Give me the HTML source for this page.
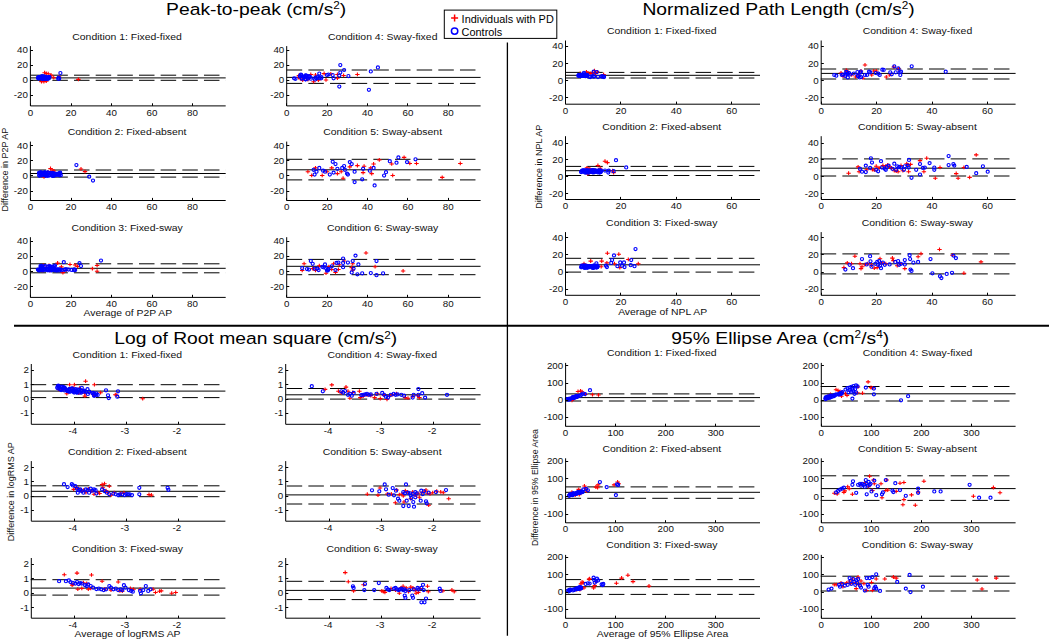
<!DOCTYPE html><html><head><meta charset="utf-8"><style>html,body{margin:0;padding:0;background:#fff;width:1050px;height:639px;overflow:hidden}svg{display:block}</style></head><body><svg width="1050" height="639" viewBox="0 0 1050 639" font-family="&quot;Liberation Sans&quot;, sans-serif">
<rect width="1050" height="639" fill="#fff"/>
<path d="M30.70 75.20H225.70M30.70 80.30H225.70" stroke="#000" stroke-width="1" stroke-dasharray="15.5 6.16" fill="none"/>
<path d="M30.40 77.90H225.70" stroke="#000" stroke-width="1" fill="none"/>
<path d="M42.4 72.8h4.4M44.6 70.8v3.8" stroke="#f00" stroke-width="1.1"/>
<path d="M44.1 73.5h4.4M46.3 71.5v3.8" stroke="#f00" stroke-width="1.1"/>
<path d="M46.0 73.7h4.4M48.2 71.7v3.8" stroke="#f00" stroke-width="1.1"/>
<path d="M48.8 75.1h4.4M51 73.1v3.8" stroke="#f00" stroke-width="1.1"/>
<path d="M48.4 75.9h4.4M50.6 73.9v3.8" stroke="#f00" stroke-width="1.1"/>
<path d="M39.3 81.6h4.4M41.5 79.6v3.8" stroke="#f00" stroke-width="1.1"/>
<path d="M41.7 81.6h4.4M43.9 79.6v3.8" stroke="#f00" stroke-width="1.1"/>
<path d="M44.1 81.3h4.4M46.3 79.3v3.8" stroke="#f00" stroke-width="1.1"/>
<path d="M51.5 77.8h4.4M53.7 75.8v3.8" stroke="#f00" stroke-width="1.1"/>
<path d="M56.9 76.8h4.4M59.1 74.8v3.8" stroke="#f00" stroke-width="1.1"/>
<path d="M76.2 79.4h4.4M78.4 77.4v3.8" stroke="#f00" stroke-width="1.1"/>
<circle cx="41.7" cy="77.3" r="1.55" stroke="#00f" stroke-width="1.15" fill="none"/>
<circle cx="45.5" cy="77.1" r="1.55" stroke="#00f" stroke-width="1.15" fill="none"/>
<circle cx="44.2" cy="77.7" r="1.55" stroke="#00f" stroke-width="1.15" fill="none"/>
<circle cx="38.7" cy="77.9" r="1.55" stroke="#00f" stroke-width="1.15" fill="none"/>
<circle cx="38.4" cy="77.8" r="1.55" stroke="#00f" stroke-width="1.15" fill="none"/>
<circle cx="38.8" cy="77.2" r="1.55" stroke="#00f" stroke-width="1.15" fill="none"/>
<circle cx="42.9" cy="78.5" r="1.55" stroke="#00f" stroke-width="1.15" fill="none"/>
<circle cx="39.4" cy="77.4" r="1.55" stroke="#00f" stroke-width="1.15" fill="none"/>
<circle cx="45.2" cy="78.7" r="1.55" stroke="#00f" stroke-width="1.15" fill="none"/>
<circle cx="44.6" cy="77.7" r="1.55" stroke="#00f" stroke-width="1.15" fill="none"/>
<circle cx="49.2" cy="77.1" r="1.55" stroke="#00f" stroke-width="1.15" fill="none"/>
<circle cx="47.9" cy="77.5" r="1.55" stroke="#00f" stroke-width="1.15" fill="none"/>
<circle cx="39.7" cy="77.2" r="1.55" stroke="#00f" stroke-width="1.15" fill="none"/>
<circle cx="41.5" cy="78.5" r="1.55" stroke="#00f" stroke-width="1.15" fill="none"/>
<circle cx="40.1" cy="78.0" r="1.55" stroke="#00f" stroke-width="1.15" fill="none"/>
<circle cx="45.3" cy="77.7" r="1.55" stroke="#00f" stroke-width="1.15" fill="none"/>
<circle cx="44.3" cy="77.1" r="1.55" stroke="#00f" stroke-width="1.15" fill="none"/>
<circle cx="38.7" cy="77.4" r="1.55" stroke="#00f" stroke-width="1.15" fill="none"/>
<circle cx="45.8" cy="77.8" r="1.55" stroke="#00f" stroke-width="1.15" fill="none"/>
<circle cx="41.6" cy="78.1" r="1.55" stroke="#00f" stroke-width="1.15" fill="none"/>
<circle cx="43.2" cy="77.5" r="1.55" stroke="#00f" stroke-width="1.15" fill="none"/>
<circle cx="47.1" cy="78.3" r="1.55" stroke="#00f" stroke-width="1.15" fill="none"/>
<circle cx="40.8" cy="78.0" r="1.55" stroke="#00f" stroke-width="1.15" fill="none"/>
<circle cx="44.0" cy="78.6" r="1.55" stroke="#00f" stroke-width="1.15" fill="none"/>
<circle cx="46.4" cy="77.5" r="1.55" stroke="#00f" stroke-width="1.15" fill="none"/>
<circle cx="49.3" cy="77.2" r="1.55" stroke="#00f" stroke-width="1.15" fill="none"/>
<circle cx="42.8" cy="78.4" r="1.55" stroke="#00f" stroke-width="1.15" fill="none"/>
<circle cx="39.7" cy="77.9" r="1.55" stroke="#00f" stroke-width="1.15" fill="none"/>
<circle cx="38.5" cy="78.2" r="1.55" stroke="#00f" stroke-width="1.15" fill="none"/>
<circle cx="46.8" cy="78.0" r="1.55" stroke="#00f" stroke-width="1.15" fill="none"/>
<circle cx="48.1" cy="77.6" r="1.55" stroke="#00f" stroke-width="1.15" fill="none"/>
<circle cx="46.0" cy="78.1" r="1.55" stroke="#00f" stroke-width="1.15" fill="none"/>
<circle cx="44.7" cy="77.8" r="1.55" stroke="#00f" stroke-width="1.15" fill="none"/>
<circle cx="47.7" cy="78.7" r="1.55" stroke="#00f" stroke-width="1.15" fill="none"/>
<circle cx="43.5" cy="78.2" r="1.55" stroke="#00f" stroke-width="1.15" fill="none"/>
<circle cx="38.7" cy="78.3" r="1.55" stroke="#00f" stroke-width="1.15" fill="none"/>
<circle cx="45.4" cy="78.8" r="1.55" stroke="#00f" stroke-width="1.15" fill="none"/>
<circle cx="47.5" cy="77.5" r="1.55" stroke="#00f" stroke-width="1.15" fill="none"/>
<circle cx="42.4" cy="78.2" r="1.55" stroke="#00f" stroke-width="1.15" fill="none"/>
<circle cx="38.3" cy="77.8" r="1.55" stroke="#00f" stroke-width="1.15" fill="none"/>
<circle cx="39.9" cy="77.2" r="1.55" stroke="#00f" stroke-width="1.15" fill="none"/>
<circle cx="38.7" cy="78.4" r="1.55" stroke="#00f" stroke-width="1.15" fill="none"/>
<circle cx="39.5" cy="77.4" r="1.55" stroke="#00f" stroke-width="1.15" fill="none"/>
<circle cx="42.5" cy="78.6" r="1.55" stroke="#00f" stroke-width="1.15" fill="none"/>
<circle cx="38.9" cy="77.8" r="1.55" stroke="#00f" stroke-width="1.15" fill="none"/>
<circle cx="44.3" cy="78.6" r="1.55" stroke="#00f" stroke-width="1.15" fill="none"/>
<circle cx="47.4" cy="78.6" r="1.55" stroke="#00f" stroke-width="1.15" fill="none"/>
<circle cx="41.2" cy="77.7" r="1.55" stroke="#00f" stroke-width="1.15" fill="none"/>
<circle cx="42.1" cy="78.6" r="1.55" stroke="#00f" stroke-width="1.15" fill="none"/>
<circle cx="49.0" cy="77.3" r="1.55" stroke="#00f" stroke-width="1.15" fill="none"/>
<circle cx="40.0" cy="77.4" r="1.55" stroke="#00f" stroke-width="1.15" fill="none"/>
<circle cx="40.7" cy="77.9" r="1.55" stroke="#00f" stroke-width="1.15" fill="none"/>
<circle cx="44.8" cy="77.5" r="1.55" stroke="#00f" stroke-width="1.15" fill="none"/>
<circle cx="38.0" cy="77.8" r="1.55" stroke="#00f" stroke-width="1.15" fill="none"/>
<circle cx="42.2" cy="78.0" r="1.55" stroke="#00f" stroke-width="1.15" fill="none"/>
<circle cx="49.0" cy="78.2" r="1.55" stroke="#00f" stroke-width="1.15" fill="none"/>
<circle cx="43.9" cy="78.1" r="1.55" stroke="#00f" stroke-width="1.15" fill="none"/>
<circle cx="45.8" cy="77.1" r="1.55" stroke="#00f" stroke-width="1.15" fill="none"/>
<circle cx="48.3" cy="78.4" r="1.55" stroke="#00f" stroke-width="1.15" fill="none"/>
<circle cx="48.1" cy="78.4" r="1.55" stroke="#00f" stroke-width="1.15" fill="none"/>
<circle cx="42" cy="76.2" r="1.55" stroke="#00f" stroke-width="1.15" fill="none"/>
<circle cx="44" cy="76.4" r="1.55" stroke="#00f" stroke-width="1.15" fill="none"/>
<circle cx="60.4" cy="73" r="1.55" stroke="#00f" stroke-width="1.15" fill="none"/>
<circle cx="58.2" cy="78.7" r="1.55" stroke="#00f" stroke-width="1.15" fill="none"/>
<circle cx="59.2" cy="78.7" r="1.55" stroke="#00f" stroke-width="1.15" fill="none"/>
<circle cx="58.7" cy="77.5" r="1.55" stroke="#00f" stroke-width="1.15" fill="none"/>
<path d="M30.40 46.10V105.90H225.70" stroke="#000" stroke-width="1" fill="none"/>
<path d="M30.40 50.50h2.6M30.40 65.50h2.6M30.40 80.50h2.6M30.40 95.50h2.6M30.50 105.90v-2.6M71.50 105.90v-2.6M111.50 105.90v-2.6M152.50 105.90v-2.6M192.50 105.90v-2.6" stroke="#000" stroke-width="1" fill="none"/>
<text transform="translate(28.00,53.00) scale(1.180,1)" font-size="8.3" text-anchor="end" fill="#111" >40</text>
<text transform="translate(28.00,68.10) scale(1.180,1)" font-size="8.3" text-anchor="end" fill="#111" >20</text>
<text transform="translate(28.00,83.20) scale(1.180,1)" font-size="8.3" text-anchor="end" fill="#111" >0</text>
<text transform="translate(28.00,98.30) scale(1.180,1)" font-size="8.3" text-anchor="end" fill="#111" >-20</text>
<text transform="translate(30.50,115.50) scale(1.180,1)" font-size="8.3" text-anchor="middle" fill="#111" >0</text>
<text transform="translate(71.00,115.50) scale(1.180,1)" font-size="8.3" text-anchor="middle" fill="#111" >20</text>
<text transform="translate(111.50,115.50) scale(1.180,1)" font-size="8.3" text-anchor="middle" fill="#111" >40</text>
<text transform="translate(152.00,115.50) scale(1.180,1)" font-size="8.3" text-anchor="middle" fill="#111" >60</text>
<text transform="translate(192.50,115.50) scale(1.180,1)" font-size="8.3" text-anchor="middle" fill="#111" >80</text>
<text transform="translate(127.05,39.60) scale(1.160,1)" font-size="9.0" text-anchor="middle" fill="#111" >Condition 1: Fixed-fixed</text>
<path d="M30.70 170.00H225.70M30.70 177.10H225.70" stroke="#000" stroke-width="1" stroke-dasharray="15.5 6.16" fill="none"/>
<path d="M30.40 173.50H225.70" stroke="#000" stroke-width="1" fill="none"/>
<path d="M48.3 168.6h4.4M50.5 166.6v3.8" stroke="#f00" stroke-width="1.1"/>
<path d="M49.8 170h4.4M52 168.0v3.8" stroke="#f00" stroke-width="1.1"/>
<path d="M45.8 172h4.4M48 170.0v3.8" stroke="#f00" stroke-width="1.1"/>
<path d="M51.8 171h4.4M54 169.0v3.8" stroke="#f00" stroke-width="1.1"/>
<path d="M43.8 175h4.4M46 173.0v3.8" stroke="#f00" stroke-width="1.1"/>
<path d="M78.8 169h4.4M81 167.0v3.8" stroke="#f00" stroke-width="1.1"/>
<path d="M82.8 171.6h4.4M85 169.6v3.8" stroke="#f00" stroke-width="1.1"/>
<path d="M55.8 174h4.4M58 172.0v3.8" stroke="#f00" stroke-width="1.1"/>
<path d="M41.8 177h4.4M44 175.0v3.8" stroke="#f00" stroke-width="1.1"/>
<circle cx="45.3" cy="173.7" r="1.55" stroke="#00f" stroke-width="1.15" fill="none"/>
<circle cx="40.7" cy="174.5" r="1.55" stroke="#00f" stroke-width="1.15" fill="none"/>
<circle cx="40.0" cy="172.5" r="1.55" stroke="#00f" stroke-width="1.15" fill="none"/>
<circle cx="42.3" cy="172.9" r="1.55" stroke="#00f" stroke-width="1.15" fill="none"/>
<circle cx="44.4" cy="172.5" r="1.55" stroke="#00f" stroke-width="1.15" fill="none"/>
<circle cx="39.0" cy="172.8" r="1.55" stroke="#00f" stroke-width="1.15" fill="none"/>
<circle cx="40.6" cy="173.6" r="1.55" stroke="#00f" stroke-width="1.15" fill="none"/>
<circle cx="39.4" cy="175.4" r="1.55" stroke="#00f" stroke-width="1.15" fill="none"/>
<circle cx="48.8" cy="172.8" r="1.55" stroke="#00f" stroke-width="1.15" fill="none"/>
<circle cx="43.0" cy="173.5" r="1.55" stroke="#00f" stroke-width="1.15" fill="none"/>
<circle cx="44.8" cy="172.7" r="1.55" stroke="#00f" stroke-width="1.15" fill="none"/>
<circle cx="52.6" cy="175.8" r="1.55" stroke="#00f" stroke-width="1.15" fill="none"/>
<circle cx="46.5" cy="174.0" r="1.55" stroke="#00f" stroke-width="1.15" fill="none"/>
<circle cx="40.4" cy="172.7" r="1.55" stroke="#00f" stroke-width="1.15" fill="none"/>
<circle cx="44.5" cy="173.2" r="1.55" stroke="#00f" stroke-width="1.15" fill="none"/>
<circle cx="52.3" cy="172.9" r="1.55" stroke="#00f" stroke-width="1.15" fill="none"/>
<circle cx="39.4" cy="175.6" r="1.55" stroke="#00f" stroke-width="1.15" fill="none"/>
<circle cx="47.5" cy="172.8" r="1.55" stroke="#00f" stroke-width="1.15" fill="none"/>
<circle cx="47.7" cy="172.4" r="1.55" stroke="#00f" stroke-width="1.15" fill="none"/>
<circle cx="47.4" cy="175.7" r="1.55" stroke="#00f" stroke-width="1.15" fill="none"/>
<circle cx="52.8" cy="174.7" r="1.55" stroke="#00f" stroke-width="1.15" fill="none"/>
<circle cx="43.2" cy="173.6" r="1.55" stroke="#00f" stroke-width="1.15" fill="none"/>
<circle cx="41.7" cy="175.0" r="1.55" stroke="#00f" stroke-width="1.15" fill="none"/>
<circle cx="47.5" cy="175.0" r="1.55" stroke="#00f" stroke-width="1.15" fill="none"/>
<circle cx="44.3" cy="173.1" r="1.55" stroke="#00f" stroke-width="1.15" fill="none"/>
<circle cx="52.0" cy="175.7" r="1.55" stroke="#00f" stroke-width="1.15" fill="none"/>
<circle cx="52.6" cy="175.1" r="1.55" stroke="#00f" stroke-width="1.15" fill="none"/>
<circle cx="52.1" cy="174.9" r="1.55" stroke="#00f" stroke-width="1.15" fill="none"/>
<circle cx="42.6" cy="174.1" r="1.55" stroke="#00f" stroke-width="1.15" fill="none"/>
<circle cx="44.7" cy="172.4" r="1.55" stroke="#00f" stroke-width="1.15" fill="none"/>
<circle cx="39.4" cy="173.3" r="1.55" stroke="#00f" stroke-width="1.15" fill="none"/>
<circle cx="43.1" cy="174.7" r="1.55" stroke="#00f" stroke-width="1.15" fill="none"/>
<circle cx="54.3" cy="173.9" r="1.55" stroke="#00f" stroke-width="1.15" fill="none"/>
<circle cx="54.0" cy="175.8" r="1.55" stroke="#00f" stroke-width="1.15" fill="none"/>
<circle cx="54.3" cy="173.6" r="1.55" stroke="#00f" stroke-width="1.15" fill="none"/>
<circle cx="42.5" cy="173.1" r="1.55" stroke="#00f" stroke-width="1.15" fill="none"/>
<circle cx="42.1" cy="173.0" r="1.55" stroke="#00f" stroke-width="1.15" fill="none"/>
<circle cx="49.0" cy="175.5" r="1.55" stroke="#00f" stroke-width="1.15" fill="none"/>
<circle cx="52.4" cy="174.0" r="1.55" stroke="#00f" stroke-width="1.15" fill="none"/>
<circle cx="49.4" cy="175.1" r="1.55" stroke="#00f" stroke-width="1.15" fill="none"/>
<circle cx="40.4" cy="174.6" r="1.55" stroke="#00f" stroke-width="1.15" fill="none"/>
<circle cx="53.6" cy="175.0" r="1.55" stroke="#00f" stroke-width="1.15" fill="none"/>
<circle cx="51.0" cy="174.0" r="1.55" stroke="#00f" stroke-width="1.15" fill="none"/>
<circle cx="41.9" cy="175.1" r="1.55" stroke="#00f" stroke-width="1.15" fill="none"/>
<circle cx="44.3" cy="175.1" r="1.55" stroke="#00f" stroke-width="1.15" fill="none"/>
<circle cx="54.5" cy="173.7" r="1.55" stroke="#00f" stroke-width="1.15" fill="none"/>
<circle cx="45.4" cy="175.6" r="1.55" stroke="#00f" stroke-width="1.15" fill="none"/>
<circle cx="50.6" cy="172.9" r="1.55" stroke="#00f" stroke-width="1.15" fill="none"/>
<circle cx="41.0" cy="172.8" r="1.55" stroke="#00f" stroke-width="1.15" fill="none"/>
<circle cx="53.5" cy="175.1" r="1.55" stroke="#00f" stroke-width="1.15" fill="none"/>
<circle cx="41.3" cy="175.2" r="1.55" stroke="#00f" stroke-width="1.15" fill="none"/>
<circle cx="54.7" cy="174.6" r="1.55" stroke="#00f" stroke-width="1.15" fill="none"/>
<circle cx="44.6" cy="174.2" r="1.55" stroke="#00f" stroke-width="1.15" fill="none"/>
<circle cx="41.1" cy="172.3" r="1.55" stroke="#00f" stroke-width="1.15" fill="none"/>
<circle cx="54.5" cy="174.6" r="1.55" stroke="#00f" stroke-width="1.15" fill="none"/>
<circle cx="47.4" cy="175.6" r="1.55" stroke="#00f" stroke-width="1.15" fill="none"/>
<circle cx="45.9" cy="175.4" r="1.55" stroke="#00f" stroke-width="1.15" fill="none"/>
<circle cx="52.2" cy="173.0" r="1.55" stroke="#00f" stroke-width="1.15" fill="none"/>
<circle cx="43.0" cy="173.3" r="1.55" stroke="#00f" stroke-width="1.15" fill="none"/>
<circle cx="42.8" cy="174.4" r="1.55" stroke="#00f" stroke-width="1.15" fill="none"/>
<circle cx="57.6" cy="173.8" r="1.55" stroke="#00f" stroke-width="1.15" fill="none"/>
<circle cx="56.3" cy="175.2" r="1.55" stroke="#00f" stroke-width="1.15" fill="none"/>
<circle cx="58.5" cy="173.9" r="1.55" stroke="#00f" stroke-width="1.15" fill="none"/>
<circle cx="60.8" cy="175.2" r="1.55" stroke="#00f" stroke-width="1.15" fill="none"/>
<circle cx="59.2" cy="175.3" r="1.55" stroke="#00f" stroke-width="1.15" fill="none"/>
<circle cx="60.0" cy="174.1" r="1.55" stroke="#00f" stroke-width="1.15" fill="none"/>
<circle cx="60.2" cy="172.6" r="1.55" stroke="#00f" stroke-width="1.15" fill="none"/>
<circle cx="59.4" cy="173.0" r="1.55" stroke="#00f" stroke-width="1.15" fill="none"/>
<circle cx="55.0" cy="174.9" r="1.55" stroke="#00f" stroke-width="1.15" fill="none"/>
<circle cx="56.7" cy="173.9" r="1.55" stroke="#00f" stroke-width="1.15" fill="none"/>
<circle cx="76.4" cy="165" r="1.55" stroke="#00f" stroke-width="1.15" fill="none"/>
<circle cx="89.2" cy="176.7" r="1.55" stroke="#00f" stroke-width="1.15" fill="none"/>
<circle cx="93" cy="180.5" r="1.55" stroke="#00f" stroke-width="1.15" fill="none"/>
<path d="M30.40 141.60V200.50H225.70" stroke="#000" stroke-width="1" fill="none"/>
<path d="M30.40 145.50h2.6M30.40 160.50h2.6M30.40 175.50h2.6M30.40 191.50h2.6M30.50 200.50v-2.6M71.50 200.50v-2.6M111.50 200.50v-2.6M152.50 200.50v-2.6M192.50 200.50v-2.6" stroke="#000" stroke-width="1" fill="none"/>
<text transform="translate(28.00,148.70) scale(1.180,1)" font-size="8.3" text-anchor="end" fill="#111" >40</text>
<text transform="translate(28.00,163.80) scale(1.180,1)" font-size="8.3" text-anchor="end" fill="#111" >20</text>
<text transform="translate(28.00,178.90) scale(1.180,1)" font-size="8.3" text-anchor="end" fill="#111" >0</text>
<text transform="translate(28.00,194.00) scale(1.180,1)" font-size="8.3" text-anchor="end" fill="#111" >-20</text>
<text transform="translate(30.50,210.10) scale(1.180,1)" font-size="8.3" text-anchor="middle" fill="#111" >0</text>
<text transform="translate(71.00,210.10) scale(1.180,1)" font-size="8.3" text-anchor="middle" fill="#111" >20</text>
<text transform="translate(111.50,210.10) scale(1.180,1)" font-size="8.3" text-anchor="middle" fill="#111" >40</text>
<text transform="translate(152.00,210.10) scale(1.180,1)" font-size="8.3" text-anchor="middle" fill="#111" >60</text>
<text transform="translate(192.50,210.10) scale(1.180,1)" font-size="8.3" text-anchor="middle" fill="#111" >80</text>
<text transform="translate(127.05,135.10) scale(1.160,1)" font-size="9.0" text-anchor="middle" fill="#111" >Condition 2: Fixed-absent</text>
<path d="M30.70 263.80H225.70M30.70 272.80H225.70" stroke="#000" stroke-width="1" stroke-dasharray="15.5 6.16" fill="none"/>
<path d="M30.40 268.30H225.70" stroke="#000" stroke-width="1" fill="none"/>
<path d="M46.8 265.5h4.4M49 263.5v3.8" stroke="#f00" stroke-width="1.1"/>
<path d="M41.1 265.5h4.4M43.3 263.5v3.8" stroke="#f00" stroke-width="1.1"/>
<path d="M55.4 263.1h4.4M57.6 261.1v3.8" stroke="#f00" stroke-width="1.1"/>
<path d="M59.2 266.9h4.4M61.4 264.9v3.8" stroke="#f00" stroke-width="1.1"/>
<path d="M67.8 264.5h4.4M70 262.5v3.8" stroke="#f00" stroke-width="1.1"/>
<path d="M73.0 265h4.4M75.2 263.0v3.8" stroke="#f00" stroke-width="1.1"/>
<path d="M75.4 266.4h4.4M77.6 264.4v3.8" stroke="#f00" stroke-width="1.1"/>
<path d="M60.7 272.6h4.4M62.9 270.6v3.8" stroke="#f00" stroke-width="1.1"/>
<path d="M90.2 268.8h4.4M92.4 266.8v3.8" stroke="#f00" stroke-width="1.1"/>
<path d="M94.9 265.5h4.4M97.1 263.5v3.8" stroke="#f00" stroke-width="1.1"/>
<path d="M94.9 271.2h4.4M97.1 269.2v3.8" stroke="#f00" stroke-width="1.1"/>
<path d="M47.8 270.7h4.4M50 268.7v3.8" stroke="#f00" stroke-width="1.1"/>
<path d="M40.2 270.7h4.4M42.4 268.7v3.8" stroke="#f00" stroke-width="1.1"/>
<path d="M64.0 270.2h4.4M66.2 268.2v3.8" stroke="#f00" stroke-width="1.1"/>
<path d="M50.8 268h4.4M53 266.0v3.8" stroke="#f00" stroke-width="1.1"/>
<path d="M43.8 268h4.4M46 266.0v3.8" stroke="#f00" stroke-width="1.1"/>
<circle cx="55.3" cy="269.9" r="1.55" stroke="#00f" stroke-width="1.15" fill="none"/>
<circle cx="45.5" cy="269.8" r="1.55" stroke="#00f" stroke-width="1.15" fill="none"/>
<circle cx="51.1" cy="270.1" r="1.55" stroke="#00f" stroke-width="1.15" fill="none"/>
<circle cx="40.1" cy="269.9" r="1.55" stroke="#00f" stroke-width="1.15" fill="none"/>
<circle cx="43.6" cy="269.5" r="1.55" stroke="#00f" stroke-width="1.15" fill="none"/>
<circle cx="56.4" cy="269.8" r="1.55" stroke="#00f" stroke-width="1.15" fill="none"/>
<circle cx="51.3" cy="270.1" r="1.55" stroke="#00f" stroke-width="1.15" fill="none"/>
<circle cx="59.9" cy="269.7" r="1.55" stroke="#00f" stroke-width="1.15" fill="none"/>
<circle cx="52.5" cy="269.8" r="1.55" stroke="#00f" stroke-width="1.15" fill="none"/>
<circle cx="50.0" cy="270.0" r="1.55" stroke="#00f" stroke-width="1.15" fill="none"/>
<circle cx="48.6" cy="269.8" r="1.55" stroke="#00f" stroke-width="1.15" fill="none"/>
<circle cx="49.2" cy="270.3" r="1.55" stroke="#00f" stroke-width="1.15" fill="none"/>
<circle cx="54.6" cy="270.3" r="1.55" stroke="#00f" stroke-width="1.15" fill="none"/>
<circle cx="60.6" cy="269.5" r="1.55" stroke="#00f" stroke-width="1.15" fill="none"/>
<circle cx="51.2" cy="270.3" r="1.55" stroke="#00f" stroke-width="1.15" fill="none"/>
<circle cx="58.1" cy="269.4" r="1.55" stroke="#00f" stroke-width="1.15" fill="none"/>
<circle cx="40.5" cy="269.7" r="1.55" stroke="#00f" stroke-width="1.15" fill="none"/>
<circle cx="39.3" cy="269.5" r="1.55" stroke="#00f" stroke-width="1.15" fill="none"/>
<circle cx="39.3" cy="270.0" r="1.55" stroke="#00f" stroke-width="1.15" fill="none"/>
<circle cx="56.7" cy="270.3" r="1.55" stroke="#00f" stroke-width="1.15" fill="none"/>
<circle cx="41.3" cy="270.1" r="1.55" stroke="#00f" stroke-width="1.15" fill="none"/>
<circle cx="53.7" cy="269.4" r="1.55" stroke="#00f" stroke-width="1.15" fill="none"/>
<circle cx="59.1" cy="270.4" r="1.55" stroke="#00f" stroke-width="1.15" fill="none"/>
<circle cx="42.9" cy="270.3" r="1.55" stroke="#00f" stroke-width="1.15" fill="none"/>
<circle cx="47.3" cy="269.8" r="1.55" stroke="#00f" stroke-width="1.15" fill="none"/>
<circle cx="61.8" cy="270.2" r="1.55" stroke="#00f" stroke-width="1.15" fill="none"/>
<circle cx="41.5" cy="269.7" r="1.55" stroke="#00f" stroke-width="1.15" fill="none"/>
<circle cx="50.1" cy="269.6" r="1.55" stroke="#00f" stroke-width="1.15" fill="none"/>
<circle cx="42.3" cy="269.6" r="1.55" stroke="#00f" stroke-width="1.15" fill="none"/>
<circle cx="55.2" cy="269.2" r="1.55" stroke="#00f" stroke-width="1.15" fill="none"/>
<circle cx="51.1" cy="269.7" r="1.55" stroke="#00f" stroke-width="1.15" fill="none"/>
<circle cx="37.9" cy="269.6" r="1.55" stroke="#00f" stroke-width="1.15" fill="none"/>
<circle cx="52.8" cy="269.8" r="1.55" stroke="#00f" stroke-width="1.15" fill="none"/>
<circle cx="39.1" cy="270.4" r="1.55" stroke="#00f" stroke-width="1.15" fill="none"/>
<circle cx="56.8" cy="270.4" r="1.55" stroke="#00f" stroke-width="1.15" fill="none"/>
<circle cx="40.1" cy="269.5" r="1.55" stroke="#00f" stroke-width="1.15" fill="none"/>
<circle cx="38.5" cy="270.1" r="1.55" stroke="#00f" stroke-width="1.15" fill="none"/>
<circle cx="44.1" cy="269.4" r="1.55" stroke="#00f" stroke-width="1.15" fill="none"/>
<circle cx="47.8" cy="270.3" r="1.55" stroke="#00f" stroke-width="1.15" fill="none"/>
<circle cx="57.6" cy="269.5" r="1.55" stroke="#00f" stroke-width="1.15" fill="none"/>
<circle cx="42.4" cy="267.3" r="1.55" stroke="#00f" stroke-width="1.15" fill="none"/>
<circle cx="50.6" cy="266.9" r="1.55" stroke="#00f" stroke-width="1.15" fill="none"/>
<circle cx="41.2" cy="265.9" r="1.55" stroke="#00f" stroke-width="1.15" fill="none"/>
<circle cx="52.9" cy="266.5" r="1.55" stroke="#00f" stroke-width="1.15" fill="none"/>
<circle cx="40.9" cy="267.3" r="1.55" stroke="#00f" stroke-width="1.15" fill="none"/>
<circle cx="51.9" cy="267.1" r="1.55" stroke="#00f" stroke-width="1.15" fill="none"/>
<circle cx="41.1" cy="267.2" r="1.55" stroke="#00f" stroke-width="1.15" fill="none"/>
<circle cx="40.8" cy="267.2" r="1.55" stroke="#00f" stroke-width="1.15" fill="none"/>
<circle cx="48.3" cy="266.3" r="1.55" stroke="#00f" stroke-width="1.15" fill="none"/>
<circle cx="50.3" cy="267.3" r="1.55" stroke="#00f" stroke-width="1.15" fill="none"/>
<circle cx="44.7" cy="266.0" r="1.55" stroke="#00f" stroke-width="1.15" fill="none"/>
<circle cx="49.8" cy="266.2" r="1.55" stroke="#00f" stroke-width="1.15" fill="none"/>
<circle cx="41.6" cy="266.1" r="1.55" stroke="#00f" stroke-width="1.15" fill="none"/>
<circle cx="40.5" cy="266.1" r="1.55" stroke="#00f" stroke-width="1.15" fill="none"/>
<circle cx="45.6" cy="266.3" r="1.55" stroke="#00f" stroke-width="1.15" fill="none"/>
<circle cx="54.3" cy="266.3" r="1.55" stroke="#00f" stroke-width="1.15" fill="none"/>
<circle cx="68.5" cy="269.5" r="1.55" stroke="#00f" stroke-width="1.15" fill="none"/>
<circle cx="66.5" cy="269.3" r="1.55" stroke="#00f" stroke-width="1.15" fill="none"/>
<circle cx="65.3" cy="269.3" r="1.55" stroke="#00f" stroke-width="1.15" fill="none"/>
<circle cx="71.5" cy="269.9" r="1.55" stroke="#00f" stroke-width="1.15" fill="none"/>
<circle cx="64.5" cy="269.8" r="1.55" stroke="#00f" stroke-width="1.15" fill="none"/>
<circle cx="74.2" cy="269.4" r="1.55" stroke="#00f" stroke-width="1.15" fill="none"/>
<circle cx="63.8" cy="262.1" r="1.55" stroke="#00f" stroke-width="1.15" fill="none"/>
<circle cx="55" cy="265.5" r="1.55" stroke="#00f" stroke-width="1.15" fill="none"/>
<circle cx="79.5" cy="263.1" r="1.55" stroke="#00f" stroke-width="1.15" fill="none"/>
<circle cx="81" cy="266" r="1.55" stroke="#00f" stroke-width="1.15" fill="none"/>
<circle cx="73.8" cy="270.2" r="1.55" stroke="#00f" stroke-width="1.15" fill="none"/>
<circle cx="75.2" cy="270" r="1.55" stroke="#00f" stroke-width="1.15" fill="none"/>
<circle cx="101" cy="260.5" r="1.55" stroke="#00f" stroke-width="1.15" fill="none"/>
<path d="M30.40 237.20V297.40H225.70" stroke="#000" stroke-width="1" fill="none"/>
<path d="M30.40 241.50h2.6M30.40 256.50h2.6M30.40 271.50h2.6M30.40 286.50h2.6M30.50 297.40v-2.6M71.50 297.40v-2.6M111.50 297.40v-2.6M152.50 297.40v-2.6M192.50 297.40v-2.6" stroke="#000" stroke-width="1" fill="none"/>
<text transform="translate(28.00,244.42) scale(1.180,1)" font-size="8.3" text-anchor="end" fill="#111" >40</text>
<text transform="translate(28.00,259.46) scale(1.180,1)" font-size="8.3" text-anchor="end" fill="#111" >20</text>
<text transform="translate(28.00,274.50) scale(1.180,1)" font-size="8.3" text-anchor="end" fill="#111" >0</text>
<text transform="translate(28.00,289.54) scale(1.180,1)" font-size="8.3" text-anchor="end" fill="#111" >-20</text>
<text transform="translate(30.50,307.00) scale(1.180,1)" font-size="8.3" text-anchor="middle" fill="#111" >0</text>
<text transform="translate(71.00,307.00) scale(1.180,1)" font-size="8.3" text-anchor="middle" fill="#111" >20</text>
<text transform="translate(111.50,307.00) scale(1.180,1)" font-size="8.3" text-anchor="middle" fill="#111" >40</text>
<text transform="translate(152.00,307.00) scale(1.180,1)" font-size="8.3" text-anchor="middle" fill="#111" >60</text>
<text transform="translate(192.50,307.00) scale(1.180,1)" font-size="8.3" text-anchor="middle" fill="#111" >80</text>
<text transform="translate(127.05,230.70) scale(1.160,1)" font-size="9.0" text-anchor="middle" fill="#111" >Condition 3: Fixed-sway</text>
<path d="M286.70 70.00H480.60M286.70 83.40H480.60" stroke="#000" stroke-width="1" stroke-dasharray="15.5 6.16" fill="none"/>
<path d="M286.70 77.40H480.60" stroke="#000" stroke-width="1" fill="none"/>
<path d="M296.7 75.5h4.4M298.9 73.5v3.8" stroke="#f00" stroke-width="1.1"/>
<path d="M296.2 77.4h4.4M298.4 75.4v3.8" stroke="#f00" stroke-width="1.1"/>
<path d="M300.5 80.2h4.4M302.7 78.2v3.8" stroke="#f00" stroke-width="1.1"/>
<path d="M311.4 81.7h4.4M313.6 79.7v3.8" stroke="#f00" stroke-width="1.1"/>
<path d="M316.2 80.2h4.4M318.4 78.2v3.8" stroke="#f00" stroke-width="1.1"/>
<path d="M313.3 75h4.4M315.5 73.0v3.8" stroke="#f00" stroke-width="1.1"/>
<path d="M308.6 74.5h4.4M310.8 72.5v3.8" stroke="#f00" stroke-width="1.1"/>
<path d="M321.9 73.6h4.4M324.1 71.6v3.8" stroke="#f00" stroke-width="1.1"/>
<path d="M323.8 80h4.4M326 78.0v3.8" stroke="#f00" stroke-width="1.1"/>
<path d="M328.6 74h4.4M330.8 72.0v3.8" stroke="#f00" stroke-width="1.1"/>
<path d="M335.2 74.5h4.4M337.4 72.5v3.8" stroke="#f00" stroke-width="1.1"/>
<path d="M335.2 78.3h4.4M337.4 76.3v3.8" stroke="#f00" stroke-width="1.1"/>
<path d="M341.4 75.5h4.4M343.6 73.5v3.8" stroke="#f00" stroke-width="1.1"/>
<path d="M355.2 74.5h4.4M357.4 72.5v3.8" stroke="#f00" stroke-width="1.1"/>
<path d="M305.7 79.8h4.4M307.9 77.8v3.8" stroke="#f00" stroke-width="1.1"/>
<path d="M298.1 78.8h4.4M300.3 76.8v3.8" stroke="#f00" stroke-width="1.1"/>
<circle cx="318.0" cy="76.7" r="1.55" stroke="#00f" stroke-width="1.15" fill="none"/>
<circle cx="310.9" cy="78.7" r="1.55" stroke="#00f" stroke-width="1.15" fill="none"/>
<circle cx="308.6" cy="77.0" r="1.55" stroke="#00f" stroke-width="1.15" fill="none"/>
<circle cx="315.1" cy="79.4" r="1.55" stroke="#00f" stroke-width="1.15" fill="none"/>
<circle cx="307.5" cy="78.7" r="1.55" stroke="#00f" stroke-width="1.15" fill="none"/>
<circle cx="315.5" cy="77.7" r="1.55" stroke="#00f" stroke-width="1.15" fill="none"/>
<circle cx="308.9" cy="76.2" r="1.55" stroke="#00f" stroke-width="1.15" fill="none"/>
<circle cx="301.2" cy="75.1" r="1.55" stroke="#00f" stroke-width="1.15" fill="none"/>
<circle cx="301.6" cy="78.2" r="1.55" stroke="#00f" stroke-width="1.15" fill="none"/>
<circle cx="305.6" cy="75.3" r="1.55" stroke="#00f" stroke-width="1.15" fill="none"/>
<circle cx="301.9" cy="78.7" r="1.55" stroke="#00f" stroke-width="1.15" fill="none"/>
<circle cx="319.2" cy="77.9" r="1.55" stroke="#00f" stroke-width="1.15" fill="none"/>
<circle cx="306.2" cy="75.7" r="1.55" stroke="#00f" stroke-width="1.15" fill="none"/>
<circle cx="306.4" cy="76.8" r="1.55" stroke="#00f" stroke-width="1.15" fill="none"/>
<circle cx="303.5" cy="76.7" r="1.55" stroke="#00f" stroke-width="1.15" fill="none"/>
<circle cx="305.8" cy="79.3" r="1.55" stroke="#00f" stroke-width="1.15" fill="none"/>
<circle cx="321.4" cy="77.2" r="1.55" stroke="#00f" stroke-width="1.15" fill="none"/>
<circle cx="305.4" cy="79.3" r="1.55" stroke="#00f" stroke-width="1.15" fill="none"/>
<circle cx="306.8" cy="76.3" r="1.55" stroke="#00f" stroke-width="1.15" fill="none"/>
<circle cx="300.0" cy="76.4" r="1.55" stroke="#00f" stroke-width="1.15" fill="none"/>
<circle cx="310.4" cy="77.0" r="1.55" stroke="#00f" stroke-width="1.15" fill="none"/>
<circle cx="304.4" cy="77.0" r="1.55" stroke="#00f" stroke-width="1.15" fill="none"/>
<circle cx="300.1" cy="75.8" r="1.55" stroke="#00f" stroke-width="1.15" fill="none"/>
<circle cx="302.0" cy="76.5" r="1.55" stroke="#00f" stroke-width="1.15" fill="none"/>
<circle cx="300.9" cy="74.6" r="1.55" stroke="#00f" stroke-width="1.15" fill="none"/>
<circle cx="294.1" cy="78.3" r="1.55" stroke="#00f" stroke-width="1.15" fill="none"/>
<circle cx="295.5" cy="78.8" r="1.55" stroke="#00f" stroke-width="1.15" fill="none"/>
<circle cx="319.3" cy="73.6" r="1.55" stroke="#00f" stroke-width="1.15" fill="none"/>
<circle cx="321.2" cy="78.3" r="1.55" stroke="#00f" stroke-width="1.15" fill="none"/>
<circle cx="316.5" cy="78.3" r="1.55" stroke="#00f" stroke-width="1.15" fill="none"/>
<circle cx="327" cy="75" r="1.55" stroke="#00f" stroke-width="1.15" fill="none"/>
<circle cx="328.4" cy="74.5" r="1.55" stroke="#00f" stroke-width="1.15" fill="none"/>
<circle cx="332.7" cy="75" r="1.55" stroke="#00f" stroke-width="1.15" fill="none"/>
<circle cx="333.6" cy="78.3" r="1.55" stroke="#00f" stroke-width="1.15" fill="none"/>
<circle cx="340.3" cy="65" r="1.55" stroke="#00f" stroke-width="1.15" fill="none"/>
<circle cx="340.3" cy="72.6" r="1.55" stroke="#00f" stroke-width="1.15" fill="none"/>
<circle cx="339.3" cy="75.5" r="1.55" stroke="#00f" stroke-width="1.15" fill="none"/>
<circle cx="344.1" cy="70" r="1.55" stroke="#00f" stroke-width="1.15" fill="none"/>
<circle cx="348.4" cy="76.1" r="1.55" stroke="#00f" stroke-width="1.15" fill="none"/>
<circle cx="339.3" cy="86.6" r="1.55" stroke="#00f" stroke-width="1.15" fill="none"/>
<circle cx="370.8" cy="71.4" r="1.55" stroke="#00f" stroke-width="1.15" fill="none"/>
<circle cx="377.9" cy="67.4" r="1.55" stroke="#00f" stroke-width="1.15" fill="none"/>
<circle cx="368.9" cy="89.8" r="1.55" stroke="#00f" stroke-width="1.15" fill="none"/>
<path d="M286.70 46.10V105.90H480.60" stroke="#000" stroke-width="1" fill="none"/>
<path d="M286.70 50.50h2.6M286.70 65.50h2.6M286.70 80.50h2.6M286.70 95.50h2.6M286.50 105.90v-2.6M327.50 105.90v-2.6M367.50 105.90v-2.6M407.50 105.90v-2.6M448.50 105.90v-2.6" stroke="#000" stroke-width="1" fill="none"/>
<text transform="translate(284.30,53.00) scale(1.180,1)" font-size="8.3" text-anchor="end" fill="#111" >40</text>
<text transform="translate(284.30,68.10) scale(1.180,1)" font-size="8.3" text-anchor="end" fill="#111" >20</text>
<text transform="translate(284.30,83.20) scale(1.180,1)" font-size="8.3" text-anchor="end" fill="#111" >0</text>
<text transform="translate(284.30,98.30) scale(1.180,1)" font-size="8.3" text-anchor="end" fill="#111" >-20</text>
<text transform="translate(286.70,115.50) scale(1.180,1)" font-size="8.3" text-anchor="middle" fill="#111" >0</text>
<text transform="translate(327.10,115.50) scale(1.180,1)" font-size="8.3" text-anchor="middle" fill="#111" >20</text>
<text transform="translate(367.50,115.50) scale(1.180,1)" font-size="8.3" text-anchor="middle" fill="#111" >40</text>
<text transform="translate(407.90,115.50) scale(1.180,1)" font-size="8.3" text-anchor="middle" fill="#111" >60</text>
<text transform="translate(448.30,115.50) scale(1.180,1)" font-size="8.3" text-anchor="middle" fill="#111" >80</text>
<text transform="translate(382.65,39.60) scale(1.160,1)" font-size="9.0" text-anchor="middle" fill="#111" >Condition 4: Sway-fixed</text>
<path d="M286.70 159.30H480.60M286.70 179.90H480.60" stroke="#000" stroke-width="1" stroke-dasharray="15.5 6.16" fill="none"/>
<path d="M286.70 169.80H480.60" stroke="#000" stroke-width="1" fill="none"/>
<path d="M305.7 171.7h4.4M307.9 169.7v3.8" stroke="#f00" stroke-width="1.1"/>
<path d="M309.5 175.5h4.4M311.7 173.5v3.8" stroke="#f00" stroke-width="1.1"/>
<path d="M313.3 167.9h4.4M315.5 165.9v3.8" stroke="#f00" stroke-width="1.1"/>
<path d="M320.0 175.5h4.4M322.2 173.5v3.8" stroke="#f00" stroke-width="1.1"/>
<path d="M324.8 171.7h4.4M327.0 169.7v3.8" stroke="#f00" stroke-width="1.1"/>
<path d="M329.5 167.9h4.4M331.7 165.9v3.8" stroke="#f00" stroke-width="1.1"/>
<path d="M335.2 173.6h4.4M337.4 171.6v3.8" stroke="#f00" stroke-width="1.1"/>
<path d="M339.0 171.7h4.4M341.2 169.7v3.8" stroke="#f00" stroke-width="1.1"/>
<path d="M340.9 178.3h4.4M343.1 176.3v3.8" stroke="#f00" stroke-width="1.1"/>
<path d="M347.6 166.9h4.4M349.8 164.9v3.8" stroke="#f00" stroke-width="1.1"/>
<path d="M355.2 165.6h4.4M357.4 163.6v3.8" stroke="#f00" stroke-width="1.1"/>
<path d="M360.9 172.6h4.4M363.1 170.6v3.8" stroke="#f00" stroke-width="1.1"/>
<path d="M361.9 166.3h4.4M364.1 164.3v3.8" stroke="#f00" stroke-width="1.1"/>
<path d="M368.6 167.9h4.4M370.8 165.9v3.8" stroke="#f00" stroke-width="1.1"/>
<path d="M369.5 173.6h4.4M371.7 171.6v3.8" stroke="#f00" stroke-width="1.1"/>
<path d="M371.4 164.0h4.4M373.6 162.0v3.8" stroke="#f00" stroke-width="1.1"/>
<path d="M377.1 159.9h4.4M379.3 157.9v3.8" stroke="#f00" stroke-width="1.1"/>
<path d="M389.5 164.0h4.4M391.7 162.0v3.8" stroke="#f00" stroke-width="1.1"/>
<path d="M390.5 175.5h4.4M392.7 173.5v3.8" stroke="#f00" stroke-width="1.1"/>
<path d="M401.9 157.4h4.4M404.1 155.4v3.8" stroke="#f00" stroke-width="1.1"/>
<path d="M407.6 163.5h4.4M409.8 161.5v3.8" stroke="#f00" stroke-width="1.1"/>
<path d="M414.3 163.5h4.4M416.5 161.5v3.8" stroke="#f00" stroke-width="1.1"/>
<path d="M440.0 177.4h4.4M442.2 175.4v3.8" stroke="#f00" stroke-width="1.1"/>
<path d="M458.1 163.5h4.4M460.3 161.5v3.8" stroke="#f00" stroke-width="1.1"/>
<circle cx="313.6" cy="169.8" r="1.55" stroke="#00f" stroke-width="1.15" fill="none"/>
<circle cx="314.6" cy="174.5" r="1.55" stroke="#00f" stroke-width="1.15" fill="none"/>
<circle cx="316.5" cy="171.7" r="1.55" stroke="#00f" stroke-width="1.15" fill="none"/>
<circle cx="319.3" cy="167.9" r="1.55" stroke="#00f" stroke-width="1.15" fill="none"/>
<circle cx="323.1" cy="170.7" r="1.55" stroke="#00f" stroke-width="1.15" fill="none"/>
<circle cx="325.0" cy="171.7" r="1.55" stroke="#00f" stroke-width="1.15" fill="none"/>
<circle cx="329.8" cy="174.5" r="1.55" stroke="#00f" stroke-width="1.15" fill="none"/>
<circle cx="332.7" cy="161.8" r="1.55" stroke="#00f" stroke-width="1.15" fill="none"/>
<circle cx="335.5" cy="164.0" r="1.55" stroke="#00f" stroke-width="1.15" fill="none"/>
<circle cx="333.6" cy="172.6" r="1.55" stroke="#00f" stroke-width="1.15" fill="none"/>
<circle cx="337.4" cy="168.8" r="1.55" stroke="#00f" stroke-width="1.15" fill="none"/>
<circle cx="342.2" cy="167.9" r="1.55" stroke="#00f" stroke-width="1.15" fill="none"/>
<circle cx="344.1" cy="166.0" r="1.55" stroke="#00f" stroke-width="1.15" fill="none"/>
<circle cx="345.0" cy="169.8" r="1.55" stroke="#00f" stroke-width="1.15" fill="none"/>
<circle cx="347.0" cy="173.6" r="1.55" stroke="#00f" stroke-width="1.15" fill="none"/>
<circle cx="347.9" cy="174.5" r="1.55" stroke="#00f" stroke-width="1.15" fill="none"/>
<circle cx="349.8" cy="162.1" r="1.55" stroke="#00f" stroke-width="1.15" fill="none"/>
<circle cx="351.7" cy="164.0" r="1.55" stroke="#00f" stroke-width="1.15" fill="none"/>
<circle cx="354.6" cy="182.1" r="1.55" stroke="#00f" stroke-width="1.15" fill="none"/>
<circle cx="354.6" cy="171.7" r="1.55" stroke="#00f" stroke-width="1.15" fill="none"/>
<circle cx="362.2" cy="179.3" r="1.55" stroke="#00f" stroke-width="1.15" fill="none"/>
<circle cx="363.1" cy="168.8" r="1.55" stroke="#00f" stroke-width="1.15" fill="none"/>
<circle cx="369.8" cy="170.7" r="1.55" stroke="#00f" stroke-width="1.15" fill="none"/>
<circle cx="373.6" cy="167.9" r="1.55" stroke="#00f" stroke-width="1.15" fill="none"/>
<circle cx="374.6" cy="185.4" r="1.55" stroke="#00f" stroke-width="1.15" fill="none"/>
<circle cx="384.1" cy="175.5" r="1.55" stroke="#00f" stroke-width="1.15" fill="none"/>
<circle cx="386.0" cy="172.2" r="1.55" stroke="#00f" stroke-width="1.15" fill="none"/>
<circle cx="389.8" cy="161.2" r="1.55" stroke="#00f" stroke-width="1.15" fill="none"/>
<circle cx="396.5" cy="162.7" r="1.55" stroke="#00f" stroke-width="1.15" fill="none"/>
<circle cx="398.4" cy="157.4" r="1.55" stroke="#00f" stroke-width="1.15" fill="none"/>
<circle cx="407.0" cy="162.1" r="1.55" stroke="#00f" stroke-width="1.15" fill="none"/>
<circle cx="415.5" cy="159.3" r="1.55" stroke="#00f" stroke-width="1.15" fill="none"/>
<path d="M286.70 141.60V200.50H480.60" stroke="#000" stroke-width="1" fill="none"/>
<path d="M286.70 145.50h2.6M286.70 160.50h2.6M286.70 175.50h2.6M286.70 191.50h2.6M286.50 200.50v-2.6M327.50 200.50v-2.6M367.50 200.50v-2.6M407.50 200.50v-2.6M448.50 200.50v-2.6" stroke="#000" stroke-width="1" fill="none"/>
<text transform="translate(284.30,148.70) scale(1.180,1)" font-size="8.3" text-anchor="end" fill="#111" >40</text>
<text transform="translate(284.30,163.80) scale(1.180,1)" font-size="8.3" text-anchor="end" fill="#111" >20</text>
<text transform="translate(284.30,178.90) scale(1.180,1)" font-size="8.3" text-anchor="end" fill="#111" >0</text>
<text transform="translate(284.30,194.00) scale(1.180,1)" font-size="8.3" text-anchor="end" fill="#111" >-20</text>
<text transform="translate(286.70,210.10) scale(1.180,1)" font-size="8.3" text-anchor="middle" fill="#111" >0</text>
<text transform="translate(327.10,210.10) scale(1.180,1)" font-size="8.3" text-anchor="middle" fill="#111" >20</text>
<text transform="translate(367.50,210.10) scale(1.180,1)" font-size="8.3" text-anchor="middle" fill="#111" >40</text>
<text transform="translate(407.90,210.10) scale(1.180,1)" font-size="8.3" text-anchor="middle" fill="#111" >60</text>
<text transform="translate(448.30,210.10) scale(1.180,1)" font-size="8.3" text-anchor="middle" fill="#111" >80</text>
<text transform="translate(382.65,135.10) scale(1.160,1)" font-size="9.0" text-anchor="middle" fill="#111" >Condition 5: Sway-absent</text>
<path d="M286.70 259.40H480.60M286.70 274.70H480.60" stroke="#000" stroke-width="1" stroke-dasharray="15.5 6.16" fill="none"/>
<path d="M286.70 266.30H480.60" stroke="#000" stroke-width="1" fill="none"/>
<path d="M301.9 263.8h4.4M304.1 261.8v3.8" stroke="#f00" stroke-width="1.1"/>
<path d="M300.0 270.5h4.4M302.2 268.5v3.8" stroke="#f00" stroke-width="1.1"/>
<path d="M310.5 268.6h4.4M312.7 266.6v3.8" stroke="#f00" stroke-width="1.1"/>
<path d="M313.3 270.5h4.4M315.5 268.5v3.8" stroke="#f00" stroke-width="1.1"/>
<path d="M317.1 265.7h4.4M319.3 263.7v3.8" stroke="#f00" stroke-width="1.1"/>
<path d="M323.8 273.3h4.4M326.0 271.3v3.8" stroke="#f00" stroke-width="1.1"/>
<path d="M326.7 266.7h4.4M328.9 264.7v3.8" stroke="#f00" stroke-width="1.1"/>
<path d="M329.5 269.5h4.4M331.7 267.5v3.8" stroke="#f00" stroke-width="1.1"/>
<path d="M331.4 263.8h4.4M333.6 261.8v3.8" stroke="#f00" stroke-width="1.1"/>
<path d="M333.3 272.4h4.4M335.5 270.4v3.8" stroke="#f00" stroke-width="1.1"/>
<path d="M336.2 269.5h4.4M338.4 267.5v3.8" stroke="#f00" stroke-width="1.1"/>
<path d="M337.1 264.8h4.4M339.3 262.8v3.8" stroke="#f00" stroke-width="1.1"/>
<path d="M341.9 261.0h4.4M344.1 259.0v3.8" stroke="#f00" stroke-width="1.1"/>
<path d="M349.5 267.6h4.4M351.7 265.6v3.8" stroke="#f00" stroke-width="1.1"/>
<path d="M350.5 270.1h4.4M352.7 268.1v3.8" stroke="#f00" stroke-width="1.1"/>
<path d="M350.5 263.8h4.4M352.7 261.8v3.8" stroke="#f00" stroke-width="1.1"/>
<path d="M363.8 253.0h4.4M366.0 251.0v3.8" stroke="#f00" stroke-width="1.1"/>
<path d="M372.9 266.7h4.4M375.1 264.7v3.8" stroke="#f00" stroke-width="1.1"/>
<path d="M400.9 271.0h4.4M403.1 269.0v3.8" stroke="#f00" stroke-width="1.1"/>
<circle cx="302.2" cy="268.2" r="1.55" stroke="#00f" stroke-width="1.15" fill="none"/>
<circle cx="307.0" cy="269.0" r="1.55" stroke="#00f" stroke-width="1.15" fill="none"/>
<circle cx="308.9" cy="269.5" r="1.55" stroke="#00f" stroke-width="1.15" fill="none"/>
<circle cx="310.8" cy="261.0" r="1.55" stroke="#00f" stroke-width="1.15" fill="none"/>
<circle cx="312.7" cy="263.8" r="1.55" stroke="#00f" stroke-width="1.15" fill="none"/>
<circle cx="314.6" cy="268.6" r="1.55" stroke="#00f" stroke-width="1.15" fill="none"/>
<circle cx="317.4" cy="268.6" r="1.55" stroke="#00f" stroke-width="1.15" fill="none"/>
<circle cx="325.0" cy="264.4" r="1.55" stroke="#00f" stroke-width="1.15" fill="none"/>
<circle cx="327.0" cy="270.5" r="1.55" stroke="#00f" stroke-width="1.15" fill="none"/>
<circle cx="335.5" cy="270.1" r="1.55" stroke="#00f" stroke-width="1.15" fill="none"/>
<circle cx="336.5" cy="262.9" r="1.55" stroke="#00f" stroke-width="1.15" fill="none"/>
<circle cx="338.4" cy="262.5" r="1.55" stroke="#00f" stroke-width="1.15" fill="none"/>
<circle cx="343.1" cy="258.5" r="1.55" stroke="#00f" stroke-width="1.15" fill="none"/>
<circle cx="343.1" cy="262.9" r="1.55" stroke="#00f" stroke-width="1.15" fill="none"/>
<circle cx="343.1" cy="267.2" r="1.55" stroke="#00f" stroke-width="1.15" fill="none"/>
<circle cx="347.9" cy="262.5" r="1.55" stroke="#00f" stroke-width="1.15" fill="none"/>
<circle cx="351.7" cy="272.4" r="1.55" stroke="#00f" stroke-width="1.15" fill="none"/>
<circle cx="352.7" cy="261.0" r="1.55" stroke="#00f" stroke-width="1.15" fill="none"/>
<circle cx="353.6" cy="268.6" r="1.55" stroke="#00f" stroke-width="1.15" fill="none"/>
<circle cx="355.5" cy="255.6" r="1.55" stroke="#00f" stroke-width="1.15" fill="none"/>
<circle cx="357.4" cy="274.3" r="1.55" stroke="#00f" stroke-width="1.15" fill="none"/>
<circle cx="358.4" cy="264.4" r="1.55" stroke="#00f" stroke-width="1.15" fill="none"/>
<circle cx="362.2" cy="273.3" r="1.55" stroke="#00f" stroke-width="1.15" fill="none"/>
<circle cx="370.8" cy="273.0" r="1.55" stroke="#00f" stroke-width="1.15" fill="none"/>
<circle cx="376.5" cy="261.0" r="1.55" stroke="#00f" stroke-width="1.15" fill="none"/>
<circle cx="376.5" cy="275.2" r="1.55" stroke="#00f" stroke-width="1.15" fill="none"/>
<circle cx="383.1" cy="273.3" r="1.55" stroke="#00f" stroke-width="1.15" fill="none"/>
<circle cx="322.3" cy="266.8" r="1.55" stroke="#00f" stroke-width="1.15" fill="none"/>
<circle cx="326.2" cy="268.4" r="1.55" stroke="#00f" stroke-width="1.15" fill="none"/>
<circle cx="328.5" cy="269.1" r="1.55" stroke="#00f" stroke-width="1.15" fill="none"/>
<circle cx="328.0" cy="270.3" r="1.55" stroke="#00f" stroke-width="1.15" fill="none"/>
<circle cx="323.5" cy="267.3" r="1.55" stroke="#00f" stroke-width="1.15" fill="none"/>
<circle cx="331.8" cy="266.3" r="1.55" stroke="#00f" stroke-width="1.15" fill="none"/>
<circle cx="328.1" cy="269.0" r="1.55" stroke="#00f" stroke-width="1.15" fill="none"/>
<circle cx="318.6" cy="270.1" r="1.55" stroke="#00f" stroke-width="1.15" fill="none"/>
<path d="M286.70 237.20V297.40H480.60" stroke="#000" stroke-width="1" fill="none"/>
<path d="M286.70 241.50h2.6M286.70 256.50h2.6M286.70 271.50h2.6M286.70 286.50h2.6M286.50 297.40v-2.6M327.50 297.40v-2.6M367.50 297.40v-2.6M407.50 297.40v-2.6M448.50 297.40v-2.6" stroke="#000" stroke-width="1" fill="none"/>
<text transform="translate(284.30,244.42) scale(1.180,1)" font-size="8.3" text-anchor="end" fill="#111" >40</text>
<text transform="translate(284.30,259.46) scale(1.180,1)" font-size="8.3" text-anchor="end" fill="#111" >20</text>
<text transform="translate(284.30,274.50) scale(1.180,1)" font-size="8.3" text-anchor="end" fill="#111" >0</text>
<text transform="translate(284.30,289.54) scale(1.180,1)" font-size="8.3" text-anchor="end" fill="#111" >-20</text>
<text transform="translate(286.70,307.00) scale(1.180,1)" font-size="8.3" text-anchor="middle" fill="#111" >0</text>
<text transform="translate(327.10,307.00) scale(1.180,1)" font-size="8.3" text-anchor="middle" fill="#111" >20</text>
<text transform="translate(367.50,307.00) scale(1.180,1)" font-size="8.3" text-anchor="middle" fill="#111" >40</text>
<text transform="translate(407.90,307.00) scale(1.180,1)" font-size="8.3" text-anchor="middle" fill="#111" >60</text>
<text transform="translate(448.30,307.00) scale(1.180,1)" font-size="8.3" text-anchor="middle" fill="#111" >80</text>
<text transform="translate(382.65,230.70) scale(1.160,1)" font-size="9.0" text-anchor="middle" fill="#111" >Condition 6: Sway-sway</text>
<text transform="translate(256.20,14.50) scale(1.122,1)" font-size="17.2" text-anchor="middle" fill="#000" >Peak-to-peak (cm/s<tspan dy="-5.8" font-size="10.5">2</tspan><tspan dy="5.8">)</tspan></text>
<text transform="translate(127.90,315.60) scale(1.155,1)" font-size="9.0" text-anchor="middle" fill="#111" >Average of P2P AP</text>
<text transform="translate(7.80,169.60) rotate(-90)" font-size="9.0" text-anchor="middle" fill="#111" >Difference in P2P AP</text>
<path d="M565.60 72.40H760.00M565.60 78.00H760.00" stroke="#000" stroke-width="1" stroke-dasharray="15.5 6.16" fill="none"/>
<path d="M565.50 75.30H760.00" stroke="#000" stroke-width="1" fill="none"/>
<path d="M584.2 72.1h4.4M586.4 70.1v3.8" stroke="#f00" stroke-width="1.1"/>
<path d="M585.7 73.1h4.4M587.9 71.1v3.8" stroke="#f00" stroke-width="1.1"/>
<path d="M588.0 73.6h4.4M590.2 71.6v3.8" stroke="#f00" stroke-width="1.1"/>
<path d="M592.3 70.7h4.4M594.5 68.7v3.8" stroke="#f00" stroke-width="1.1"/>
<path d="M593.3 73.6h4.4M595.5 71.6v3.8" stroke="#f00" stroke-width="1.1"/>
<path d="M595.2 72.1h4.4M597.4 70.1v3.8" stroke="#f00" stroke-width="1.1"/>
<path d="M601.4 74.5h4.4M603.6 72.5v3.8" stroke="#f00" stroke-width="1.1"/>
<path d="M578.0 73.6h4.4M580.2 71.6v3.8" stroke="#f00" stroke-width="1.1"/>
<path d="M590.4 72.6h4.4M592.6 70.6v3.8" stroke="#f00" stroke-width="1.1"/>
<path d="M580.8 76h4.4M583 74.0v3.8" stroke="#f00" stroke-width="1.1"/>
<circle cx="586.5" cy="75.6" r="1.55" stroke="#00f" stroke-width="1.15" fill="none"/>
<circle cx="585.1" cy="75.9" r="1.55" stroke="#00f" stroke-width="1.15" fill="none"/>
<circle cx="579.8" cy="75.4" r="1.55" stroke="#00f" stroke-width="1.15" fill="none"/>
<circle cx="583.0" cy="75.9" r="1.55" stroke="#00f" stroke-width="1.15" fill="none"/>
<circle cx="585.7" cy="75.9" r="1.55" stroke="#00f" stroke-width="1.15" fill="none"/>
<circle cx="583.8" cy="76.0" r="1.55" stroke="#00f" stroke-width="1.15" fill="none"/>
<circle cx="584.6" cy="75.7" r="1.55" stroke="#00f" stroke-width="1.15" fill="none"/>
<circle cx="580.6" cy="74.6" r="1.55" stroke="#00f" stroke-width="1.15" fill="none"/>
<circle cx="579.7" cy="75.2" r="1.55" stroke="#00f" stroke-width="1.15" fill="none"/>
<circle cx="579.4" cy="75.9" r="1.55" stroke="#00f" stroke-width="1.15" fill="none"/>
<circle cx="583.5" cy="75.6" r="1.55" stroke="#00f" stroke-width="1.15" fill="none"/>
<circle cx="584.1" cy="75.7" r="1.55" stroke="#00f" stroke-width="1.15" fill="none"/>
<circle cx="582.9" cy="74.6" r="1.55" stroke="#00f" stroke-width="1.15" fill="none"/>
<circle cx="585.7" cy="75.8" r="1.55" stroke="#00f" stroke-width="1.15" fill="none"/>
<circle cx="583.0" cy="75.5" r="1.55" stroke="#00f" stroke-width="1.15" fill="none"/>
<circle cx="584.4" cy="74.7" r="1.55" stroke="#00f" stroke-width="1.15" fill="none"/>
<circle cx="585.1" cy="75.0" r="1.55" stroke="#00f" stroke-width="1.15" fill="none"/>
<circle cx="579.2" cy="75.0" r="1.55" stroke="#00f" stroke-width="1.15" fill="none"/>
<circle cx="585.1" cy="74.9" r="1.55" stroke="#00f" stroke-width="1.15" fill="none"/>
<circle cx="585.2" cy="76.2" r="1.55" stroke="#00f" stroke-width="1.15" fill="none"/>
<circle cx="582.9" cy="75.2" r="1.55" stroke="#00f" stroke-width="1.15" fill="none"/>
<circle cx="582.8" cy="75.7" r="1.55" stroke="#00f" stroke-width="1.15" fill="none"/>
<circle cx="585.4" cy="75.6" r="1.55" stroke="#00f" stroke-width="1.15" fill="none"/>
<circle cx="584.3" cy="74.7" r="1.55" stroke="#00f" stroke-width="1.15" fill="none"/>
<circle cx="579.8" cy="75.0" r="1.55" stroke="#00f" stroke-width="1.15" fill="none"/>
<circle cx="585.2" cy="75.1" r="1.55" stroke="#00f" stroke-width="1.15" fill="none"/>
<circle cx="583.6" cy="74.6" r="1.55" stroke="#00f" stroke-width="1.15" fill="none"/>
<circle cx="579.0" cy="75.0" r="1.55" stroke="#00f" stroke-width="1.15" fill="none"/>
<circle cx="584.5" cy="75.7" r="1.55" stroke="#00f" stroke-width="1.15" fill="none"/>
<circle cx="584.6" cy="75.1" r="1.55" stroke="#00f" stroke-width="1.15" fill="none"/>
<circle cx="583.1" cy="75.3" r="1.55" stroke="#00f" stroke-width="1.15" fill="none"/>
<circle cx="582.7" cy="74.8" r="1.55" stroke="#00f" stroke-width="1.15" fill="none"/>
<circle cx="586.5" cy="74.9" r="1.55" stroke="#00f" stroke-width="1.15" fill="none"/>
<circle cx="587.3" cy="76.1" r="1.55" stroke="#00f" stroke-width="1.15" fill="none"/>
<circle cx="578.7" cy="75.3" r="1.55" stroke="#00f" stroke-width="1.15" fill="none"/>
<circle cx="585.9" cy="76.1" r="1.55" stroke="#00f" stroke-width="1.15" fill="none"/>
<circle cx="582.5" cy="75.0" r="1.55" stroke="#00f" stroke-width="1.15" fill="none"/>
<circle cx="580.4" cy="76.1" r="1.55" stroke="#00f" stroke-width="1.15" fill="none"/>
<circle cx="580.4" cy="75.5" r="1.55" stroke="#00f" stroke-width="1.15" fill="none"/>
<circle cx="579.8" cy="75.4" r="1.55" stroke="#00f" stroke-width="1.15" fill="none"/>
<circle cx="587.1" cy="74.8" r="1.55" stroke="#00f" stroke-width="1.15" fill="none"/>
<circle cx="585.9" cy="75.4" r="1.55" stroke="#00f" stroke-width="1.15" fill="none"/>
<circle cx="586.5" cy="75.7" r="1.55" stroke="#00f" stroke-width="1.15" fill="none"/>
<circle cx="580.6" cy="76.0" r="1.55" stroke="#00f" stroke-width="1.15" fill="none"/>
<circle cx="582.9" cy="74.6" r="1.55" stroke="#00f" stroke-width="1.15" fill="none"/>
<circle cx="578.5" cy="75.4" r="1.55" stroke="#00f" stroke-width="1.15" fill="none"/>
<circle cx="582.6" cy="75.1" r="1.55" stroke="#00f" stroke-width="1.15" fill="none"/>
<circle cx="579.8" cy="75.2" r="1.55" stroke="#00f" stroke-width="1.15" fill="none"/>
<circle cx="581.3" cy="75.9" r="1.55" stroke="#00f" stroke-width="1.15" fill="none"/>
<circle cx="578.5" cy="75.8" r="1.55" stroke="#00f" stroke-width="1.15" fill="none"/>
<circle cx="601.4" cy="76.3" r="1.55" stroke="#00f" stroke-width="1.15" fill="none"/>
<circle cx="602.8" cy="76.6" r="1.55" stroke="#00f" stroke-width="1.15" fill="none"/>
<circle cx="602.4" cy="76.4" r="1.55" stroke="#00f" stroke-width="1.15" fill="none"/>
<circle cx="594.0" cy="76.4" r="1.55" stroke="#00f" stroke-width="1.15" fill="none"/>
<circle cx="604.0" cy="76.6" r="1.55" stroke="#00f" stroke-width="1.15" fill="none"/>
<circle cx="593.8" cy="76.5" r="1.55" stroke="#00f" stroke-width="1.15" fill="none"/>
<circle cx="592.4" cy="76.2" r="1.55" stroke="#00f" stroke-width="1.15" fill="none"/>
<circle cx="589.6" cy="76.7" r="1.55" stroke="#00f" stroke-width="1.15" fill="none"/>
<circle cx="593.6" cy="71.7" r="1.55" stroke="#00f" stroke-width="1.15" fill="none"/>
<circle cx="596.9" cy="72.1" r="1.55" stroke="#00f" stroke-width="1.15" fill="none"/>
<circle cx="590.2" cy="77.1" r="1.55" stroke="#00f" stroke-width="1.15" fill="none"/>
<circle cx="598" cy="77.1" r="1.55" stroke="#00f" stroke-width="1.15" fill="none"/>
<circle cx="604" cy="77.1" r="1.55" stroke="#00f" stroke-width="1.15" fill="none"/>
<circle cx="584" cy="72.8" r="1.55" stroke="#00f" stroke-width="1.15" fill="none"/>
<path d="M565.50 40.50V104.20H760.00" stroke="#000" stroke-width="1" fill="none"/>
<path d="M565.50 46.50h2.6M565.50 63.50h2.6M565.50 80.50h2.6M565.50 97.50h2.6M565.50 104.20v-2.6M620.50 104.20v-2.6M676.50 104.20v-2.6M731.50 104.20v-2.6" stroke="#000" stroke-width="1" fill="none"/>
<text transform="translate(563.10,49.40) scale(1.180,1)" font-size="8.3" text-anchor="end" fill="#111" >40</text>
<text transform="translate(563.10,66.50) scale(1.180,1)" font-size="8.3" text-anchor="end" fill="#111" >20</text>
<text transform="translate(563.10,83.60) scale(1.180,1)" font-size="8.3" text-anchor="end" fill="#111" >0</text>
<text transform="translate(563.10,100.70) scale(1.180,1)" font-size="8.3" text-anchor="end" fill="#111" >-20</text>
<text transform="translate(565.50,113.80) scale(1.180,1)" font-size="8.3" text-anchor="middle" fill="#111" >0</text>
<text transform="translate(620.90,113.80) scale(1.180,1)" font-size="8.3" text-anchor="middle" fill="#111" >20</text>
<text transform="translate(676.30,113.80) scale(1.180,1)" font-size="8.3" text-anchor="middle" fill="#111" >40</text>
<text transform="translate(731.70,113.80) scale(1.180,1)" font-size="8.3" text-anchor="middle" fill="#111" >60</text>
<text transform="translate(661.75,34.00) scale(1.160,1)" font-size="9.0" text-anchor="middle" fill="#111" >Condition 1: Fixed-fixed</text>
<path d="M565.60 166.40H760.00M565.60 175.50H760.00" stroke="#000" stroke-width="1" stroke-dasharray="15.5 6.16" fill="none"/>
<path d="M565.50 170.70H760.00" stroke="#000" stroke-width="1" fill="none"/>
<path d="M602.8 161.2h4.4M605 159.2v3.8" stroke="#f00" stroke-width="1.1"/>
<path d="M605.2 162.6h4.4M607.4 160.6v3.8" stroke="#f00" stroke-width="1.1"/>
<path d="M595.7 165.5h4.4M597.9 163.5v3.8" stroke="#f00" stroke-width="1.1"/>
<path d="M598.0 168.3h4.4M600.2 166.3v3.8" stroke="#f00" stroke-width="1.1"/>
<path d="M584.7 167.9h4.4M586.9 165.9v3.8" stroke="#f00" stroke-width="1.1"/>
<path d="M587.6 168.8h4.4M589.8 166.8v3.8" stroke="#f00" stroke-width="1.1"/>
<path d="M610.4 170.7h4.4M612.6 168.7v3.8" stroke="#f00" stroke-width="1.1"/>
<path d="M611.4 172.6h4.4M613.6 170.6v3.8" stroke="#f00" stroke-width="1.1"/>
<path d="M585.7 174h4.4M587.9 172.0v3.8" stroke="#f00" stroke-width="1.1"/>
<path d="M592.8 170h4.4M595 168.0v3.8" stroke="#f00" stroke-width="1.1"/>
<circle cx="586.5" cy="172.4" r="1.55" stroke="#00f" stroke-width="1.15" fill="none"/>
<circle cx="585.7" cy="170.8" r="1.55" stroke="#00f" stroke-width="1.15" fill="none"/>
<circle cx="591.2" cy="170.7" r="1.55" stroke="#00f" stroke-width="1.15" fill="none"/>
<circle cx="588.3" cy="172.5" r="1.55" stroke="#00f" stroke-width="1.15" fill="none"/>
<circle cx="599.1" cy="172.1" r="1.55" stroke="#00f" stroke-width="1.15" fill="none"/>
<circle cx="593.7" cy="172.4" r="1.55" stroke="#00f" stroke-width="1.15" fill="none"/>
<circle cx="600.3" cy="171.5" r="1.55" stroke="#00f" stroke-width="1.15" fill="none"/>
<circle cx="595.6" cy="170.3" r="1.55" stroke="#00f" stroke-width="1.15" fill="none"/>
<circle cx="595.9" cy="171.3" r="1.55" stroke="#00f" stroke-width="1.15" fill="none"/>
<circle cx="596.3" cy="171.7" r="1.55" stroke="#00f" stroke-width="1.15" fill="none"/>
<circle cx="586.5" cy="170.3" r="1.55" stroke="#00f" stroke-width="1.15" fill="none"/>
<circle cx="600.0" cy="170.5" r="1.55" stroke="#00f" stroke-width="1.15" fill="none"/>
<circle cx="590.4" cy="171.0" r="1.55" stroke="#00f" stroke-width="1.15" fill="none"/>
<circle cx="586.8" cy="172.0" r="1.55" stroke="#00f" stroke-width="1.15" fill="none"/>
<circle cx="601.0" cy="170.8" r="1.55" stroke="#00f" stroke-width="1.15" fill="none"/>
<circle cx="594.3" cy="170.9" r="1.55" stroke="#00f" stroke-width="1.15" fill="none"/>
<circle cx="592.2" cy="171.1" r="1.55" stroke="#00f" stroke-width="1.15" fill="none"/>
<circle cx="584.0" cy="170.6" r="1.55" stroke="#00f" stroke-width="1.15" fill="none"/>
<circle cx="584.9" cy="172.4" r="1.55" stroke="#00f" stroke-width="1.15" fill="none"/>
<circle cx="590.9" cy="170.7" r="1.55" stroke="#00f" stroke-width="1.15" fill="none"/>
<circle cx="599.5" cy="172.6" r="1.55" stroke="#00f" stroke-width="1.15" fill="none"/>
<circle cx="589.9" cy="170.5" r="1.55" stroke="#00f" stroke-width="1.15" fill="none"/>
<circle cx="584.5" cy="170.4" r="1.55" stroke="#00f" stroke-width="1.15" fill="none"/>
<circle cx="587.7" cy="170.4" r="1.55" stroke="#00f" stroke-width="1.15" fill="none"/>
<circle cx="585.5" cy="170.8" r="1.55" stroke="#00f" stroke-width="1.15" fill="none"/>
<circle cx="592.5" cy="172.3" r="1.55" stroke="#00f" stroke-width="1.15" fill="none"/>
<circle cx="596.2" cy="171.2" r="1.55" stroke="#00f" stroke-width="1.15" fill="none"/>
<circle cx="589.2" cy="171.5" r="1.55" stroke="#00f" stroke-width="1.15" fill="none"/>
<circle cx="588.4" cy="171.0" r="1.55" stroke="#00f" stroke-width="1.15" fill="none"/>
<circle cx="581.8" cy="170.9" r="1.55" stroke="#00f" stroke-width="1.15" fill="none"/>
<circle cx="600.8" cy="170.5" r="1.55" stroke="#00f" stroke-width="1.15" fill="none"/>
<circle cx="591.1" cy="171.7" r="1.55" stroke="#00f" stroke-width="1.15" fill="none"/>
<circle cx="598.6" cy="170.7" r="1.55" stroke="#00f" stroke-width="1.15" fill="none"/>
<circle cx="586.2" cy="170.8" r="1.55" stroke="#00f" stroke-width="1.15" fill="none"/>
<circle cx="588.9" cy="171.3" r="1.55" stroke="#00f" stroke-width="1.15" fill="none"/>
<circle cx="600.5" cy="172.2" r="1.55" stroke="#00f" stroke-width="1.15" fill="none"/>
<circle cx="598.8" cy="170.3" r="1.55" stroke="#00f" stroke-width="1.15" fill="none"/>
<circle cx="581.2" cy="171.9" r="1.55" stroke="#00f" stroke-width="1.15" fill="none"/>
<circle cx="599.3" cy="171.3" r="1.55" stroke="#00f" stroke-width="1.15" fill="none"/>
<circle cx="592.8" cy="170.2" r="1.55" stroke="#00f" stroke-width="1.15" fill="none"/>
<circle cx="588.7" cy="172.4" r="1.55" stroke="#00f" stroke-width="1.15" fill="none"/>
<circle cx="597.8" cy="172.3" r="1.55" stroke="#00f" stroke-width="1.15" fill="none"/>
<circle cx="600.9" cy="170.8" r="1.55" stroke="#00f" stroke-width="1.15" fill="none"/>
<circle cx="582.8" cy="170.6" r="1.55" stroke="#00f" stroke-width="1.15" fill="none"/>
<circle cx="591.5" cy="171.8" r="1.55" stroke="#00f" stroke-width="1.15" fill="none"/>
<circle cx="600.3" cy="171.9" r="1.55" stroke="#00f" stroke-width="1.15" fill="none"/>
<circle cx="594.1" cy="172.0" r="1.55" stroke="#00f" stroke-width="1.15" fill="none"/>
<circle cx="590.1" cy="171.5" r="1.55" stroke="#00f" stroke-width="1.15" fill="none"/>
<circle cx="581.3" cy="172.1" r="1.55" stroke="#00f" stroke-width="1.15" fill="none"/>
<circle cx="585.4" cy="172.4" r="1.55" stroke="#00f" stroke-width="1.15" fill="none"/>
<circle cx="594.1" cy="170.9" r="1.55" stroke="#00f" stroke-width="1.15" fill="none"/>
<circle cx="583.2" cy="170.8" r="1.55" stroke="#00f" stroke-width="1.15" fill="none"/>
<circle cx="593.9" cy="171.9" r="1.55" stroke="#00f" stroke-width="1.15" fill="none"/>
<circle cx="582.9" cy="170.4" r="1.55" stroke="#00f" stroke-width="1.15" fill="none"/>
<circle cx="591.5" cy="171.6" r="1.55" stroke="#00f" stroke-width="1.15" fill="none"/>
<circle cx="588.6" cy="170.7" r="1.55" stroke="#00f" stroke-width="1.15" fill="none"/>
<circle cx="593.1" cy="170.2" r="1.55" stroke="#00f" stroke-width="1.15" fill="none"/>
<circle cx="586.8" cy="171.3" r="1.55" stroke="#00f" stroke-width="1.15" fill="none"/>
<circle cx="600.6" cy="171.7" r="1.55" stroke="#00f" stroke-width="1.15" fill="none"/>
<circle cx="599.1" cy="171.3" r="1.55" stroke="#00f" stroke-width="1.15" fill="none"/>
<circle cx="608.8" cy="170.7" r="1.55" stroke="#00f" stroke-width="1.15" fill="none"/>
<circle cx="608.3" cy="172.6" r="1.55" stroke="#00f" stroke-width="1.15" fill="none"/>
<circle cx="605" cy="170.5" r="1.55" stroke="#00f" stroke-width="1.15" fill="none"/>
<circle cx="613.6" cy="171.2" r="1.55" stroke="#00f" stroke-width="1.15" fill="none"/>
<circle cx="616" cy="160.2" r="1.55" stroke="#00f" stroke-width="1.15" fill="none"/>
<circle cx="626.2" cy="167.4" r="1.55" stroke="#00f" stroke-width="1.15" fill="none"/>
<path d="M565.50 136.20V199.50H760.00" stroke="#000" stroke-width="1" fill="none"/>
<path d="M565.50 143.50h2.6M565.50 159.50h2.6M565.50 176.50h2.6M565.50 193.50h2.6M565.50 199.50v-2.6M620.50 199.50v-2.6M676.50 199.50v-2.6M731.50 199.50v-2.6" stroke="#000" stroke-width="1" fill="none"/>
<text transform="translate(563.10,146.02) scale(1.180,1)" font-size="8.3" text-anchor="end" fill="#111" >40</text>
<text transform="translate(563.10,162.86) scale(1.180,1)" font-size="8.3" text-anchor="end" fill="#111" >20</text>
<text transform="translate(563.10,179.70) scale(1.180,1)" font-size="8.3" text-anchor="end" fill="#111" >0</text>
<text transform="translate(563.10,196.54) scale(1.180,1)" font-size="8.3" text-anchor="end" fill="#111" >-20</text>
<text transform="translate(565.50,209.10) scale(1.180,1)" font-size="8.3" text-anchor="middle" fill="#111" >0</text>
<text transform="translate(620.90,209.10) scale(1.180,1)" font-size="8.3" text-anchor="middle" fill="#111" >20</text>
<text transform="translate(676.30,209.10) scale(1.180,1)" font-size="8.3" text-anchor="middle" fill="#111" >40</text>
<text transform="translate(731.70,209.10) scale(1.180,1)" font-size="8.3" text-anchor="middle" fill="#111" >60</text>
<text transform="translate(661.75,129.70) scale(1.160,1)" font-size="9.0" text-anchor="middle" fill="#111" >Condition 2: Fixed-absent</text>
<path d="M565.60 258.30H760.00M565.60 272.10H760.00" stroke="#000" stroke-width="1" stroke-dasharray="15.5 6.16" fill="none"/>
<path d="M565.50 264.80H760.00" stroke="#000" stroke-width="1" fill="none"/>
<path d="M581.8 263.8h4.4M584 261.8v3.8" stroke="#f00" stroke-width="1.1"/>
<path d="M588.5 261.1h4.4M590.7 259.1v3.8" stroke="#f00" stroke-width="1.1"/>
<path d="M599.5 261.1h4.4M601.7 259.1v3.8" stroke="#f00" stroke-width="1.1"/>
<path d="M599.0 266.7h4.4M601.2 264.7v3.8" stroke="#f00" stroke-width="1.1"/>
<path d="M605.2 253.3h4.4M607.4 251.3v3.8" stroke="#f00" stroke-width="1.1"/>
<path d="M604.7 262.9h4.4M606.9 260.9v3.8" stroke="#f00" stroke-width="1.1"/>
<path d="M612.3 263.8h4.4M614.5 261.8v3.8" stroke="#f00" stroke-width="1.1"/>
<path d="M616.6 254.3h4.4M618.8 252.3v3.8" stroke="#f00" stroke-width="1.1"/>
<path d="M617.6 267.6h4.4M619.8 265.6v3.8" stroke="#f00" stroke-width="1.1"/>
<path d="M626.1 259.5h4.4M628.3 257.5v3.8" stroke="#f00" stroke-width="1.1"/>
<path d="M636.1 263.8h4.4M638.3 261.8v3.8" stroke="#f00" stroke-width="1.1"/>
<path d="M591.4 267.6h4.4M593.6 265.6v3.8" stroke="#f00" stroke-width="1.1"/>
<path d="M586.6 266.7h4.4M588.8 264.7v3.8" stroke="#f00" stroke-width="1.1"/>
<circle cx="585.0" cy="266.1" r="1.55" stroke="#00f" stroke-width="1.15" fill="none"/>
<circle cx="597.3" cy="267.2" r="1.55" stroke="#00f" stroke-width="1.15" fill="none"/>
<circle cx="586.2" cy="265.6" r="1.55" stroke="#00f" stroke-width="1.15" fill="none"/>
<circle cx="589.5" cy="267.1" r="1.55" stroke="#00f" stroke-width="1.15" fill="none"/>
<circle cx="588.1" cy="266.2" r="1.55" stroke="#00f" stroke-width="1.15" fill="none"/>
<circle cx="592.3" cy="267.6" r="1.55" stroke="#00f" stroke-width="1.15" fill="none"/>
<circle cx="584.9" cy="265.7" r="1.55" stroke="#00f" stroke-width="1.15" fill="none"/>
<circle cx="586.7" cy="266.5" r="1.55" stroke="#00f" stroke-width="1.15" fill="none"/>
<circle cx="592.6" cy="266.0" r="1.55" stroke="#00f" stroke-width="1.15" fill="none"/>
<circle cx="594.6" cy="267.2" r="1.55" stroke="#00f" stroke-width="1.15" fill="none"/>
<circle cx="589.6" cy="266.1" r="1.55" stroke="#00f" stroke-width="1.15" fill="none"/>
<circle cx="597.5" cy="266.3" r="1.55" stroke="#00f" stroke-width="1.15" fill="none"/>
<circle cx="594.9" cy="266.1" r="1.55" stroke="#00f" stroke-width="1.15" fill="none"/>
<circle cx="584.8" cy="267.3" r="1.55" stroke="#00f" stroke-width="1.15" fill="none"/>
<circle cx="586.0" cy="267.7" r="1.55" stroke="#00f" stroke-width="1.15" fill="none"/>
<circle cx="589.4" cy="266.0" r="1.55" stroke="#00f" stroke-width="1.15" fill="none"/>
<circle cx="584.8" cy="266.5" r="1.55" stroke="#00f" stroke-width="1.15" fill="none"/>
<circle cx="592.3" cy="267.7" r="1.55" stroke="#00f" stroke-width="1.15" fill="none"/>
<circle cx="583.5" cy="266.5" r="1.55" stroke="#00f" stroke-width="1.15" fill="none"/>
<circle cx="584.6" cy="267.7" r="1.55" stroke="#00f" stroke-width="1.15" fill="none"/>
<circle cx="583.4" cy="265.7" r="1.55" stroke="#00f" stroke-width="1.15" fill="none"/>
<circle cx="582.0" cy="266.5" r="1.55" stroke="#00f" stroke-width="1.15" fill="none"/>
<circle cx="596.3" cy="267.5" r="1.55" stroke="#00f" stroke-width="1.15" fill="none"/>
<circle cx="593.5" cy="267.8" r="1.55" stroke="#00f" stroke-width="1.15" fill="none"/>
<circle cx="596.8" cy="266.3" r="1.55" stroke="#00f" stroke-width="1.15" fill="none"/>
<circle cx="584.2" cy="267.7" r="1.55" stroke="#00f" stroke-width="1.15" fill="none"/>
<circle cx="593.7" cy="265.7" r="1.55" stroke="#00f" stroke-width="1.15" fill="none"/>
<circle cx="592.3" cy="266.4" r="1.55" stroke="#00f" stroke-width="1.15" fill="none"/>
<circle cx="587.4" cy="266.3" r="1.55" stroke="#00f" stroke-width="1.15" fill="none"/>
<circle cx="583.9" cy="265.6" r="1.55" stroke="#00f" stroke-width="1.15" fill="none"/>
<circle cx="585.8" cy="266.4" r="1.55" stroke="#00f" stroke-width="1.15" fill="none"/>
<circle cx="597.2" cy="265.9" r="1.55" stroke="#00f" stroke-width="1.15" fill="none"/>
<circle cx="597.4" cy="266.1" r="1.55" stroke="#00f" stroke-width="1.15" fill="none"/>
<circle cx="587.1" cy="267.4" r="1.55" stroke="#00f" stroke-width="1.15" fill="none"/>
<circle cx="595.0" cy="266.6" r="1.55" stroke="#00f" stroke-width="1.15" fill="none"/>
<circle cx="581.8" cy="266.6" r="1.55" stroke="#00f" stroke-width="1.15" fill="none"/>
<circle cx="587.3" cy="267.6" r="1.55" stroke="#00f" stroke-width="1.15" fill="none"/>
<circle cx="584.3" cy="266.4" r="1.55" stroke="#00f" stroke-width="1.15" fill="none"/>
<circle cx="596.2" cy="265.7" r="1.55" stroke="#00f" stroke-width="1.15" fill="none"/>
<circle cx="588.0" cy="267.4" r="1.55" stroke="#00f" stroke-width="1.15" fill="none"/>
<circle cx="594.0" cy="265.7" r="1.55" stroke="#00f" stroke-width="1.15" fill="none"/>
<circle cx="581.6" cy="265.7" r="1.55" stroke="#00f" stroke-width="1.15" fill="none"/>
<circle cx="596.6" cy="266.2" r="1.55" stroke="#00f" stroke-width="1.15" fill="none"/>
<circle cx="593.7" cy="267.6" r="1.55" stroke="#00f" stroke-width="1.15" fill="none"/>
<circle cx="586.8" cy="266.2" r="1.55" stroke="#00f" stroke-width="1.15" fill="none"/>
<circle cx="597.3" cy="267.0" r="1.55" stroke="#00f" stroke-width="1.15" fill="none"/>
<circle cx="585.5" cy="267.2" r="1.55" stroke="#00f" stroke-width="1.15" fill="none"/>
<circle cx="586.4" cy="266.2" r="1.55" stroke="#00f" stroke-width="1.15" fill="none"/>
<circle cx="581.1" cy="267.3" r="1.55" stroke="#00f" stroke-width="1.15" fill="none"/>
<circle cx="596.6" cy="267.0" r="1.55" stroke="#00f" stroke-width="1.15" fill="none"/>
<circle cx="606.9" cy="267.1" r="1.55" stroke="#00f" stroke-width="1.15" fill="none"/>
<circle cx="606" cy="265.7" r="1.55" stroke="#00f" stroke-width="1.15" fill="none"/>
<circle cx="611.2" cy="262.9" r="1.55" stroke="#00f" stroke-width="1.15" fill="none"/>
<circle cx="612.1" cy="260" r="1.55" stroke="#00f" stroke-width="1.15" fill="none"/>
<circle cx="614" cy="255.4" r="1.55" stroke="#00f" stroke-width="1.15" fill="none"/>
<circle cx="617.4" cy="266.2" r="1.55" stroke="#00f" stroke-width="1.15" fill="none"/>
<circle cx="620.2" cy="262.4" r="1.55" stroke="#00f" stroke-width="1.15" fill="none"/>
<circle cx="622.1" cy="265.7" r="1.55" stroke="#00f" stroke-width="1.15" fill="none"/>
<circle cx="624" cy="262.4" r="1.55" stroke="#00f" stroke-width="1.15" fill="none"/>
<circle cx="624.5" cy="267.1" r="1.55" stroke="#00f" stroke-width="1.15" fill="none"/>
<circle cx="630.7" cy="265.2" r="1.55" stroke="#00f" stroke-width="1.15" fill="none"/>
<circle cx="631.2" cy="260" r="1.55" stroke="#00f" stroke-width="1.15" fill="none"/>
<circle cx="634.5" cy="266.2" r="1.55" stroke="#00f" stroke-width="1.15" fill="none"/>
<circle cx="635.5" cy="249" r="1.55" stroke="#00f" stroke-width="1.15" fill="none"/>
<circle cx="596.4" cy="263.3" r="1.55" stroke="#00f" stroke-width="1.15" fill="none"/>
<path d="M565.50 232.10V295.30H760.00" stroke="#000" stroke-width="1" fill="none"/>
<path d="M565.50 237.50h2.6M565.50 254.50h2.6M565.50 272.50h2.6M565.50 289.50h2.6M565.50 295.30v-2.6M620.50 295.30v-2.6M676.50 295.30v-2.6M731.50 295.30v-2.6" stroke="#000" stroke-width="1" fill="none"/>
<text transform="translate(563.10,240.60) scale(1.180,1)" font-size="8.3" text-anchor="end" fill="#111" >40</text>
<text transform="translate(563.10,257.80) scale(1.180,1)" font-size="8.3" text-anchor="end" fill="#111" >20</text>
<text transform="translate(563.10,275.00) scale(1.180,1)" font-size="8.3" text-anchor="end" fill="#111" >0</text>
<text transform="translate(563.10,292.20) scale(1.180,1)" font-size="8.3" text-anchor="end" fill="#111" >-20</text>
<text transform="translate(565.50,304.90) scale(1.180,1)" font-size="8.3" text-anchor="middle" fill="#111" >0</text>
<text transform="translate(620.90,304.90) scale(1.180,1)" font-size="8.3" text-anchor="middle" fill="#111" >20</text>
<text transform="translate(676.30,304.90) scale(1.180,1)" font-size="8.3" text-anchor="middle" fill="#111" >40</text>
<text transform="translate(731.70,304.90) scale(1.180,1)" font-size="8.3" text-anchor="middle" fill="#111" >60</text>
<text transform="translate(661.75,225.60) scale(1.160,1)" font-size="9.0" text-anchor="middle" fill="#111" >Condition 3: Fixed-sway</text>
<path d="M820.70 69.00H1015.60M820.70 79.00H1015.60" stroke="#000" stroke-width="1" stroke-dasharray="15.5 6.16" fill="none"/>
<path d="M821.20 73.40H1015.60" stroke="#000" stroke-width="1" fill="none"/>
<path d="M838.8 73.0h4.4M841.0 71.0v3.8" stroke="#f00" stroke-width="1.1"/>
<path d="M840.8 76.3h4.4M843.0 74.3v3.8" stroke="#f00" stroke-width="1.1"/>
<path d="M844.1 70.3h4.4M846.3 68.3v3.8" stroke="#f00" stroke-width="1.1"/>
<path d="M845.5 71.7h4.4M847.7 69.7v3.8" stroke="#f00" stroke-width="1.1"/>
<path d="M849.5 75.0h4.4M851.7 73.0v3.8" stroke="#f00" stroke-width="1.1"/>
<path d="M853.5 77.0h4.4M855.7 75.0v3.8" stroke="#f00" stroke-width="1.1"/>
<path d="M856.1 75.0h4.4M858.3 73.0v3.8" stroke="#f00" stroke-width="1.1"/>
<path d="M858.8 71.0h4.4M861.0 69.0v3.8" stroke="#f00" stroke-width="1.1"/>
<path d="M860.8 78.3h4.4M863.0 76.3v3.8" stroke="#f00" stroke-width="1.1"/>
<path d="M862.8 65.0h4.4M865.0 63.0v3.8" stroke="#f00" stroke-width="1.1"/>
<path d="M869.5 75.0h4.4M871.7 73.0v3.8" stroke="#f00" stroke-width="1.1"/>
<path d="M871.5 71.0h4.4M873.7 69.0v3.8" stroke="#f00" stroke-width="1.1"/>
<path d="M874.1 71.0h4.4M876.3 69.0v3.8" stroke="#f00" stroke-width="1.1"/>
<path d="M884.1 77.0h4.4M886.3 75.0v3.8" stroke="#f00" stroke-width="1.1"/>
<path d="M887.5 75.0h4.4M889.7 73.0v3.8" stroke="#f00" stroke-width="1.1"/>
<path d="M891.5 67.0h4.4M893.7 65.0v3.8" stroke="#f00" stroke-width="1.1"/>
<path d="M896.1 69.0h4.4M898.3 67.0v3.8" stroke="#f00" stroke-width="1.1"/>
<circle cx="834.3" cy="75.0" r="1.55" stroke="#00f" stroke-width="1.15" fill="none"/>
<circle cx="836.3" cy="75.7" r="1.55" stroke="#00f" stroke-width="1.15" fill="none"/>
<circle cx="865.0" cy="75.0" r="1.55" stroke="#00f" stroke-width="1.15" fill="none"/>
<circle cx="867.0" cy="75.0" r="1.55" stroke="#00f" stroke-width="1.15" fill="none"/>
<circle cx="869.0" cy="71.7" r="1.55" stroke="#00f" stroke-width="1.15" fill="none"/>
<circle cx="870.3" cy="72.3" r="1.55" stroke="#00f" stroke-width="1.15" fill="none"/>
<circle cx="875.7" cy="73.0" r="1.55" stroke="#00f" stroke-width="1.15" fill="none"/>
<circle cx="878.3" cy="73.7" r="1.55" stroke="#00f" stroke-width="1.15" fill="none"/>
<circle cx="879.7" cy="75.0" r="1.55" stroke="#00f" stroke-width="1.15" fill="none"/>
<circle cx="882.3" cy="69.7" r="1.55" stroke="#00f" stroke-width="1.15" fill="none"/>
<circle cx="883.7" cy="69.9" r="1.55" stroke="#00f" stroke-width="1.15" fill="none"/>
<circle cx="890.3" cy="72.3" r="1.55" stroke="#00f" stroke-width="1.15" fill="none"/>
<circle cx="891.7" cy="74.3" r="1.55" stroke="#00f" stroke-width="1.15" fill="none"/>
<circle cx="894.3" cy="66.3" r="1.55" stroke="#00f" stroke-width="1.15" fill="none"/>
<circle cx="895.7" cy="72.3" r="1.55" stroke="#00f" stroke-width="1.15" fill="none"/>
<circle cx="898.3" cy="68.3" r="1.55" stroke="#00f" stroke-width="1.15" fill="none"/>
<circle cx="899.7" cy="72.3" r="1.55" stroke="#00f" stroke-width="1.15" fill="none"/>
<circle cx="900.3" cy="75.0" r="1.55" stroke="#00f" stroke-width="1.15" fill="none"/>
<circle cx="901.0" cy="71.7" r="1.55" stroke="#00f" stroke-width="1.15" fill="none"/>
<circle cx="911.7" cy="66.3" r="1.55" stroke="#00f" stroke-width="1.15" fill="none"/>
<circle cx="945.7" cy="71.7" r="1.55" stroke="#00f" stroke-width="1.15" fill="none"/>
<circle cx="860.8" cy="71.6" r="1.55" stroke="#00f" stroke-width="1.15" fill="none"/>
<circle cx="845.9" cy="74.4" r="1.55" stroke="#00f" stroke-width="1.15" fill="none"/>
<circle cx="861.1" cy="77.2" r="1.55" stroke="#00f" stroke-width="1.15" fill="none"/>
<circle cx="849.1" cy="73.0" r="1.55" stroke="#00f" stroke-width="1.15" fill="none"/>
<circle cx="850.0" cy="74.5" r="1.55" stroke="#00f" stroke-width="1.15" fill="none"/>
<circle cx="860.5" cy="72.6" r="1.55" stroke="#00f" stroke-width="1.15" fill="none"/>
<circle cx="857.9" cy="75.9" r="1.55" stroke="#00f" stroke-width="1.15" fill="none"/>
<circle cx="858.3" cy="76.1" r="1.55" stroke="#00f" stroke-width="1.15" fill="none"/>
<circle cx="853.8" cy="73.5" r="1.55" stroke="#00f" stroke-width="1.15" fill="none"/>
<circle cx="847.7" cy="73.7" r="1.55" stroke="#00f" stroke-width="1.15" fill="none"/>
<circle cx="857.4" cy="72.0" r="1.55" stroke="#00f" stroke-width="1.15" fill="none"/>
<circle cx="845.1" cy="76.0" r="1.55" stroke="#00f" stroke-width="1.15" fill="none"/>
<circle cx="846.2" cy="71.9" r="1.55" stroke="#00f" stroke-width="1.15" fill="none"/>
<circle cx="841.7" cy="74.8" r="1.55" stroke="#00f" stroke-width="1.15" fill="none"/>
<circle cx="847.8" cy="77.4" r="1.55" stroke="#00f" stroke-width="1.15" fill="none"/>
<circle cx="859.6" cy="77.4" r="1.55" stroke="#00f" stroke-width="1.15" fill="none"/>
<circle cx="846.6" cy="72.0" r="1.55" stroke="#00f" stroke-width="1.15" fill="none"/>
<circle cx="843.0" cy="74.5" r="1.55" stroke="#00f" stroke-width="1.15" fill="none"/>
<path d="M821.20 40.50V104.20H1015.60" stroke="#000" stroke-width="1" fill="none"/>
<path d="M821.20 46.50h2.6M821.20 63.50h2.6M821.20 80.50h2.6M821.20 97.50h2.6M821.50 104.20v-2.6M876.50 104.20v-2.6M932.50 104.20v-2.6M987.50 104.20v-2.6" stroke="#000" stroke-width="1" fill="none"/>
<text transform="translate(818.80,49.40) scale(1.180,1)" font-size="8.3" text-anchor="end" fill="#111" >40</text>
<text transform="translate(818.80,66.50) scale(1.180,1)" font-size="8.3" text-anchor="end" fill="#111" >20</text>
<text transform="translate(818.80,83.60) scale(1.180,1)" font-size="8.3" text-anchor="end" fill="#111" >0</text>
<text transform="translate(818.80,100.70) scale(1.180,1)" font-size="8.3" text-anchor="end" fill="#111" >-20</text>
<text transform="translate(821.20,113.80) scale(1.180,1)" font-size="8.3" text-anchor="middle" fill="#111" >0</text>
<text transform="translate(876.60,113.80) scale(1.180,1)" font-size="8.3" text-anchor="middle" fill="#111" >20</text>
<text transform="translate(932.00,113.80) scale(1.180,1)" font-size="8.3" text-anchor="middle" fill="#111" >40</text>
<text transform="translate(987.40,113.80) scale(1.180,1)" font-size="8.3" text-anchor="middle" fill="#111" >60</text>
<text transform="translate(917.40,34.00) scale(1.160,1)" font-size="9.0" text-anchor="middle" fill="#111" >Condition 4: Sway-fixed</text>
<path d="M820.70 158.90H1015.60M820.70 176.00H1015.60" stroke="#000" stroke-width="1" stroke-dasharray="15.5 6.16" fill="none"/>
<path d="M821.20 168.20H1015.60" stroke="#000" stroke-width="1" fill="none"/>
<path d="M846.4 173.2h4.4M848.6 171.2v3.8" stroke="#f00" stroke-width="1.1"/>
<path d="M855.9 166.9h4.4M858.1 164.9v3.8" stroke="#f00" stroke-width="1.1"/>
<path d="M856.9 171.7h4.4M859.1 169.7v3.8" stroke="#f00" stroke-width="1.1"/>
<path d="M864.5 169.8h4.4M866.7 167.8v3.8" stroke="#f00" stroke-width="1.1"/>
<path d="M870.2 169.8h4.4M872.4 167.8v3.8" stroke="#f00" stroke-width="1.1"/>
<path d="M872.1 170.1h4.4M874.3 168.1v3.8" stroke="#f00" stroke-width="1.1"/>
<path d="M874.0 166.3h4.4M876.2 164.3v3.8" stroke="#f00" stroke-width="1.1"/>
<path d="M876.9 167.9h4.4M879.1 165.9v3.8" stroke="#f00" stroke-width="1.1"/>
<path d="M880.7 165.6h4.4M882.9 163.6v3.8" stroke="#f00" stroke-width="1.1"/>
<path d="M883.6 166.3h4.4M885.8 164.3v3.8" stroke="#f00" stroke-width="1.1"/>
<path d="M885.5 165.0h4.4M887.7 163.0v3.8" stroke="#f00" stroke-width="1.1"/>
<path d="M887.4 166.9h4.4M889.6 164.9v3.8" stroke="#f00" stroke-width="1.1"/>
<path d="M889.3 167.9h4.4M891.5 165.9v3.8" stroke="#f00" stroke-width="1.1"/>
<path d="M892.1 170.7h4.4M894.3 168.7v3.8" stroke="#f00" stroke-width="1.1"/>
<path d="M894.0 171.3h4.4M896.2 169.3v3.8" stroke="#f00" stroke-width="1.1"/>
<path d="M895.9 171.7h4.4M898.1 169.7v3.8" stroke="#f00" stroke-width="1.1"/>
<path d="M898.8 165.6h4.4M901.0 163.6v3.8" stroke="#f00" stroke-width="1.1"/>
<path d="M900.7 170.7h4.4M902.9 168.7v3.8" stroke="#f00" stroke-width="1.1"/>
<path d="M904.5 163.7h4.4M906.7 161.7v3.8" stroke="#f00" stroke-width="1.1"/>
<path d="M905.5 165.0h4.4M907.7 163.0v3.8" stroke="#f00" stroke-width="1.1"/>
<path d="M908.3 164.4h4.4M910.5 162.4v3.8" stroke="#f00" stroke-width="1.1"/>
<path d="M906.4 171.7h4.4M908.6 169.7v3.8" stroke="#f00" stroke-width="1.1"/>
<path d="M917.8 160.6h4.4M920.0 158.6v3.8" stroke="#f00" stroke-width="1.1"/>
<path d="M921.7 171.7h4.4M923.9 169.7v3.8" stroke="#f00" stroke-width="1.1"/>
<path d="M924.5 158.3h4.4M926.7 156.3v3.8" stroke="#f00" stroke-width="1.1"/>
<path d="M933.1 178.3h4.4M935.3 176.3v3.8" stroke="#f00" stroke-width="1.1"/>
<path d="M937.8 167.5h4.4M940.0 165.5v3.8" stroke="#f00" stroke-width="1.1"/>
<path d="M954.0 173.6h4.4M956.2 171.6v3.8" stroke="#f00" stroke-width="1.1"/>
<path d="M955.9 178.3h4.4M958.1 176.3v3.8" stroke="#f00" stroke-width="1.1"/>
<path d="M961.7 167.5h4.4M963.9 165.5v3.8" stroke="#f00" stroke-width="1.1"/>
<path d="M967.4 177.4h4.4M969.6 175.4v3.8" stroke="#f00" stroke-width="1.1"/>
<path d="M974.0 154.9h4.4M976.2 152.9v3.8" stroke="#f00" stroke-width="1.1"/>
<circle cx="860.0" cy="168.8" r="1.55" stroke="#00f" stroke-width="1.15" fill="none"/>
<circle cx="862.0" cy="171.7" r="1.55" stroke="#00f" stroke-width="1.15" fill="none"/>
<circle cx="865.8" cy="165.6" r="1.55" stroke="#00f" stroke-width="1.15" fill="none"/>
<circle cx="865.8" cy="172.0" r="1.55" stroke="#00f" stroke-width="1.15" fill="none"/>
<circle cx="870.1" cy="167.9" r="1.55" stroke="#00f" stroke-width="1.15" fill="none"/>
<circle cx="870.9" cy="158.3" r="1.55" stroke="#00f" stroke-width="1.15" fill="none"/>
<circle cx="872.0" cy="162.5" r="1.55" stroke="#00f" stroke-width="1.15" fill="none"/>
<circle cx="876.2" cy="169.8" r="1.55" stroke="#00f" stroke-width="1.15" fill="none"/>
<circle cx="878.1" cy="171.3" r="1.55" stroke="#00f" stroke-width="1.15" fill="none"/>
<circle cx="881.0" cy="161.2" r="1.55" stroke="#00f" stroke-width="1.15" fill="none"/>
<circle cx="882.0" cy="167.5" r="1.55" stroke="#00f" stroke-width="1.15" fill="none"/>
<circle cx="884.8" cy="168.8" r="1.55" stroke="#00f" stroke-width="1.15" fill="none"/>
<circle cx="885.8" cy="169.8" r="1.55" stroke="#00f" stroke-width="1.15" fill="none"/>
<circle cx="886.7" cy="166.9" r="1.55" stroke="#00f" stroke-width="1.15" fill="none"/>
<circle cx="888.6" cy="165.6" r="1.55" stroke="#00f" stroke-width="1.15" fill="none"/>
<circle cx="892.4" cy="168.8" r="1.55" stroke="#00f" stroke-width="1.15" fill="none"/>
<circle cx="894.3" cy="163.7" r="1.55" stroke="#00f" stroke-width="1.15" fill="none"/>
<circle cx="896.2" cy="169.8" r="1.55" stroke="#00f" stroke-width="1.15" fill="none"/>
<circle cx="897.2" cy="166.3" r="1.55" stroke="#00f" stroke-width="1.15" fill="none"/>
<circle cx="899.1" cy="166.9" r="1.55" stroke="#00f" stroke-width="1.15" fill="none"/>
<circle cx="901.0" cy="167.5" r="1.55" stroke="#00f" stroke-width="1.15" fill="none"/>
<circle cx="903.9" cy="169.8" r="1.55" stroke="#00f" stroke-width="1.15" fill="none"/>
<circle cx="904.8" cy="166.3" r="1.55" stroke="#00f" stroke-width="1.15" fill="none"/>
<circle cx="907.7" cy="165.6" r="1.55" stroke="#00f" stroke-width="1.15" fill="none"/>
<circle cx="908.6" cy="167.5" r="1.55" stroke="#00f" stroke-width="1.15" fill="none"/>
<circle cx="909.0" cy="159.9" r="1.55" stroke="#00f" stroke-width="1.15" fill="none"/>
<circle cx="911.5" cy="177.8" r="1.55" stroke="#00f" stroke-width="1.15" fill="none"/>
<circle cx="916.2" cy="169.8" r="1.55" stroke="#00f" stroke-width="1.15" fill="none"/>
<circle cx="920.0" cy="164.0" r="1.55" stroke="#00f" stroke-width="1.15" fill="none"/>
<circle cx="920.0" cy="174.5" r="1.55" stroke="#00f" stroke-width="1.15" fill="none"/>
<circle cx="922.9" cy="167.9" r="1.55" stroke="#00f" stroke-width="1.15" fill="none"/>
<circle cx="924.8" cy="167.5" r="1.55" stroke="#00f" stroke-width="1.15" fill="none"/>
<circle cx="929.6" cy="163.1" r="1.55" stroke="#00f" stroke-width="1.15" fill="none"/>
<circle cx="934.3" cy="167.5" r="1.55" stroke="#00f" stroke-width="1.15" fill="none"/>
<circle cx="934.3" cy="169.8" r="1.55" stroke="#00f" stroke-width="1.15" fill="none"/>
<circle cx="948.6" cy="156.0" r="1.55" stroke="#00f" stroke-width="1.15" fill="none"/>
<circle cx="948.6" cy="165.0" r="1.55" stroke="#00f" stroke-width="1.15" fill="none"/>
<circle cx="953.4" cy="164.0" r="1.55" stroke="#00f" stroke-width="1.15" fill="none"/>
<circle cx="954.3" cy="165.6" r="1.55" stroke="#00f" stroke-width="1.15" fill="none"/>
<circle cx="966.7" cy="166.9" r="1.55" stroke="#00f" stroke-width="1.15" fill="none"/>
<circle cx="976.2" cy="173.2" r="1.55" stroke="#00f" stroke-width="1.15" fill="none"/>
<circle cx="982.9" cy="166.3" r="1.55" stroke="#00f" stroke-width="1.15" fill="none"/>
<circle cx="987.7" cy="171.7" r="1.55" stroke="#00f" stroke-width="1.15" fill="none"/>
<path d="M821.20 136.20V199.50H1015.60" stroke="#000" stroke-width="1" fill="none"/>
<path d="M821.20 143.50h2.6M821.20 159.50h2.6M821.20 176.50h2.6M821.20 193.50h2.6M821.50 199.50v-2.6M876.50 199.50v-2.6M932.50 199.50v-2.6M987.50 199.50v-2.6" stroke="#000" stroke-width="1" fill="none"/>
<text transform="translate(818.80,146.02) scale(1.180,1)" font-size="8.3" text-anchor="end" fill="#111" >40</text>
<text transform="translate(818.80,162.86) scale(1.180,1)" font-size="8.3" text-anchor="end" fill="#111" >20</text>
<text transform="translate(818.80,179.70) scale(1.180,1)" font-size="8.3" text-anchor="end" fill="#111" >0</text>
<text transform="translate(818.80,196.54) scale(1.180,1)" font-size="8.3" text-anchor="end" fill="#111" >-20</text>
<text transform="translate(821.20,209.10) scale(1.180,1)" font-size="8.3" text-anchor="middle" fill="#111" >0</text>
<text transform="translate(876.60,209.10) scale(1.180,1)" font-size="8.3" text-anchor="middle" fill="#111" >20</text>
<text transform="translate(932.00,209.10) scale(1.180,1)" font-size="8.3" text-anchor="middle" fill="#111" >40</text>
<text transform="translate(987.40,209.10) scale(1.180,1)" font-size="8.3" text-anchor="middle" fill="#111" >60</text>
<text transform="translate(917.40,129.70) scale(1.160,1)" font-size="9.0" text-anchor="middle" fill="#111" >Condition 5: Sway-absent</text>
<path d="M820.70 253.90H1015.60M820.70 273.90H1015.60" stroke="#000" stroke-width="1" stroke-dasharray="15.5 6.16" fill="none"/>
<path d="M821.20 263.80H1015.60" stroke="#000" stroke-width="1" fill="none"/>
<path d="M841.7 267.6h4.4M843.9 265.6v3.8" stroke="#f00" stroke-width="1.1"/>
<path d="M845.1 262.9h4.4M847.3 260.9v3.8" stroke="#f00" stroke-width="1.1"/>
<path d="M849.3 263.8h4.4M851.5 261.8v3.8" stroke="#f00" stroke-width="1.1"/>
<path d="M852.7 256.2h4.4M854.9 254.2v3.8" stroke="#f00" stroke-width="1.1"/>
<path d="M857.8 263.8h4.4M860.0 261.8v3.8" stroke="#f00" stroke-width="1.1"/>
<path d="M858.8 268.6h4.4M861.0 266.6v3.8" stroke="#f00" stroke-width="1.1"/>
<path d="M859.8 266.7h4.4M862.0 264.7v3.8" stroke="#f00" stroke-width="1.1"/>
<path d="M862.6 264.8h4.4M864.8 262.8v3.8" stroke="#f00" stroke-width="1.1"/>
<path d="M865.5 263.8h4.4M867.7 261.8v3.8" stroke="#f00" stroke-width="1.1"/>
<path d="M869.3 265.1h4.4M871.5 263.1v3.8" stroke="#f00" stroke-width="1.1"/>
<path d="M872.1 268.2h4.4M874.3 266.2v3.8" stroke="#f00" stroke-width="1.1"/>
<path d="M875.0 267.6h4.4M877.2 265.6v3.8" stroke="#f00" stroke-width="1.1"/>
<path d="M877.8 258.7h4.4M880.0 256.7v3.8" stroke="#f00" stroke-width="1.1"/>
<path d="M879.8 262.9h4.4M882.0 260.9v3.8" stroke="#f00" stroke-width="1.1"/>
<path d="M883.6 263.8h4.4M885.8 261.8v3.8" stroke="#f00" stroke-width="1.1"/>
<path d="M890.2 258.1h4.4M892.4 256.1v3.8" stroke="#f00" stroke-width="1.1"/>
<path d="M891.2 260.6h4.4M893.4 258.6v3.8" stroke="#f00" stroke-width="1.1"/>
<path d="M895.0 265.7h4.4M897.2 263.7v3.8" stroke="#f00" stroke-width="1.1"/>
<path d="M897.8 263.8h4.4M900.0 261.8v3.8" stroke="#f00" stroke-width="1.1"/>
<path d="M902.6 268.6h4.4M904.8 266.6v3.8" stroke="#f00" stroke-width="1.1"/>
<path d="M915.9 256.8h4.4M918.1 254.8v3.8" stroke="#f00" stroke-width="1.1"/>
<path d="M918.8 253.7h4.4M921.0 251.7v3.8" stroke="#f00" stroke-width="1.1"/>
<path d="M937.3 249.5h4.4M939.5 247.5v3.8" stroke="#f00" stroke-width="1.1"/>
<path d="M950.2 255.2h4.4M952.4 253.2v3.8" stroke="#f00" stroke-width="1.1"/>
<path d="M961.7 273.3h4.4M963.9 271.3v3.8" stroke="#f00" stroke-width="1.1"/>
<path d="M978.8 261.9h4.4M981.0 259.9v3.8" stroke="#f00" stroke-width="1.1"/>
<circle cx="845.4" cy="269.5" r="1.55" stroke="#00f" stroke-width="1.15" fill="none"/>
<circle cx="849.6" cy="264.8" r="1.55" stroke="#00f" stroke-width="1.15" fill="none"/>
<circle cx="853.0" cy="268.2" r="1.55" stroke="#00f" stroke-width="1.15" fill="none"/>
<circle cx="862.0" cy="259.0" r="1.55" stroke="#00f" stroke-width="1.15" fill="none"/>
<circle cx="866.7" cy="264.4" r="1.55" stroke="#00f" stroke-width="1.15" fill="none"/>
<circle cx="870.1" cy="256.2" r="1.55" stroke="#00f" stroke-width="1.15" fill="none"/>
<circle cx="870.5" cy="261.3" r="1.55" stroke="#00f" stroke-width="1.15" fill="none"/>
<circle cx="871.5" cy="266.7" r="1.55" stroke="#00f" stroke-width="1.15" fill="none"/>
<circle cx="875.3" cy="263.8" r="1.55" stroke="#00f" stroke-width="1.15" fill="none"/>
<circle cx="877.2" cy="261.9" r="1.55" stroke="#00f" stroke-width="1.15" fill="none"/>
<circle cx="878.1" cy="264.8" r="1.55" stroke="#00f" stroke-width="1.15" fill="none"/>
<circle cx="879.1" cy="261.0" r="1.55" stroke="#00f" stroke-width="1.15" fill="none"/>
<circle cx="880.0" cy="265.7" r="1.55" stroke="#00f" stroke-width="1.15" fill="none"/>
<circle cx="881.0" cy="268.2" r="1.55" stroke="#00f" stroke-width="1.15" fill="none"/>
<circle cx="882.9" cy="262.5" r="1.55" stroke="#00f" stroke-width="1.15" fill="none"/>
<circle cx="884.8" cy="264.8" r="1.55" stroke="#00f" stroke-width="1.15" fill="none"/>
<circle cx="889.6" cy="264.4" r="1.55" stroke="#00f" stroke-width="1.15" fill="none"/>
<circle cx="895.3" cy="261.9" r="1.55" stroke="#00f" stroke-width="1.15" fill="none"/>
<circle cx="898.1" cy="261.0" r="1.55" stroke="#00f" stroke-width="1.15" fill="none"/>
<circle cx="899.1" cy="264.8" r="1.55" stroke="#00f" stroke-width="1.15" fill="none"/>
<circle cx="901.0" cy="263.8" r="1.55" stroke="#00f" stroke-width="1.15" fill="none"/>
<circle cx="904.8" cy="260.0" r="1.55" stroke="#00f" stroke-width="1.15" fill="none"/>
<circle cx="904.8" cy="264.4" r="1.55" stroke="#00f" stroke-width="1.15" fill="none"/>
<circle cx="909.6" cy="255.2" r="1.55" stroke="#00f" stroke-width="1.15" fill="none"/>
<circle cx="910.1" cy="259.0" r="1.55" stroke="#00f" stroke-width="1.15" fill="none"/>
<circle cx="910.5" cy="269.5" r="1.55" stroke="#00f" stroke-width="1.15" fill="none"/>
<circle cx="911.5" cy="270.9" r="1.55" stroke="#00f" stroke-width="1.15" fill="none"/>
<circle cx="913.4" cy="262.5" r="1.55" stroke="#00f" stroke-width="1.15" fill="none"/>
<circle cx="918.1" cy="261.9" r="1.55" stroke="#00f" stroke-width="1.15" fill="none"/>
<circle cx="930.5" cy="259.0" r="1.55" stroke="#00f" stroke-width="1.15" fill="none"/>
<circle cx="932.4" cy="273.3" r="1.55" stroke="#00f" stroke-width="1.15" fill="none"/>
<circle cx="940.0" cy="276.2" r="1.55" stroke="#00f" stroke-width="1.15" fill="none"/>
<circle cx="941.4" cy="278.1" r="1.55" stroke="#00f" stroke-width="1.15" fill="none"/>
<circle cx="946.7" cy="273.9" r="1.55" stroke="#00f" stroke-width="1.15" fill="none"/>
<circle cx="952.0" cy="272.8" r="1.55" stroke="#00f" stroke-width="1.15" fill="none"/>
<circle cx="953.4" cy="255.6" r="1.55" stroke="#00f" stroke-width="1.15" fill="none"/>
<circle cx="955.9" cy="258.1" r="1.55" stroke="#00f" stroke-width="1.15" fill="none"/>
<path d="M821.20 232.10V295.30H1015.60" stroke="#000" stroke-width="1" fill="none"/>
<path d="M821.20 237.50h2.6M821.20 254.50h2.6M821.20 272.50h2.6M821.20 289.50h2.6M821.50 295.30v-2.6M876.50 295.30v-2.6M932.50 295.30v-2.6M987.50 295.30v-2.6" stroke="#000" stroke-width="1" fill="none"/>
<text transform="translate(818.80,240.60) scale(1.180,1)" font-size="8.3" text-anchor="end" fill="#111" >40</text>
<text transform="translate(818.80,257.80) scale(1.180,1)" font-size="8.3" text-anchor="end" fill="#111" >20</text>
<text transform="translate(818.80,275.00) scale(1.180,1)" font-size="8.3" text-anchor="end" fill="#111" >0</text>
<text transform="translate(818.80,292.20) scale(1.180,1)" font-size="8.3" text-anchor="end" fill="#111" >-20</text>
<text transform="translate(821.20,304.90) scale(1.180,1)" font-size="8.3" text-anchor="middle" fill="#111" >0</text>
<text transform="translate(876.60,304.90) scale(1.180,1)" font-size="8.3" text-anchor="middle" fill="#111" >20</text>
<text transform="translate(932.00,304.90) scale(1.180,1)" font-size="8.3" text-anchor="middle" fill="#111" >40</text>
<text transform="translate(987.40,304.90) scale(1.180,1)" font-size="8.3" text-anchor="middle" fill="#111" >60</text>
<text transform="translate(917.40,225.60) scale(1.160,1)" font-size="9.0" text-anchor="middle" fill="#111" >Condition 6: Sway-sway</text>
<text transform="translate(778.60,14.80) scale(1.122,1)" font-size="17.2" text-anchor="middle" fill="#000" >Normalized Path Length (cm/s<tspan dy="-5.8" font-size="10.5">2</tspan><tspan dy="5.8">)</tspan></text>
<text transform="translate(662.60,314.50) scale(1.155,1)" font-size="9.0" text-anchor="middle" fill="#111" >Average of NPL AP</text>
<text transform="translate(541.90,166.80) rotate(-90)" font-size="9.0" text-anchor="middle" fill="#111" >Difference in NPL AP</text>
<path d="M30.70 384.70H225.40M30.70 397.60H225.40" stroke="#000" stroke-width="1" stroke-dasharray="15.5 6.16" fill="none"/>
<path d="M31.30 391.10H225.40" stroke="#000" stroke-width="1" fill="none"/>
<path d="M83.4 381.3h4.4M85.6 379.3v3.8" stroke="#f00" stroke-width="1.1"/>
<path d="M92.2 384.7h4.4M94.4 382.7v3.8" stroke="#f00" stroke-width="1.1"/>
<path d="M67.4 384.7h4.4M69.6 382.7v3.8" stroke="#f00" stroke-width="1.1"/>
<path d="M72.2 384.7h4.4M74.4 382.7v3.8" stroke="#f00" stroke-width="1.1"/>
<path d="M56.0 385.9h4.4M58.2 383.9v3.8" stroke="#f00" stroke-width="1.1"/>
<path d="M56.5 389.4h4.4M58.7 387.4v3.8" stroke="#f00" stroke-width="1.1"/>
<path d="M60.3 388.5h4.4M62.5 386.5v3.8" stroke="#f00" stroke-width="1.1"/>
<path d="M63.1 389.4h4.4M65.3 387.4v3.8" stroke="#f00" stroke-width="1.1"/>
<path d="M70.8 388h4.4M73 386.0v3.8" stroke="#f00" stroke-width="1.1"/>
<path d="M72.2 390.4h4.4M74.4 388.4v3.8" stroke="#f00" stroke-width="1.1"/>
<path d="M69.8 389.9h4.4M72 387.9v3.8" stroke="#f00" stroke-width="1.1"/>
<path d="M64.6 393.7h4.4M66.8 391.7v3.8" stroke="#f00" stroke-width="1.1"/>
<path d="M77.4 388.2h4.4M79.6 386.2v3.8" stroke="#f00" stroke-width="1.1"/>
<path d="M82.7 393.2h4.4M84.9 391.2v3.8" stroke="#f00" stroke-width="1.1"/>
<path d="M82.7 396.1h4.4M84.9 394.1v3.8" stroke="#f00" stroke-width="1.1"/>
<path d="M90.8 394.2h4.4M93 392.2v3.8" stroke="#f00" stroke-width="1.1"/>
<path d="M92.2 395.6h4.4M94.4 393.6v3.8" stroke="#f00" stroke-width="1.1"/>
<path d="M98.4 392.8h4.4M100.6 390.8v3.8" stroke="#f00" stroke-width="1.1"/>
<path d="M76.5 393.2h4.4M78.7 391.2v3.8" stroke="#f00" stroke-width="1.1"/>
<path d="M113.1 394.7h4.4M115.3 392.7v3.8" stroke="#f00" stroke-width="1.1"/>
<path d="M114.5 395.3h4.4M116.7 393.3v3.8" stroke="#f00" stroke-width="1.1"/>
<path d="M140.5 398.7h4.4M142.7 396.7v3.8" stroke="#f00" stroke-width="1.1"/>
<circle cx="85.9" cy="391.7" r="1.55" stroke="#00f" stroke-width="1.15" fill="none"/>
<circle cx="73.9" cy="391.2" r="1.55" stroke="#00f" stroke-width="1.15" fill="none"/>
<circle cx="87.9" cy="393.9" r="1.55" stroke="#00f" stroke-width="1.15" fill="none"/>
<circle cx="61.9" cy="387.1" r="1.55" stroke="#00f" stroke-width="1.15" fill="none"/>
<circle cx="79.9" cy="392.7" r="1.55" stroke="#00f" stroke-width="1.15" fill="none"/>
<circle cx="64.5" cy="387.5" r="1.55" stroke="#00f" stroke-width="1.15" fill="none"/>
<circle cx="63.2" cy="388.6" r="1.55" stroke="#00f" stroke-width="1.15" fill="none"/>
<circle cx="69.9" cy="391.8" r="1.55" stroke="#00f" stroke-width="1.15" fill="none"/>
<circle cx="77.3" cy="392.5" r="1.55" stroke="#00f" stroke-width="1.15" fill="none"/>
<circle cx="84.1" cy="390.6" r="1.55" stroke="#00f" stroke-width="1.15" fill="none"/>
<circle cx="76.5" cy="392.4" r="1.55" stroke="#00f" stroke-width="1.15" fill="none"/>
<circle cx="94.0" cy="393.6" r="1.55" stroke="#00f" stroke-width="1.15" fill="none"/>
<circle cx="61.1" cy="390.1" r="1.55" stroke="#00f" stroke-width="1.15" fill="none"/>
<circle cx="81.1" cy="391.2" r="1.55" stroke="#00f" stroke-width="1.15" fill="none"/>
<circle cx="92.4" cy="393.0" r="1.55" stroke="#00f" stroke-width="1.15" fill="none"/>
<circle cx="89.2" cy="391.6" r="1.55" stroke="#00f" stroke-width="1.15" fill="none"/>
<circle cx="81.4" cy="390.6" r="1.55" stroke="#00f" stroke-width="1.15" fill="none"/>
<circle cx="71.4" cy="388.7" r="1.55" stroke="#00f" stroke-width="1.15" fill="none"/>
<circle cx="67.2" cy="389.8" r="1.55" stroke="#00f" stroke-width="1.15" fill="none"/>
<circle cx="64.5" cy="387.9" r="1.55" stroke="#00f" stroke-width="1.15" fill="none"/>
<circle cx="84.3" cy="391.7" r="1.55" stroke="#00f" stroke-width="1.15" fill="none"/>
<circle cx="65.2" cy="388.9" r="1.55" stroke="#00f" stroke-width="1.15" fill="none"/>
<circle cx="58.7" cy="387.1" r="1.55" stroke="#00f" stroke-width="1.15" fill="none"/>
<circle cx="79.5" cy="389.7" r="1.55" stroke="#00f" stroke-width="1.15" fill="none"/>
<circle cx="63.5" cy="387.9" r="1.55" stroke="#00f" stroke-width="1.15" fill="none"/>
<circle cx="68.1" cy="391.3" r="1.55" stroke="#00f" stroke-width="1.15" fill="none"/>
<circle cx="69.5" cy="388.9" r="1.55" stroke="#00f" stroke-width="1.15" fill="none"/>
<circle cx="74.1" cy="392.6" r="1.55" stroke="#00f" stroke-width="1.15" fill="none"/>
<circle cx="71.3" cy="391.0" r="1.55" stroke="#00f" stroke-width="1.15" fill="none"/>
<circle cx="64.5" cy="390.4" r="1.55" stroke="#00f" stroke-width="1.15" fill="none"/>
<circle cx="74.4" cy="390.1" r="1.55" stroke="#00f" stroke-width="1.15" fill="none"/>
<circle cx="93.1" cy="392.8" r="1.55" stroke="#00f" stroke-width="1.15" fill="none"/>
<circle cx="57.2" cy="387.7" r="1.55" stroke="#00f" stroke-width="1.15" fill="none"/>
<circle cx="93.8" cy="395.0" r="1.55" stroke="#00f" stroke-width="1.15" fill="none"/>
<circle cx="71.9" cy="388.5" r="1.55" stroke="#00f" stroke-width="1.15" fill="none"/>
<circle cx="68.3" cy="391.2" r="1.55" stroke="#00f" stroke-width="1.15" fill="none"/>
<circle cx="61.0" cy="389.2" r="1.55" stroke="#00f" stroke-width="1.15" fill="none"/>
<circle cx="96.3" cy="393.3" r="1.55" stroke="#00f" stroke-width="1.15" fill="none"/>
<circle cx="96.1" cy="394.7" r="1.55" stroke="#00f" stroke-width="1.15" fill="none"/>
<circle cx="59.1" cy="386.9" r="1.55" stroke="#00f" stroke-width="1.15" fill="none"/>
<circle cx="94.1" cy="395.8" r="1.55" stroke="#00f" stroke-width="1.15" fill="none"/>
<circle cx="63.4" cy="387.1" r="1.55" stroke="#00f" stroke-width="1.15" fill="none"/>
<circle cx="73.6" cy="391.8" r="1.55" stroke="#00f" stroke-width="1.15" fill="none"/>
<circle cx="63.8" cy="388.1" r="1.55" stroke="#00f" stroke-width="1.15" fill="none"/>
<circle cx="77.9" cy="389.6" r="1.55" stroke="#00f" stroke-width="1.15" fill="none"/>
<circle cx="67.0" cy="390.8" r="1.55" stroke="#00f" stroke-width="1.15" fill="none"/>
<circle cx="58.3" cy="388.5" r="1.55" stroke="#00f" stroke-width="1.15" fill="none"/>
<circle cx="58.4" cy="385.6" r="1.55" stroke="#00f" stroke-width="1.15" fill="none"/>
<circle cx="81.4" cy="392.5" r="1.55" stroke="#00f" stroke-width="1.15" fill="none"/>
<circle cx="69.1" cy="389.9" r="1.55" stroke="#00f" stroke-width="1.15" fill="none"/>
<circle cx="74.3" cy="390.3" r="1.55" stroke="#00f" stroke-width="1.15" fill="none"/>
<circle cx="74.2" cy="391.1" r="1.55" stroke="#00f" stroke-width="1.15" fill="none"/>
<circle cx="76.5" cy="392.2" r="1.55" stroke="#00f" stroke-width="1.15" fill="none"/>
<circle cx="88.8" cy="392.0" r="1.55" stroke="#00f" stroke-width="1.15" fill="none"/>
<circle cx="75.7" cy="389.2" r="1.55" stroke="#00f" stroke-width="1.15" fill="none"/>
<circle cx="74.0" cy="390.3" r="1.55" stroke="#00f" stroke-width="1.15" fill="none"/>
<circle cx="77.2" cy="391.8" r="1.55" stroke="#00f" stroke-width="1.15" fill="none"/>
<circle cx="60.1" cy="388.9" r="1.55" stroke="#00f" stroke-width="1.15" fill="none"/>
<circle cx="77.3" cy="391.2" r="1.55" stroke="#00f" stroke-width="1.15" fill="none"/>
<circle cx="72.6" cy="388.5" r="1.55" stroke="#00f" stroke-width="1.15" fill="none"/>
<circle cx="81.8" cy="387.8" r="1.55" stroke="#00f" stroke-width="1.15" fill="none"/>
<circle cx="87.5" cy="389.2" r="1.55" stroke="#00f" stroke-width="1.15" fill="none"/>
<circle cx="97.7" cy="394.9" r="1.55" stroke="#00f" stroke-width="1.15" fill="none"/>
<circle cx="106" cy="390.3" r="1.55" stroke="#00f" stroke-width="1.15" fill="none"/>
<circle cx="108" cy="395.3" r="1.55" stroke="#00f" stroke-width="1.15" fill="none"/>
<circle cx="108.7" cy="398" r="1.55" stroke="#00f" stroke-width="1.15" fill="none"/>
<circle cx="117.3" cy="396.7" r="1.55" stroke="#00f" stroke-width="1.15" fill="none"/>
<circle cx="118" cy="391.3" r="1.55" stroke="#00f" stroke-width="1.15" fill="none"/>
<circle cx="58" cy="386" r="1.55" stroke="#00f" stroke-width="1.15" fill="none"/>
<circle cx="62" cy="386.5" r="1.55" stroke="#00f" stroke-width="1.15" fill="none"/>
<path d="M31.30 364.00V424.30H225.40" stroke="#000" stroke-width="1" fill="none"/>
<path d="M31.30 370.50h2.6M31.30 384.50h2.6M31.30 399.50h2.6M31.30 413.50h2.6M74.50 424.30v-2.6M126.50 424.30v-2.6M178.50 424.30v-2.6" stroke="#000" stroke-width="1" fill="none"/>
<text transform="translate(28.90,373.36) scale(1.180,1)" font-size="8.3" text-anchor="end" fill="#111" >2</text>
<text transform="translate(28.90,387.73) scale(1.180,1)" font-size="8.3" text-anchor="end" fill="#111" >1</text>
<text transform="translate(28.90,402.10) scale(1.180,1)" font-size="8.3" text-anchor="end" fill="#111" >0</text>
<text transform="translate(28.90,416.47) scale(1.180,1)" font-size="8.3" text-anchor="end" fill="#111" >-1</text>
<text transform="translate(72.80,433.90) scale(1.180,1)" font-size="8.3" text-anchor="middle" fill="#111" >-4</text>
<text transform="translate(124.80,433.90) scale(1.180,1)" font-size="8.3" text-anchor="middle" fill="#111" >-3</text>
<text transform="translate(176.80,433.90) scale(1.180,1)" font-size="8.3" text-anchor="middle" fill="#111" >-2</text>
<text transform="translate(127.35,357.50) scale(1.160,1)" font-size="9.0" text-anchor="middle" fill="#111" >Condition 1: Fixed-fixed</text>
<path d="M30.70 485.80H225.40M30.70 496.70H225.40" stroke="#000" stroke-width="1" stroke-dasharray="15.5 6.16" fill="none"/>
<path d="M31.30 491.30H225.40" stroke="#000" stroke-width="1" fill="none"/>
<path d="M71.5 489.4h4.4M73.7 487.4v3.8" stroke="#f00" stroke-width="1.1"/>
<path d="M73.9 487.8h4.4M76.1 485.8v3.8" stroke="#f00" stroke-width="1.1"/>
<path d="M76.4 488.6h4.4M78.6 486.6v3.8" stroke="#f00" stroke-width="1.1"/>
<path d="M78.8 491.0h4.4M81.0 489.0v3.8" stroke="#f00" stroke-width="1.1"/>
<path d="M81.2 490.2h4.4M83.4 488.2v3.8" stroke="#f00" stroke-width="1.1"/>
<path d="M83.7 492.7h4.4M85.9 490.7v3.8" stroke="#f00" stroke-width="1.1"/>
<path d="M86.1 489.1h4.4M88.3 487.1v3.8" stroke="#f00" stroke-width="1.1"/>
<path d="M89.3 491.0h4.4M91.5 489.0v3.8" stroke="#f00" stroke-width="1.1"/>
<path d="M91.8 494.3h4.4M94.0 492.3v3.8" stroke="#f00" stroke-width="1.1"/>
<path d="M95.8 492.7h4.4M98.0 490.7v3.8" stroke="#f00" stroke-width="1.1"/>
<path d="M97.4 493.5h4.4M99.6 491.5v3.8" stroke="#f00" stroke-width="1.1"/>
<path d="M99.9 484.6h4.4M102.1 482.6v3.8" stroke="#f00" stroke-width="1.1"/>
<path d="M100.7 487.8h4.4M102.9 485.8v3.8" stroke="#f00" stroke-width="1.1"/>
<path d="M102.3 483.8h4.4M104.5 481.8v3.8" stroke="#f00" stroke-width="1.1"/>
<path d="M103.9 490.7h4.4M106.1 488.7v3.8" stroke="#f00" stroke-width="1.1"/>
<path d="M105.5 492.7h4.4M107.7 490.7v3.8" stroke="#f00" stroke-width="1.1"/>
<path d="M107.1 486.2h4.4M109.3 484.2v3.8" stroke="#f00" stroke-width="1.1"/>
<path d="M108.8 495.1h4.4M111.0 493.1v3.8" stroke="#f00" stroke-width="1.1"/>
<path d="M112.0 492.7h4.4M114.2 490.7v3.8" stroke="#f00" stroke-width="1.1"/>
<path d="M118.5 493.5h4.4M120.7 491.5v3.8" stroke="#f00" stroke-width="1.1"/>
<path d="M121.7 492.7h4.4M123.9 490.7v3.8" stroke="#f00" stroke-width="1.1"/>
<path d="M146.8 494.6h4.4M149.0 492.6v3.8" stroke="#f00" stroke-width="1.1"/>
<path d="M149.2 495.1h4.4M151.4 493.1v3.8" stroke="#f00" stroke-width="1.1"/>
<circle cx="64.0" cy="484.2" r="1.55" stroke="#00f" stroke-width="1.15" fill="none"/>
<circle cx="67.6" cy="487.0" r="1.55" stroke="#00f" stroke-width="1.15" fill="none"/>
<circle cx="71.8" cy="484.2" r="1.55" stroke="#00f" stroke-width="1.15" fill="none"/>
<circle cx="72.9" cy="485.4" r="1.55" stroke="#00f" stroke-width="1.15" fill="none"/>
<circle cx="75.3" cy="486.2" r="1.55" stroke="#00f" stroke-width="1.15" fill="none"/>
<circle cx="77.0" cy="488.6" r="1.55" stroke="#00f" stroke-width="1.15" fill="none"/>
<circle cx="77.8" cy="492.7" r="1.55" stroke="#00f" stroke-width="1.15" fill="none"/>
<circle cx="78.6" cy="490.2" r="1.55" stroke="#00f" stroke-width="1.15" fill="none"/>
<circle cx="80.2" cy="489.4" r="1.55" stroke="#00f" stroke-width="1.15" fill="none"/>
<circle cx="81.8" cy="491.0" r="1.55" stroke="#00f" stroke-width="1.15" fill="none"/>
<circle cx="83.4" cy="492.7" r="1.55" stroke="#00f" stroke-width="1.15" fill="none"/>
<circle cx="85.9" cy="489.4" r="1.55" stroke="#00f" stroke-width="1.15" fill="none"/>
<circle cx="87.5" cy="490.2" r="1.55" stroke="#00f" stroke-width="1.15" fill="none"/>
<circle cx="89.1" cy="492.7" r="1.55" stroke="#00f" stroke-width="1.15" fill="none"/>
<circle cx="90.7" cy="488.6" r="1.55" stroke="#00f" stroke-width="1.15" fill="none"/>
<circle cx="92.3" cy="490.7" r="1.55" stroke="#00f" stroke-width="1.15" fill="none"/>
<circle cx="94.0" cy="489.4" r="1.55" stroke="#00f" stroke-width="1.15" fill="none"/>
<circle cx="95.6" cy="490.2" r="1.55" stroke="#00f" stroke-width="1.15" fill="none"/>
<circle cx="96.4" cy="493.5" r="1.55" stroke="#00f" stroke-width="1.15" fill="none"/>
<circle cx="102.1" cy="489.4" r="1.55" stroke="#00f" stroke-width="1.15" fill="none"/>
<circle cx="104.5" cy="491.0" r="1.55" stroke="#00f" stroke-width="1.15" fill="none"/>
<circle cx="106.9" cy="492.7" r="1.55" stroke="#00f" stroke-width="1.15" fill="none"/>
<circle cx="109.3" cy="494.3" r="1.55" stroke="#00f" stroke-width="1.15" fill="none"/>
<circle cx="113.4" cy="493.5" r="1.55" stroke="#00f" stroke-width="1.15" fill="none"/>
<circle cx="115.8" cy="494.3" r="1.55" stroke="#00f" stroke-width="1.15" fill="none"/>
<circle cx="118.2" cy="495.1" r="1.55" stroke="#00f" stroke-width="1.15" fill="none"/>
<circle cx="119.9" cy="494.3" r="1.55" stroke="#00f" stroke-width="1.15" fill="none"/>
<circle cx="122.3" cy="494.3" r="1.55" stroke="#00f" stroke-width="1.15" fill="none"/>
<circle cx="124.7" cy="495.1" r="1.55" stroke="#00f" stroke-width="1.15" fill="none"/>
<circle cx="126.3" cy="494.0" r="1.55" stroke="#00f" stroke-width="1.15" fill="none"/>
<circle cx="128.0" cy="494.3" r="1.55" stroke="#00f" stroke-width="1.15" fill="none"/>
<circle cx="129.6" cy="494.3" r="1.55" stroke="#00f" stroke-width="1.15" fill="none"/>
<circle cx="132.0" cy="495.1" r="1.55" stroke="#00f" stroke-width="1.15" fill="none"/>
<circle cx="139.3" cy="487.8" r="1.55" stroke="#00f" stroke-width="1.15" fill="none"/>
<circle cx="139.3" cy="494.3" r="1.55" stroke="#00f" stroke-width="1.15" fill="none"/>
<circle cx="167.6" cy="487.8" r="1.55" stroke="#00f" stroke-width="1.15" fill="none"/>
<circle cx="168.4" cy="489.8" r="1.55" stroke="#00f" stroke-width="1.15" fill="none"/>
<path d="M31.30 461.10V521.20H225.40" stroke="#000" stroke-width="1" fill="none"/>
<path d="M31.30 467.50h2.6M31.30 481.50h2.6M31.30 496.50h2.6M31.30 510.50h2.6M74.50 521.20v-2.6M126.50 521.20v-2.6M178.50 521.20v-2.6" stroke="#000" stroke-width="1" fill="none"/>
<text transform="translate(28.90,470.66) scale(1.180,1)" font-size="8.3" text-anchor="end" fill="#111" >2</text>
<text transform="translate(28.90,484.93) scale(1.180,1)" font-size="8.3" text-anchor="end" fill="#111" >1</text>
<text transform="translate(28.90,499.20) scale(1.180,1)" font-size="8.3" text-anchor="end" fill="#111" >0</text>
<text transform="translate(28.90,513.47) scale(1.180,1)" font-size="8.3" text-anchor="end" fill="#111" >-1</text>
<text transform="translate(72.80,530.80) scale(1.180,1)" font-size="8.3" text-anchor="middle" fill="#111" >-4</text>
<text transform="translate(124.80,530.80) scale(1.180,1)" font-size="8.3" text-anchor="middle" fill="#111" >-3</text>
<text transform="translate(176.80,530.80) scale(1.180,1)" font-size="8.3" text-anchor="middle" fill="#111" >-2</text>
<text transform="translate(127.35,454.60) scale(1.160,1)" font-size="9.0" text-anchor="middle" fill="#111" >Condition 2: Fixed-absent</text>
<path d="M30.70 579.70H225.40M30.70 595.10H225.40" stroke="#000" stroke-width="1" stroke-dasharray="15.5 6.16" fill="none"/>
<path d="M31.30 588.10H225.40" stroke="#000" stroke-width="1" fill="none"/>
<path d="M62.1 574.7h4.4M64.3 572.7v3.8" stroke="#f00" stroke-width="1.1"/>
<path d="M69.9 585.2h4.4M72.1 583.2v3.8" stroke="#f00" stroke-width="1.1"/>
<path d="M70.7 584.4h4.4M72.9 582.4v3.8" stroke="#f00" stroke-width="1.1"/>
<path d="M74.8 573.1h4.4M77.0 571.1v3.8" stroke="#f00" stroke-width="1.1"/>
<path d="M75.6 589.3h4.4M77.8 587.3v3.8" stroke="#f00" stroke-width="1.1"/>
<path d="M79.6 588.5h4.4M81.8 586.5v3.8" stroke="#f00" stroke-width="1.1"/>
<path d="M81.2 582.8h4.4M83.4 580.8v3.8" stroke="#f00" stroke-width="1.1"/>
<path d="M84.5 583.6h4.4M86.7 581.6v3.8" stroke="#f00" stroke-width="1.1"/>
<path d="M86.1 589.3h4.4M88.3 587.3v3.8" stroke="#f00" stroke-width="1.1"/>
<path d="M89.3 575.0h4.4M91.5 573.0v3.8" stroke="#f00" stroke-width="1.1"/>
<path d="M88.5 588.5h4.4M90.7 586.5v3.8" stroke="#f00" stroke-width="1.1"/>
<path d="M99.9 581.2h4.4M102.1 579.2v3.8" stroke="#f00" stroke-width="1.1"/>
<path d="M102.3 589.3h4.4M104.5 587.3v3.8" stroke="#f00" stroke-width="1.1"/>
<path d="M108.8 590.1h4.4M111.0 588.1v3.8" stroke="#f00" stroke-width="1.1"/>
<path d="M116.0 582.0h4.4M118.2 580.0v3.8" stroke="#f00" stroke-width="1.1"/>
<path d="M117.7 590.9h4.4M119.9 588.9v3.8" stroke="#f00" stroke-width="1.1"/>
<path d="M120.1 591.2h4.4M122.3 589.2v3.8" stroke="#f00" stroke-width="1.1"/>
<path d="M128.2 588.5h4.4M130.4 586.5v3.8" stroke="#f00" stroke-width="1.1"/>
<path d="M131.4 589.3h4.4M133.6 587.3v3.8" stroke="#f00" stroke-width="1.1"/>
<path d="M137.9 589.3h4.4M140.1 587.3v3.8" stroke="#f00" stroke-width="1.1"/>
<path d="M150.9 589.3h4.4M153.1 587.3v3.8" stroke="#f00" stroke-width="1.1"/>
<path d="M153.3 592.5h4.4M155.5 590.5v3.8" stroke="#f00" stroke-width="1.1"/>
<path d="M157.3 591.2h4.4M159.5 589.2v3.8" stroke="#f00" stroke-width="1.1"/>
<path d="M159.0 590.9h4.4M161.2 588.9v3.8" stroke="#f00" stroke-width="1.1"/>
<path d="M169.5 593.3h4.4M171.7 591.3v3.8" stroke="#f00" stroke-width="1.1"/>
<path d="M173.5 592.5h4.4M175.7 590.5v3.8" stroke="#f00" stroke-width="1.1"/>
<circle cx="59.1" cy="581.2" r="1.55" stroke="#00f" stroke-width="1.15" fill="none"/>
<circle cx="65.9" cy="581.2" r="1.55" stroke="#00f" stroke-width="1.15" fill="none"/>
<circle cx="68.9" cy="580.4" r="1.55" stroke="#00f" stroke-width="1.15" fill="none"/>
<circle cx="70.5" cy="582.0" r="1.55" stroke="#00f" stroke-width="1.15" fill="none"/>
<circle cx="72.9" cy="582.8" r="1.55" stroke="#00f" stroke-width="1.15" fill="none"/>
<circle cx="75.3" cy="583.6" r="1.55" stroke="#00f" stroke-width="1.15" fill="none"/>
<circle cx="77.0" cy="582.0" r="1.55" stroke="#00f" stroke-width="1.15" fill="none"/>
<circle cx="78.6" cy="584.1" r="1.55" stroke="#00f" stroke-width="1.15" fill="none"/>
<circle cx="80.2" cy="583.1" r="1.55" stroke="#00f" stroke-width="1.15" fill="none"/>
<circle cx="81.8" cy="583.6" r="1.55" stroke="#00f" stroke-width="1.15" fill="none"/>
<circle cx="85.1" cy="585.2" r="1.55" stroke="#00f" stroke-width="1.15" fill="none"/>
<circle cx="86.7" cy="586.0" r="1.55" stroke="#00f" stroke-width="1.15" fill="none"/>
<circle cx="88.3" cy="584.4" r="1.55" stroke="#00f" stroke-width="1.15" fill="none"/>
<circle cx="90.7" cy="586.0" r="1.55" stroke="#00f" stroke-width="1.15" fill="none"/>
<circle cx="93.1" cy="587.7" r="1.55" stroke="#00f" stroke-width="1.15" fill="none"/>
<circle cx="96.4" cy="589.0" r="1.55" stroke="#00f" stroke-width="1.15" fill="none"/>
<circle cx="98.8" cy="588.5" r="1.55" stroke="#00f" stroke-width="1.15" fill="none"/>
<circle cx="101.2" cy="589.3" r="1.55" stroke="#00f" stroke-width="1.15" fill="none"/>
<circle cx="103.7" cy="590.1" r="1.55" stroke="#00f" stroke-width="1.15" fill="none"/>
<circle cx="106.1" cy="589.3" r="1.55" stroke="#00f" stroke-width="1.15" fill="none"/>
<circle cx="109.3" cy="586.0" r="1.55" stroke="#00f" stroke-width="1.15" fill="none"/>
<circle cx="111.0" cy="587.7" r="1.55" stroke="#00f" stroke-width="1.15" fill="none"/>
<circle cx="113.4" cy="589.3" r="1.55" stroke="#00f" stroke-width="1.15" fill="none"/>
<circle cx="115.8" cy="588.5" r="1.55" stroke="#00f" stroke-width="1.15" fill="none"/>
<circle cx="118.2" cy="590.1" r="1.55" stroke="#00f" stroke-width="1.15" fill="none"/>
<circle cx="120.7" cy="589.3" r="1.55" stroke="#00f" stroke-width="1.15" fill="none"/>
<circle cx="122.3" cy="590.1" r="1.55" stroke="#00f" stroke-width="1.15" fill="none"/>
<circle cx="123.9" cy="585.2" r="1.55" stroke="#00f" stroke-width="1.15" fill="none"/>
<circle cx="125.5" cy="587.7" r="1.55" stroke="#00f" stroke-width="1.15" fill="none"/>
<circle cx="128.8" cy="590.1" r="1.55" stroke="#00f" stroke-width="1.15" fill="none"/>
<circle cx="131.2" cy="590.9" r="1.55" stroke="#00f" stroke-width="1.15" fill="none"/>
<circle cx="132.8" cy="591.7" r="1.55" stroke="#00f" stroke-width="1.15" fill="none"/>
<circle cx="140.1" cy="590.9" r="1.55" stroke="#00f" stroke-width="1.15" fill="none"/>
<circle cx="140.9" cy="593.3" r="1.55" stroke="#00f" stroke-width="1.15" fill="none"/>
<circle cx="143.3" cy="590.1" r="1.55" stroke="#00f" stroke-width="1.15" fill="none"/>
<circle cx="145.8" cy="586.0" r="1.55" stroke="#00f" stroke-width="1.15" fill="none"/>
<circle cx="148.2" cy="590.9" r="1.55" stroke="#00f" stroke-width="1.15" fill="none"/>
<circle cx="150.6" cy="589.3" r="1.55" stroke="#00f" stroke-width="1.15" fill="none"/>
<path d="M31.30 558.00V618.20H225.40" stroke="#000" stroke-width="1" fill="none"/>
<path d="M31.30 564.50h2.6M31.30 578.50h2.6M31.30 593.50h2.6M31.30 607.50h2.6M74.50 618.20v-2.6M126.50 618.20v-2.6M178.50 618.20v-2.6" stroke="#000" stroke-width="1" fill="none"/>
<text transform="translate(28.90,567.44) scale(1.180,1)" font-size="8.3" text-anchor="end" fill="#111" >2</text>
<text transform="translate(28.90,581.87) scale(1.180,1)" font-size="8.3" text-anchor="end" fill="#111" >1</text>
<text transform="translate(28.90,596.30) scale(1.180,1)" font-size="8.3" text-anchor="end" fill="#111" >0</text>
<text transform="translate(28.90,610.73) scale(1.180,1)" font-size="8.3" text-anchor="end" fill="#111" >-1</text>
<text transform="translate(72.80,627.80) scale(1.180,1)" font-size="8.3" text-anchor="middle" fill="#111" >-4</text>
<text transform="translate(124.80,627.80) scale(1.180,1)" font-size="8.3" text-anchor="middle" fill="#111" >-3</text>
<text transform="translate(176.80,627.80) scale(1.180,1)" font-size="8.3" text-anchor="middle" fill="#111" >-2</text>
<text transform="translate(127.35,551.50) scale(1.160,1)" font-size="9.0" text-anchor="middle" fill="#111" >Condition 3: Fixed-sway</text>
<path d="M286.70 388.50H480.60M286.70 399.10H480.60" stroke="#000" stroke-width="1" stroke-dasharray="15.5 6.16" fill="none"/>
<path d="M285.70 394.80H480.60" stroke="#000" stroke-width="1" fill="none"/>
<path d="M322.9 389.4h4.4M325.1 387.4v3.8" stroke="#f00" stroke-width="1.1"/>
<path d="M329.6 384.9h4.4M331.8 382.9v3.8" stroke="#f00" stroke-width="1.1"/>
<path d="M336.2 391.3h4.4M338.4 389.3v3.8" stroke="#f00" stroke-width="1.1"/>
<path d="M339.1 392.9h4.4M341.3 390.9v3.8" stroke="#f00" stroke-width="1.1"/>
<path d="M343.8 387.1h4.4M346.0 385.1v3.8" stroke="#f00" stroke-width="1.1"/>
<path d="M345.8 391.3h4.4M348.0 389.3v3.8" stroke="#f00" stroke-width="1.1"/>
<path d="M347.7 398.2h4.4M349.9 396.2v3.8" stroke="#f00" stroke-width="1.1"/>
<path d="M350.5 392.5h4.4M352.7 390.5v3.8" stroke="#f00" stroke-width="1.1"/>
<path d="M357.2 391.3h4.4M359.4 389.3v3.8" stroke="#f00" stroke-width="1.1"/>
<path d="M358.1 397.6h4.4M360.3 395.6v3.8" stroke="#f00" stroke-width="1.1"/>
<path d="M361.0 396.3h4.4M363.2 394.3v3.8" stroke="#f00" stroke-width="1.1"/>
<path d="M364.8 395.1h4.4M367.0 393.1v3.8" stroke="#f00" stroke-width="1.1"/>
<path d="M368.6 395.7h4.4M370.8 393.7v3.8" stroke="#f00" stroke-width="1.1"/>
<path d="M372.4 397.6h4.4M374.6 395.6v3.8" stroke="#f00" stroke-width="1.1"/>
<path d="M375.3 393.8h4.4M377.5 391.8v3.8" stroke="#f00" stroke-width="1.1"/>
<path d="M378.1 398.6h4.4M380.3 396.6v3.8" stroke="#f00" stroke-width="1.1"/>
<path d="M381.9 395.1h4.4M384.1 393.1v3.8" stroke="#f00" stroke-width="1.1"/>
<path d="M384.8 399.5h4.4M387.0 397.5v3.8" stroke="#f00" stroke-width="1.1"/>
<path d="M387.7 395.7h4.4M389.9 393.7v3.8" stroke="#f00" stroke-width="1.1"/>
<path d="M390.5 394.8h4.4M392.7 392.8v3.8" stroke="#f00" stroke-width="1.1"/>
<path d="M394.3 393.8h4.4M396.5 391.8v3.8" stroke="#f00" stroke-width="1.1"/>
<path d="M402.9 397.6h4.4M405.1 395.6v3.8" stroke="#f00" stroke-width="1.1"/>
<path d="M405.8 398.2h4.4M408.0 396.2v3.8" stroke="#f00" stroke-width="1.1"/>
<path d="M410.5 396.3h4.4M412.7 394.3v3.8" stroke="#f00" stroke-width="1.1"/>
<path d="M415.3 395.7h4.4M417.5 393.7v3.8" stroke="#f00" stroke-width="1.1"/>
<path d="M417.2 397.6h4.4M419.4 395.6v3.8" stroke="#f00" stroke-width="1.1"/>
<circle cx="311.8" cy="386.2" r="1.55" stroke="#00f" stroke-width="1.15" fill="none"/>
<circle cx="322.8" cy="391.3" r="1.55" stroke="#00f" stroke-width="1.15" fill="none"/>
<circle cx="341.3" cy="391.3" r="1.55" stroke="#00f" stroke-width="1.15" fill="none"/>
<circle cx="343.2" cy="392.5" r="1.55" stroke="#00f" stroke-width="1.15" fill="none"/>
<circle cx="345.1" cy="391.0" r="1.55" stroke="#00f" stroke-width="1.15" fill="none"/>
<circle cx="348.0" cy="394.8" r="1.55" stroke="#00f" stroke-width="1.15" fill="none"/>
<circle cx="349.9" cy="393.8" r="1.55" stroke="#00f" stroke-width="1.15" fill="none"/>
<circle cx="351.8" cy="395.7" r="1.55" stroke="#00f" stroke-width="1.15" fill="none"/>
<circle cx="353.7" cy="392.9" r="1.55" stroke="#00f" stroke-width="1.15" fill="none"/>
<circle cx="361.3" cy="395.1" r="1.55" stroke="#00f" stroke-width="1.15" fill="none"/>
<circle cx="363.2" cy="394.8" r="1.55" stroke="#00f" stroke-width="1.15" fill="none"/>
<circle cx="365.1" cy="394.4" r="1.55" stroke="#00f" stroke-width="1.15" fill="none"/>
<circle cx="367.0" cy="393.8" r="1.55" stroke="#00f" stroke-width="1.15" fill="none"/>
<circle cx="368.9" cy="394.8" r="1.55" stroke="#00f" stroke-width="1.15" fill="none"/>
<circle cx="370.8" cy="394.4" r="1.55" stroke="#00f" stroke-width="1.15" fill="none"/>
<circle cx="376.5" cy="393.8" r="1.55" stroke="#00f" stroke-width="1.15" fill="none"/>
<circle cx="382.2" cy="392.9" r="1.55" stroke="#00f" stroke-width="1.15" fill="none"/>
<circle cx="384.1" cy="394.8" r="1.55" stroke="#00f" stroke-width="1.15" fill="none"/>
<circle cx="386.0" cy="396.7" r="1.55" stroke="#00f" stroke-width="1.15" fill="none"/>
<circle cx="388.0" cy="397.6" r="1.55" stroke="#00f" stroke-width="1.15" fill="none"/>
<circle cx="390.8" cy="394.8" r="1.55" stroke="#00f" stroke-width="1.15" fill="none"/>
<circle cx="393.7" cy="393.8" r="1.55" stroke="#00f" stroke-width="1.15" fill="none"/>
<circle cx="395.6" cy="394.8" r="1.55" stroke="#00f" stroke-width="1.15" fill="none"/>
<circle cx="397.5" cy="394.4" r="1.55" stroke="#00f" stroke-width="1.15" fill="none"/>
<circle cx="401.3" cy="394.8" r="1.55" stroke="#00f" stroke-width="1.15" fill="none"/>
<circle cx="404.1" cy="395.7" r="1.55" stroke="#00f" stroke-width="1.15" fill="none"/>
<circle cx="412.7" cy="397.6" r="1.55" stroke="#00f" stroke-width="1.15" fill="none"/>
<circle cx="413.7" cy="394.8" r="1.55" stroke="#00f" stroke-width="1.15" fill="none"/>
<circle cx="418.4" cy="389.0" r="1.55" stroke="#00f" stroke-width="1.15" fill="none"/>
<circle cx="418.4" cy="394.8" r="1.55" stroke="#00f" stroke-width="1.15" fill="none"/>
<circle cx="422.2" cy="393.2" r="1.55" stroke="#00f" stroke-width="1.15" fill="none"/>
<circle cx="425.1" cy="397.6" r="1.55" stroke="#00f" stroke-width="1.15" fill="none"/>
<circle cx="447.0" cy="394.8" r="1.55" stroke="#00f" stroke-width="1.15" fill="none"/>
<path d="M285.70 364.00V424.30H480.60" stroke="#000" stroke-width="1" fill="none"/>
<path d="M285.70 370.50h2.6M285.70 384.50h2.6M285.70 399.50h2.6M285.70 413.50h2.6M329.50 424.30v-2.6M381.50 424.30v-2.6M433.50 424.30v-2.6" stroke="#000" stroke-width="1" fill="none"/>
<text transform="translate(283.30,373.36) scale(1.180,1)" font-size="8.3" text-anchor="end" fill="#111" >2</text>
<text transform="translate(283.30,387.73) scale(1.180,1)" font-size="8.3" text-anchor="end" fill="#111" >1</text>
<text transform="translate(283.30,402.10) scale(1.180,1)" font-size="8.3" text-anchor="end" fill="#111" >0</text>
<text transform="translate(283.30,416.47) scale(1.180,1)" font-size="8.3" text-anchor="end" fill="#111" >-1</text>
<text transform="translate(328.10,433.90) scale(1.180,1)" font-size="8.3" text-anchor="middle" fill="#111" >-4</text>
<text transform="translate(380.10,433.90) scale(1.180,1)" font-size="8.3" text-anchor="middle" fill="#111" >-3</text>
<text transform="translate(432.10,433.90) scale(1.180,1)" font-size="8.3" text-anchor="middle" fill="#111" >-2</text>
<text transform="translate(382.15,357.50) scale(1.160,1)" font-size="9.0" text-anchor="middle" fill="#111" >Condition 4: Sway-fixed</text>
<path d="M286.70 486.00H480.60M286.70 504.00H480.60" stroke="#000" stroke-width="1" stroke-dasharray="15.5 6.16" fill="none"/>
<path d="M285.70 494.90H480.60" stroke="#000" stroke-width="1" fill="none"/>
<path d="M365.1 494.3h4.4M367.3 492.3v3.8" stroke="#f00" stroke-width="1.1"/>
<path d="M375.8 495.3h4.4M378.0 493.3v3.8" stroke="#f00" stroke-width="1.1"/>
<path d="M377.8 488.0h4.4M380.0 486.0v3.8" stroke="#f00" stroke-width="1.1"/>
<path d="M385.1 494.0h4.4M387.3 492.0v3.8" stroke="#f00" stroke-width="1.1"/>
<path d="M389.1 494.0h4.4M391.3 492.0v3.8" stroke="#f00" stroke-width="1.1"/>
<path d="M393.1 502.7h4.4M395.3 500.7v3.8" stroke="#f00" stroke-width="1.1"/>
<path d="M394.5 490.0h4.4M396.7 488.0v3.8" stroke="#f00" stroke-width="1.1"/>
<path d="M397.1 494.7h4.4M399.3 492.7v3.8" stroke="#f00" stroke-width="1.1"/>
<path d="M399.8 494.0h4.4M402.0 492.0v3.8" stroke="#f00" stroke-width="1.1"/>
<path d="M401.1 496.0h4.4M403.3 494.0v3.8" stroke="#f00" stroke-width="1.1"/>
<path d="M401.8 502.0h4.4M404.0 500.0v3.8" stroke="#f00" stroke-width="1.1"/>
<path d="M403.1 490.7h4.4M405.3 488.7v3.8" stroke="#f00" stroke-width="1.1"/>
<path d="M405.1 492.0h4.4M407.3 490.0v3.8" stroke="#f00" stroke-width="1.1"/>
<path d="M408.5 498.7h4.4M410.7 496.7v3.8" stroke="#f00" stroke-width="1.1"/>
<path d="M410.5 492.0h4.4M412.7 490.0v3.8" stroke="#f00" stroke-width="1.1"/>
<path d="M413.1 495.3h4.4M415.3 493.3v3.8" stroke="#f00" stroke-width="1.1"/>
<path d="M415.8 493.3h4.4M418.0 491.3v3.8" stroke="#f00" stroke-width="1.1"/>
<path d="M417.1 497.3h4.4M419.3 495.3v3.8" stroke="#f00" stroke-width="1.1"/>
<path d="M419.8 492.7h4.4M422.0 490.7v3.8" stroke="#f00" stroke-width="1.1"/>
<path d="M422.5 491.3h4.4M424.7 489.3v3.8" stroke="#f00" stroke-width="1.1"/>
<path d="M423.8 490.0h4.4M426.0 488.0v3.8" stroke="#f00" stroke-width="1.1"/>
<path d="M425.1 493.3h4.4M427.3 491.3v3.8" stroke="#f00" stroke-width="1.1"/>
<path d="M426.5 505.3h4.4M428.7 503.3v3.8" stroke="#f00" stroke-width="1.1"/>
<path d="M427.8 494.0h4.4M430.0 492.0v3.8" stroke="#f00" stroke-width="1.1"/>
<path d="M430.5 492.7h4.4M432.7 490.7v3.8" stroke="#f00" stroke-width="1.1"/>
<path d="M434.5 491.3h4.4M436.7 489.3v3.8" stroke="#f00" stroke-width="1.1"/>
<path d="M438.5 492.0h4.4M440.7 490.0v3.8" stroke="#f00" stroke-width="1.1"/>
<path d="M441.1 492.7h4.4M443.3 490.7v3.8" stroke="#f00" stroke-width="1.1"/>
<path d="M446.5 498.7h4.4M448.7 496.7v3.8" stroke="#f00" stroke-width="1.1"/>
<circle cx="372.0" cy="490.3" r="1.55" stroke="#00f" stroke-width="1.15" fill="none"/>
<circle cx="379.3" cy="491.3" r="1.55" stroke="#00f" stroke-width="1.15" fill="none"/>
<circle cx="384.7" cy="484.4" r="1.55" stroke="#00f" stroke-width="1.15" fill="none"/>
<circle cx="386.0" cy="489.3" r="1.55" stroke="#00f" stroke-width="1.15" fill="none"/>
<circle cx="388.7" cy="494.7" r="1.55" stroke="#00f" stroke-width="1.15" fill="none"/>
<circle cx="392.7" cy="488.0" r="1.55" stroke="#00f" stroke-width="1.15" fill="none"/>
<circle cx="394.0" cy="495.3" r="1.55" stroke="#00f" stroke-width="1.15" fill="none"/>
<circle cx="396.0" cy="490.7" r="1.55" stroke="#00f" stroke-width="1.15" fill="none"/>
<circle cx="398.0" cy="498.7" r="1.55" stroke="#00f" stroke-width="1.15" fill="none"/>
<circle cx="399.3" cy="500.7" r="1.55" stroke="#00f" stroke-width="1.15" fill="none"/>
<circle cx="403.3" cy="492.0" r="1.55" stroke="#00f" stroke-width="1.15" fill="none"/>
<circle cx="403.3" cy="506.0" r="1.55" stroke="#00f" stroke-width="1.15" fill="none"/>
<circle cx="404.7" cy="493.3" r="1.55" stroke="#00f" stroke-width="1.15" fill="none"/>
<circle cx="406.0" cy="484.4" r="1.55" stroke="#00f" stroke-width="1.15" fill="none"/>
<circle cx="406.7" cy="500.7" r="1.55" stroke="#00f" stroke-width="1.15" fill="none"/>
<circle cx="408.0" cy="492.7" r="1.55" stroke="#00f" stroke-width="1.15" fill="none"/>
<circle cx="408.7" cy="506.0" r="1.55" stroke="#00f" stroke-width="1.15" fill="none"/>
<circle cx="410.0" cy="493.3" r="1.55" stroke="#00f" stroke-width="1.15" fill="none"/>
<circle cx="410.7" cy="495.3" r="1.55" stroke="#00f" stroke-width="1.15" fill="none"/>
<circle cx="411.3" cy="498.0" r="1.55" stroke="#00f" stroke-width="1.15" fill="none"/>
<circle cx="412.7" cy="494.0" r="1.55" stroke="#00f" stroke-width="1.15" fill="none"/>
<circle cx="413.3" cy="502.0" r="1.55" stroke="#00f" stroke-width="1.15" fill="none"/>
<circle cx="414.0" cy="506.7" r="1.55" stroke="#00f" stroke-width="1.15" fill="none"/>
<circle cx="415.3" cy="492.0" r="1.55" stroke="#00f" stroke-width="1.15" fill="none"/>
<circle cx="415.3" cy="497.3" r="1.55" stroke="#00f" stroke-width="1.15" fill="none"/>
<circle cx="416.7" cy="493.3" r="1.55" stroke="#00f" stroke-width="1.15" fill="none"/>
<circle cx="420.7" cy="500.7" r="1.55" stroke="#00f" stroke-width="1.15" fill="none"/>
<circle cx="421.3" cy="490.7" r="1.55" stroke="#00f" stroke-width="1.15" fill="none"/>
<circle cx="422.7" cy="494.0" r="1.55" stroke="#00f" stroke-width="1.15" fill="none"/>
<circle cx="424.0" cy="491.3" r="1.55" stroke="#00f" stroke-width="1.15" fill="none"/>
<circle cx="426.0" cy="501.3" r="1.55" stroke="#00f" stroke-width="1.15" fill="none"/>
<circle cx="426.7" cy="503.3" r="1.55" stroke="#00f" stroke-width="1.15" fill="none"/>
<circle cx="428.7" cy="492.7" r="1.55" stroke="#00f" stroke-width="1.15" fill="none"/>
<circle cx="436.0" cy="492.0" r="1.55" stroke="#00f" stroke-width="1.15" fill="none"/>
<circle cx="446.0" cy="490.0" r="1.55" stroke="#00f" stroke-width="1.15" fill="none"/>
<path d="M285.70 461.10V521.20H480.60" stroke="#000" stroke-width="1" fill="none"/>
<path d="M285.70 467.50h2.6M285.70 481.50h2.6M285.70 496.50h2.6M285.70 510.50h2.6M329.50 521.20v-2.6M381.50 521.20v-2.6M433.50 521.20v-2.6" stroke="#000" stroke-width="1" fill="none"/>
<text transform="translate(283.30,470.66) scale(1.180,1)" font-size="8.3" text-anchor="end" fill="#111" >2</text>
<text transform="translate(283.30,484.93) scale(1.180,1)" font-size="8.3" text-anchor="end" fill="#111" >1</text>
<text transform="translate(283.30,499.20) scale(1.180,1)" font-size="8.3" text-anchor="end" fill="#111" >0</text>
<text transform="translate(283.30,513.47) scale(1.180,1)" font-size="8.3" text-anchor="end" fill="#111" >-1</text>
<text transform="translate(328.10,530.80) scale(1.180,1)" font-size="8.3" text-anchor="middle" fill="#111" >-4</text>
<text transform="translate(380.10,530.80) scale(1.180,1)" font-size="8.3" text-anchor="middle" fill="#111" >-3</text>
<text transform="translate(432.10,530.80) scale(1.180,1)" font-size="8.3" text-anchor="middle" fill="#111" >-2</text>
<text transform="translate(382.15,454.60) scale(1.160,1)" font-size="9.0" text-anchor="middle" fill="#111" >Condition 5: Sway-absent</text>
<path d="M286.70 581.30H480.60M286.70 599.60H480.60" stroke="#000" stroke-width="1" stroke-dasharray="15.5 6.16" fill="none"/>
<path d="M285.70 590.40H480.60" stroke="#000" stroke-width="1" fill="none"/>
<path d="M343.0 572.6h4.4M345.2 570.6v3.8" stroke="#f00" stroke-width="1.1"/>
<path d="M346.1 581.8h4.4M348.3 579.8v3.8" stroke="#f00" stroke-width="1.1"/>
<path d="M351.4 590.9h4.4M353.6 588.9v3.8" stroke="#f00" stroke-width="1.1"/>
<path d="M361.3 584.8h4.4M363.5 582.8v3.8" stroke="#f00" stroke-width="1.1"/>
<path d="M379.6 590.9h4.4M381.8 588.9v3.8" stroke="#f00" stroke-width="1.1"/>
<path d="M381.1 591.7h4.4M383.3 589.7v3.8" stroke="#f00" stroke-width="1.1"/>
<path d="M382.7 592.4h4.4M384.9 590.4v3.8" stroke="#f00" stroke-width="1.1"/>
<path d="M388.8 588.6h4.4M391.0 586.6v3.8" stroke="#f00" stroke-width="1.1"/>
<path d="M393.3 590.1h4.4M395.5 588.1v3.8" stroke="#f00" stroke-width="1.1"/>
<path d="M397.1 593.2h4.4M399.3 591.2v3.8" stroke="#f00" stroke-width="1.1"/>
<path d="M398.7 587.9h4.4M400.9 585.9v3.8" stroke="#f00" stroke-width="1.1"/>
<path d="M400.9 586.3h4.4M403.1 584.3v3.8" stroke="#f00" stroke-width="1.1"/>
<path d="M404.0 587.9h4.4M406.2 585.9v3.8" stroke="#f00" stroke-width="1.1"/>
<path d="M406.3 591.7h4.4M408.5 589.7v3.8" stroke="#f00" stroke-width="1.1"/>
<path d="M408.6 587.1h4.4M410.8 585.1v3.8" stroke="#f00" stroke-width="1.1"/>
<path d="M410.8 587.9h4.4M413.0 585.9v3.8" stroke="#f00" stroke-width="1.1"/>
<path d="M413.1 590.1h4.4M415.3 588.1v3.8" stroke="#f00" stroke-width="1.1"/>
<path d="M413.9 593.2h4.4M416.1 591.2v3.8" stroke="#f00" stroke-width="1.1"/>
<path d="M416.2 592.4h4.4M418.4 590.4v3.8" stroke="#f00" stroke-width="1.1"/>
<path d="M417.7 588.6h4.4M419.9 586.6v3.8" stroke="#f00" stroke-width="1.1"/>
<path d="M425.3 586.3h4.4M427.5 584.3v3.8" stroke="#f00" stroke-width="1.1"/>
<path d="M426.1 591.7h4.4M428.3 589.7v3.8" stroke="#f00" stroke-width="1.1"/>
<path d="M440.6 590.9h4.4M442.8 588.9v3.8" stroke="#f00" stroke-width="1.1"/>
<path d="M449.7 590.1h4.4M451.9 588.1v3.8" stroke="#f00" stroke-width="1.1"/>
<path d="M452.0 591.7h4.4M454.2 589.7v3.8" stroke="#f00" stroke-width="1.1"/>
<circle cx="352.9" cy="586.3" r="1.55" stroke="#00f" stroke-width="1.15" fill="none"/>
<circle cx="353.6" cy="587.9" r="1.55" stroke="#00f" stroke-width="1.15" fill="none"/>
<circle cx="364.3" cy="590.1" r="1.55" stroke="#00f" stroke-width="1.15" fill="none"/>
<circle cx="365.0" cy="584.0" r="1.55" stroke="#00f" stroke-width="1.15" fill="none"/>
<circle cx="374.2" cy="590.1" r="1.55" stroke="#00f" stroke-width="1.15" fill="none"/>
<circle cx="378.8" cy="583.0" r="1.55" stroke="#00f" stroke-width="1.15" fill="none"/>
<circle cx="386.4" cy="587.9" r="1.55" stroke="#00f" stroke-width="1.15" fill="none"/>
<circle cx="387.9" cy="589.4" r="1.55" stroke="#00f" stroke-width="1.15" fill="none"/>
<circle cx="389.4" cy="590.1" r="1.55" stroke="#00f" stroke-width="1.15" fill="none"/>
<circle cx="394.0" cy="588.6" r="1.55" stroke="#00f" stroke-width="1.15" fill="none"/>
<circle cx="395.5" cy="587.9" r="1.55" stroke="#00f" stroke-width="1.15" fill="none"/>
<circle cx="397.0" cy="589.4" r="1.55" stroke="#00f" stroke-width="1.15" fill="none"/>
<circle cx="398.6" cy="590.1" r="1.55" stroke="#00f" stroke-width="1.15" fill="none"/>
<circle cx="400.1" cy="589.4" r="1.55" stroke="#00f" stroke-width="1.15" fill="none"/>
<circle cx="401.6" cy="588.6" r="1.55" stroke="#00f" stroke-width="1.15" fill="none"/>
<circle cx="403.1" cy="590.1" r="1.55" stroke="#00f" stroke-width="1.15" fill="none"/>
<circle cx="404.7" cy="589.4" r="1.55" stroke="#00f" stroke-width="1.15" fill="none"/>
<circle cx="405.4" cy="590.9" r="1.55" stroke="#00f" stroke-width="1.15" fill="none"/>
<circle cx="404.7" cy="595.5" r="1.55" stroke="#00f" stroke-width="1.15" fill="none"/>
<circle cx="405.4" cy="597.8" r="1.55" stroke="#00f" stroke-width="1.15" fill="none"/>
<circle cx="409.2" cy="590.1" r="1.55" stroke="#00f" stroke-width="1.15" fill="none"/>
<circle cx="412.3" cy="595.5" r="1.55" stroke="#00f" stroke-width="1.15" fill="none"/>
<circle cx="413.0" cy="597.8" r="1.55" stroke="#00f" stroke-width="1.15" fill="none"/>
<circle cx="413.8" cy="589.4" r="1.55" stroke="#00f" stroke-width="1.15" fill="none"/>
<circle cx="417.6" cy="587.9" r="1.55" stroke="#00f" stroke-width="1.15" fill="none"/>
<circle cx="418.4" cy="589.4" r="1.55" stroke="#00f" stroke-width="1.15" fill="none"/>
<circle cx="421.4" cy="587.9" r="1.55" stroke="#00f" stroke-width="1.15" fill="none"/>
<circle cx="423.0" cy="584.8" r="1.55" stroke="#00f" stroke-width="1.15" fill="none"/>
<circle cx="423.7" cy="590.1" r="1.55" stroke="#00f" stroke-width="1.15" fill="none"/>
<circle cx="421.4" cy="602.3" r="1.55" stroke="#00f" stroke-width="1.15" fill="none"/>
<circle cx="424.5" cy="602.3" r="1.55" stroke="#00f" stroke-width="1.15" fill="none"/>
<circle cx="426.0" cy="598.5" r="1.55" stroke="#00f" stroke-width="1.15" fill="none"/>
<circle cx="439.7" cy="588.6" r="1.55" stroke="#00f" stroke-width="1.15" fill="none"/>
<circle cx="440.5" cy="590.9" r="1.55" stroke="#00f" stroke-width="1.15" fill="none"/>
<path d="M285.70 558.00V618.20H480.60" stroke="#000" stroke-width="1" fill="none"/>
<path d="M285.70 564.50h2.6M285.70 578.50h2.6M285.70 593.50h2.6M285.70 607.50h2.6M329.50 618.20v-2.6M381.50 618.20v-2.6M433.50 618.20v-2.6" stroke="#000" stroke-width="1" fill="none"/>
<text transform="translate(283.30,567.44) scale(1.180,1)" font-size="8.3" text-anchor="end" fill="#111" >2</text>
<text transform="translate(283.30,581.87) scale(1.180,1)" font-size="8.3" text-anchor="end" fill="#111" >1</text>
<text transform="translate(283.30,596.30) scale(1.180,1)" font-size="8.3" text-anchor="end" fill="#111" >0</text>
<text transform="translate(283.30,610.73) scale(1.180,1)" font-size="8.3" text-anchor="end" fill="#111" >-1</text>
<text transform="translate(328.10,627.80) scale(1.180,1)" font-size="8.3" text-anchor="middle" fill="#111" >-4</text>
<text transform="translate(380.10,627.80) scale(1.180,1)" font-size="8.3" text-anchor="middle" fill="#111" >-3</text>
<text transform="translate(432.10,627.80) scale(1.180,1)" font-size="8.3" text-anchor="middle" fill="#111" >-2</text>
<text transform="translate(382.15,551.50) scale(1.160,1)" font-size="9.0" text-anchor="middle" fill="#111" >Condition 6: Sway-sway</text>
<text transform="translate(255.75,344.30) scale(1.122,1)" font-size="17.2" text-anchor="middle" fill="#000" >Log of Root mean square (cm/s<tspan dy="-5.8" font-size="10.5">2</tspan><tspan dy="5.8">)</tspan></text>
<text transform="translate(127.50,637.30) scale(1.155,1)" font-size="9.0" text-anchor="middle" fill="#111" >Average of logRMS AP</text>
<text transform="translate(13.90,491.70) rotate(-90)" font-size="9.0" text-anchor="middle" fill="#111" >Difference in logRMS AP</text>
<path d="M565.60 393.90H760.00M565.60 401.00H760.00" stroke="#000" stroke-width="1" stroke-dasharray="15.5 6.16" fill="none"/>
<path d="M565.60 397.60H760.00" stroke="#000" stroke-width="1" fill="none"/>
<path d="M575.8 391.5h4.4M578 389.5v3.8" stroke="#f00" stroke-width="1.1"/>
<path d="M578.3 391h4.4M580.5 389.0v3.8" stroke="#f00" stroke-width="1.1"/>
<path d="M579.8 391.8h4.4M582 389.8v3.8" stroke="#f00" stroke-width="1.1"/>
<path d="M583.3 394.5h4.4M585.5 392.5v3.8" stroke="#f00" stroke-width="1.1"/>
<path d="M590.3 394.8h4.4M592.5 392.8v3.8" stroke="#f00" stroke-width="1.1"/>
<path d="M596.3 395h4.4M598.5 393.0v3.8" stroke="#f00" stroke-width="1.1"/>
<path d="M572.3 398.3h4.4M574.5 396.3v3.8" stroke="#f00" stroke-width="1.1"/>
<path d="M569.8 400.5h4.4M572 398.5v3.8" stroke="#f00" stroke-width="1.1"/>
<circle cx="577.4" cy="396.8" r="1.55" stroke="#00f" stroke-width="1.15" fill="none"/>
<circle cx="576.1" cy="397.2" r="1.55" stroke="#00f" stroke-width="1.15" fill="none"/>
<circle cx="573.2" cy="398.2" r="1.55" stroke="#00f" stroke-width="1.15" fill="none"/>
<circle cx="569.4" cy="399.4" r="1.55" stroke="#00f" stroke-width="1.15" fill="none"/>
<circle cx="567.8" cy="399.5" r="1.55" stroke="#00f" stroke-width="1.15" fill="none"/>
<circle cx="569.4" cy="398.6" r="1.55" stroke="#00f" stroke-width="1.15" fill="none"/>
<circle cx="576.1" cy="396.6" r="1.55" stroke="#00f" stroke-width="1.15" fill="none"/>
<circle cx="577.3" cy="396.0" r="1.55" stroke="#00f" stroke-width="1.15" fill="none"/>
<circle cx="572.7" cy="397.1" r="1.55" stroke="#00f" stroke-width="1.15" fill="none"/>
<circle cx="568.9" cy="399.3" r="1.55" stroke="#00f" stroke-width="1.15" fill="none"/>
<circle cx="575.3" cy="396.7" r="1.55" stroke="#00f" stroke-width="1.15" fill="none"/>
<circle cx="575.7" cy="396.8" r="1.55" stroke="#00f" stroke-width="1.15" fill="none"/>
<circle cx="574.3" cy="397.7" r="1.55" stroke="#00f" stroke-width="1.15" fill="none"/>
<circle cx="573.6" cy="398.0" r="1.55" stroke="#00f" stroke-width="1.15" fill="none"/>
<circle cx="568.9" cy="399.2" r="1.55" stroke="#00f" stroke-width="1.15" fill="none"/>
<circle cx="572.0" cy="397.8" r="1.55" stroke="#00f" stroke-width="1.15" fill="none"/>
<circle cx="578.5" cy="395.9" r="1.55" stroke="#00f" stroke-width="1.15" fill="none"/>
<circle cx="575.8" cy="396.4" r="1.55" stroke="#00f" stroke-width="1.15" fill="none"/>
<circle cx="575.2" cy="397.3" r="1.55" stroke="#00f" stroke-width="1.15" fill="none"/>
<circle cx="570.2" cy="399.1" r="1.55" stroke="#00f" stroke-width="1.15" fill="none"/>
<circle cx="574.0" cy="397.2" r="1.55" stroke="#00f" stroke-width="1.15" fill="none"/>
<circle cx="566.8" cy="399.0" r="1.55" stroke="#00f" stroke-width="1.15" fill="none"/>
<circle cx="574.1" cy="397.3" r="1.55" stroke="#00f" stroke-width="1.15" fill="none"/>
<circle cx="577.0" cy="396.0" r="1.55" stroke="#00f" stroke-width="1.15" fill="none"/>
<circle cx="580.5" cy="395.5" r="1.55" stroke="#00f" stroke-width="1.15" fill="none"/>
<circle cx="581.5" cy="394.5" r="1.55" stroke="#00f" stroke-width="1.15" fill="none"/>
<circle cx="583" cy="393.5" r="1.55" stroke="#00f" stroke-width="1.15" fill="none"/>
<circle cx="585" cy="394" r="1.55" stroke="#00f" stroke-width="1.15" fill="none"/>
<circle cx="590" cy="390.2" r="1.55" stroke="#00f" stroke-width="1.15" fill="none"/>
<path d="M565.60 362.90V426.30H760.00" stroke="#000" stroke-width="1" fill="none"/>
<path d="M565.60 365.50h2.6M565.60 383.50h2.6M565.60 400.50h2.6M565.60 417.50h2.6M565.50 426.30v-2.6M615.50 426.30v-2.6M665.50 426.30v-2.6M715.50 426.30v-2.6" stroke="#000" stroke-width="1" fill="none"/>
<text transform="translate(563.20,368.86) scale(1.180,1)" font-size="8.3" text-anchor="end" fill="#111" >200</text>
<text transform="translate(563.20,386.03) scale(1.180,1)" font-size="8.3" text-anchor="end" fill="#111" >100</text>
<text transform="translate(563.20,403.20) scale(1.180,1)" font-size="8.3" text-anchor="end" fill="#111" >0</text>
<text transform="translate(563.20,420.37) scale(1.180,1)" font-size="8.3" text-anchor="end" fill="#111" >-100</text>
<text transform="translate(565.50,435.90) scale(1.180,1)" font-size="8.3" text-anchor="middle" fill="#111" >0</text>
<text transform="translate(615.60,435.90) scale(1.180,1)" font-size="8.3" text-anchor="middle" fill="#111" >100</text>
<text transform="translate(665.70,435.90) scale(1.180,1)" font-size="8.3" text-anchor="middle" fill="#111" >200</text>
<text transform="translate(715.80,435.90) scale(1.180,1)" font-size="8.3" text-anchor="middle" fill="#111" >300</text>
<text transform="translate(661.80,356.40) scale(1.160,1)" font-size="9.0" text-anchor="middle" fill="#111" >Condition 1: Fixed-fixed</text>
<path d="M565.60 486.90H760.00M565.60 498.30H760.00" stroke="#000" stroke-width="1" stroke-dasharray="15.5 6.16" fill="none"/>
<path d="M565.60 492.30H760.00" stroke="#000" stroke-width="1" fill="none"/>
<path d="M569.7 492.3h4.4M571.9 490.3v3.8" stroke="#f00" stroke-width="1.1"/>
<path d="M573.1 495.1h4.4M575.3 493.1v3.8" stroke="#f00" stroke-width="1.1"/>
<path d="M576.5 489.4h4.4M578.7 487.4v3.8" stroke="#f00" stroke-width="1.1"/>
<path d="M577.1 494.6h4.4M579.3 492.6v3.8" stroke="#f00" stroke-width="1.1"/>
<path d="M582.2 486.0h4.4M584.4 484.0v3.8" stroke="#f00" stroke-width="1.1"/>
<path d="M583.4 488.3h4.4M585.6 486.3v3.8" stroke="#f00" stroke-width="1.1"/>
<path d="M584.5 491.1h4.4M586.7 489.1v3.8" stroke="#f00" stroke-width="1.1"/>
<path d="M593.7 487.1h4.4M595.9 485.1v3.8" stroke="#f00" stroke-width="1.1"/>
<path d="M595.4 487.7h4.4M597.6 485.7v3.8" stroke="#f00" stroke-width="1.1"/>
<path d="M595.9 484.9h4.4M598.1 482.9v3.8" stroke="#f00" stroke-width="1.1"/>
<path d="M611.9 484.9h4.4M614.1 482.9v3.8" stroke="#f00" stroke-width="1.1"/>
<path d="M615.4 482.0h4.4M617.6 480.0v3.8" stroke="#f00" stroke-width="1.1"/>
<path d="M616.5 483.7h4.4M618.7 481.7v3.8" stroke="#f00" stroke-width="1.1"/>
<circle cx="578.2" cy="491.9" r="1.55" stroke="#00f" stroke-width="1.15" fill="none"/>
<circle cx="573.8" cy="493.7" r="1.55" stroke="#00f" stroke-width="1.15" fill="none"/>
<circle cx="572.3" cy="494.5" r="1.55" stroke="#00f" stroke-width="1.15" fill="none"/>
<circle cx="572.0" cy="494.4" r="1.55" stroke="#00f" stroke-width="1.15" fill="none"/>
<circle cx="571.3" cy="494.4" r="1.55" stroke="#00f" stroke-width="1.15" fill="none"/>
<circle cx="570.7" cy="494.9" r="1.55" stroke="#00f" stroke-width="1.15" fill="none"/>
<circle cx="582.3" cy="491.7" r="1.55" stroke="#00f" stroke-width="1.15" fill="none"/>
<circle cx="572.3" cy="494.5" r="1.55" stroke="#00f" stroke-width="1.15" fill="none"/>
<circle cx="577.2" cy="493.3" r="1.55" stroke="#00f" stroke-width="1.15" fill="none"/>
<circle cx="576.0" cy="493.9" r="1.55" stroke="#00f" stroke-width="1.15" fill="none"/>
<circle cx="573.0" cy="493.6" r="1.55" stroke="#00f" stroke-width="1.15" fill="none"/>
<circle cx="576.8" cy="492.8" r="1.55" stroke="#00f" stroke-width="1.15" fill="none"/>
<circle cx="570.0" cy="494.3" r="1.55" stroke="#00f" stroke-width="1.15" fill="none"/>
<circle cx="577.6" cy="492.5" r="1.55" stroke="#00f" stroke-width="1.15" fill="none"/>
<circle cx="571.9" cy="494.5" r="1.55" stroke="#00f" stroke-width="1.15" fill="none"/>
<circle cx="578.9" cy="492.2" r="1.55" stroke="#00f" stroke-width="1.15" fill="none"/>
<circle cx="573.3" cy="493.3" r="1.55" stroke="#00f" stroke-width="1.15" fill="none"/>
<circle cx="582.6" cy="492.1" r="1.55" stroke="#00f" stroke-width="1.15" fill="none"/>
<circle cx="569.2" cy="495.7" r="1.55" stroke="#00f" stroke-width="1.15" fill="none"/>
<circle cx="576.1" cy="493.4" r="1.55" stroke="#00f" stroke-width="1.15" fill="none"/>
<circle cx="571.8" cy="494.0" r="1.55" stroke="#00f" stroke-width="1.15" fill="none"/>
<circle cx="569.2" cy="495.5" r="1.55" stroke="#00f" stroke-width="1.15" fill="none"/>
<circle cx="579.7" cy="492.9" r="1.55" stroke="#00f" stroke-width="1.15" fill="none"/>
<circle cx="572.9" cy="494.1" r="1.55" stroke="#00f" stroke-width="1.15" fill="none"/>
<circle cx="580.8" cy="491.8" r="1.55" stroke="#00f" stroke-width="1.15" fill="none"/>
<circle cx="579.0" cy="492.3" r="1.55" stroke="#00f" stroke-width="1.15" fill="none"/>
<circle cx="581.7" cy="491.4" r="1.55" stroke="#00f" stroke-width="1.15" fill="none"/>
<circle cx="572.6" cy="495.1" r="1.55" stroke="#00f" stroke-width="1.15" fill="none"/>
<circle cx="580.0" cy="492.9" r="1.55" stroke="#00f" stroke-width="1.15" fill="none"/>
<circle cx="573.5" cy="494.6" r="1.55" stroke="#00f" stroke-width="1.15" fill="none"/>
<circle cx="583.3" cy="489.4" r="1.55" stroke="#00f" stroke-width="1.15" fill="none"/>
<circle cx="586.1" cy="488.9" r="1.55" stroke="#00f" stroke-width="1.15" fill="none"/>
<circle cx="587.9" cy="490.3" r="1.55" stroke="#00f" stroke-width="1.15" fill="none"/>
<circle cx="599.9" cy="482.0" r="1.55" stroke="#00f" stroke-width="1.15" fill="none"/>
<circle cx="606.7" cy="487.1" r="1.55" stroke="#00f" stroke-width="1.15" fill="none"/>
<circle cx="617.0" cy="484.3" r="1.55" stroke="#00f" stroke-width="1.15" fill="none"/>
<circle cx="618.1" cy="484.9" r="1.55" stroke="#00f" stroke-width="1.15" fill="none"/>
<circle cx="615.9" cy="495.1" r="1.55" stroke="#00f" stroke-width="1.15" fill="none"/>
<path d="M565.60 458.30V522.80H760.00" stroke="#000" stroke-width="1" fill="none"/>
<path d="M565.60 461.50h2.6M565.60 478.50h2.6M565.60 496.50h2.6M565.60 514.50h2.6M565.50 522.80v-2.6M615.50 522.80v-2.6M665.50 522.80v-2.6M715.50 522.80v-2.6" stroke="#000" stroke-width="1" fill="none"/>
<text transform="translate(563.20,464.44) scale(1.180,1)" font-size="8.3" text-anchor="end" fill="#111" >200</text>
<text transform="translate(563.20,481.97) scale(1.180,1)" font-size="8.3" text-anchor="end" fill="#111" >100</text>
<text transform="translate(563.20,499.50) scale(1.180,1)" font-size="8.3" text-anchor="end" fill="#111" >0</text>
<text transform="translate(563.20,517.03) scale(1.180,1)" font-size="8.3" text-anchor="end" fill="#111" >-100</text>
<text transform="translate(565.50,532.40) scale(1.180,1)" font-size="8.3" text-anchor="middle" fill="#111" >0</text>
<text transform="translate(615.60,532.40) scale(1.180,1)" font-size="8.3" text-anchor="middle" fill="#111" >100</text>
<text transform="translate(665.70,532.40) scale(1.180,1)" font-size="8.3" text-anchor="middle" fill="#111" >200</text>
<text transform="translate(715.80,532.40) scale(1.180,1)" font-size="8.3" text-anchor="middle" fill="#111" >300</text>
<text transform="translate(661.80,451.80) scale(1.160,1)" font-size="9.0" text-anchor="middle" fill="#111" >Condition 2: Fixed-absent</text>
<path d="M565.60 579.60H760.00M565.60 594.40H760.00" stroke="#000" stroke-width="1" stroke-dasharray="15.5 6.16" fill="none"/>
<path d="M565.60 586.70H760.00" stroke="#000" stroke-width="1" fill="none"/>
<path d="M578.8 583.9h4.4M581.0 581.9v3.8" stroke="#f00" stroke-width="1.1"/>
<path d="M579.9 582.1h4.4M582.1 580.1v3.8" stroke="#f00" stroke-width="1.1"/>
<path d="M581.1 582.7h4.4M583.3 580.7v3.8" stroke="#f00" stroke-width="1.1"/>
<path d="M581.7 587.9h4.4M583.9 585.9v3.8" stroke="#f00" stroke-width="1.1"/>
<path d="M586.8 579.3h4.4M589.0 577.3v3.8" stroke="#f00" stroke-width="1.1"/>
<path d="M587.4 578.7h4.4M589.6 576.7v3.8" stroke="#f00" stroke-width="1.1"/>
<path d="M591.4 587.9h4.4M593.6 585.9v3.8" stroke="#f00" stroke-width="1.1"/>
<path d="M592.5 585.6h4.4M594.7 583.6v3.8" stroke="#f00" stroke-width="1.1"/>
<path d="M593.7 581.6h4.4M595.9 579.6v3.8" stroke="#f00" stroke-width="1.1"/>
<path d="M614.2 583.3h4.4M616.4 581.3v3.8" stroke="#f00" stroke-width="1.1"/>
<path d="M619.4 578.1h4.4M621.6 576.1v3.8" stroke="#f00" stroke-width="1.1"/>
<path d="M625.7 575.3h4.4M627.9 573.3v3.8" stroke="#f00" stroke-width="1.1"/>
<path d="M630.8 581.6h4.4M633.0 579.6v3.8" stroke="#f00" stroke-width="1.1"/>
<path d="M646.8 586.1h4.4M649.0 584.1v3.8" stroke="#f00" stroke-width="1.1"/>
<path d="M574.2 589.6h4.4M576.4 587.6v3.8" stroke="#f00" stroke-width="1.1"/>
<path d="M577.7 589.6h4.4M579.9 587.6v3.8" stroke="#f00" stroke-width="1.1"/>
<circle cx="576.6" cy="589.2" r="1.55" stroke="#00f" stroke-width="1.15" fill="none"/>
<circle cx="581.2" cy="588.2" r="1.55" stroke="#00f" stroke-width="1.15" fill="none"/>
<circle cx="577.7" cy="588.6" r="1.55" stroke="#00f" stroke-width="1.15" fill="none"/>
<circle cx="577.7" cy="588.3" r="1.55" stroke="#00f" stroke-width="1.15" fill="none"/>
<circle cx="570.7" cy="589.8" r="1.55" stroke="#00f" stroke-width="1.15" fill="none"/>
<circle cx="579.9" cy="587.2" r="1.55" stroke="#00f" stroke-width="1.15" fill="none"/>
<circle cx="569.5" cy="590.6" r="1.55" stroke="#00f" stroke-width="1.15" fill="none"/>
<circle cx="569.1" cy="590.0" r="1.55" stroke="#00f" stroke-width="1.15" fill="none"/>
<circle cx="577.4" cy="589.0" r="1.55" stroke="#00f" stroke-width="1.15" fill="none"/>
<circle cx="577.4" cy="588.7" r="1.55" stroke="#00f" stroke-width="1.15" fill="none"/>
<circle cx="573.0" cy="590.4" r="1.55" stroke="#00f" stroke-width="1.15" fill="none"/>
<circle cx="579.6" cy="588.6" r="1.55" stroke="#00f" stroke-width="1.15" fill="none"/>
<circle cx="580.8" cy="587.3" r="1.55" stroke="#00f" stroke-width="1.15" fill="none"/>
<circle cx="570.1" cy="589.7" r="1.55" stroke="#00f" stroke-width="1.15" fill="none"/>
<circle cx="579.7" cy="588.4" r="1.55" stroke="#00f" stroke-width="1.15" fill="none"/>
<circle cx="579.2" cy="587.9" r="1.55" stroke="#00f" stroke-width="1.15" fill="none"/>
<circle cx="568.6" cy="591.3" r="1.55" stroke="#00f" stroke-width="1.15" fill="none"/>
<circle cx="570.3" cy="590.3" r="1.55" stroke="#00f" stroke-width="1.15" fill="none"/>
<circle cx="567.6" cy="590.8" r="1.55" stroke="#00f" stroke-width="1.15" fill="none"/>
<circle cx="577.4" cy="588.3" r="1.55" stroke="#00f" stroke-width="1.15" fill="none"/>
<circle cx="581.0" cy="588.3" r="1.55" stroke="#00f" stroke-width="1.15" fill="none"/>
<circle cx="575.7" cy="588.8" r="1.55" stroke="#00f" stroke-width="1.15" fill="none"/>
<circle cx="573.9" cy="589.4" r="1.55" stroke="#00f" stroke-width="1.15" fill="none"/>
<circle cx="577.4" cy="588.2" r="1.55" stroke="#00f" stroke-width="1.15" fill="none"/>
<circle cx="579.2" cy="588.6" r="1.55" stroke="#00f" stroke-width="1.15" fill="none"/>
<circle cx="569.5" cy="590.1" r="1.55" stroke="#00f" stroke-width="1.15" fill="none"/>
<circle cx="578.7" cy="587.7" r="1.55" stroke="#00f" stroke-width="1.15" fill="none"/>
<circle cx="574.4" cy="589.9" r="1.55" stroke="#00f" stroke-width="1.15" fill="none"/>
<circle cx="585.6" cy="583.9" r="1.55" stroke="#00f" stroke-width="1.15" fill="none"/>
<circle cx="587.9" cy="583.3" r="1.55" stroke="#00f" stroke-width="1.15" fill="none"/>
<circle cx="589.6" cy="583.5" r="1.55" stroke="#00f" stroke-width="1.15" fill="none"/>
<circle cx="593.6" cy="577.6" r="1.55" stroke="#00f" stroke-width="1.15" fill="none"/>
<circle cx="594.1" cy="579.9" r="1.55" stroke="#00f" stroke-width="1.15" fill="none"/>
<circle cx="594.7" cy="582.7" r="1.55" stroke="#00f" stroke-width="1.15" fill="none"/>
<circle cx="596.4" cy="581.0" r="1.55" stroke="#00f" stroke-width="1.15" fill="none"/>
<circle cx="598.1" cy="580.4" r="1.55" stroke="#00f" stroke-width="1.15" fill="none"/>
<circle cx="597.0" cy="578.7" r="1.55" stroke="#00f" stroke-width="1.15" fill="none"/>
<circle cx="601.6" cy="584.4" r="1.55" stroke="#00f" stroke-width="1.15" fill="none"/>
<circle cx="602.7" cy="585.0" r="1.55" stroke="#00f" stroke-width="1.15" fill="none"/>
<circle cx="603.3" cy="583.9" r="1.55" stroke="#00f" stroke-width="1.15" fill="none"/>
<path d="M565.60 554.90V618.30H760.00" stroke="#000" stroke-width="1" fill="none"/>
<path d="M565.60 557.50h2.6M565.60 574.50h2.6M565.60 592.50h2.6M565.60 609.50h2.6M565.50 618.30v-2.6M615.50 618.30v-2.6M665.50 618.30v-2.6M715.50 618.30v-2.6" stroke="#000" stroke-width="1" fill="none"/>
<text transform="translate(563.20,560.36) scale(1.180,1)" font-size="8.3" text-anchor="end" fill="#111" >200</text>
<text transform="translate(563.20,577.73) scale(1.180,1)" font-size="8.3" text-anchor="end" fill="#111" >100</text>
<text transform="translate(563.20,595.10) scale(1.180,1)" font-size="8.3" text-anchor="end" fill="#111" >0</text>
<text transform="translate(563.20,612.47) scale(1.180,1)" font-size="8.3" text-anchor="end" fill="#111" >-100</text>
<text transform="translate(565.50,627.90) scale(1.180,1)" font-size="8.3" text-anchor="middle" fill="#111" >0</text>
<text transform="translate(615.60,627.90) scale(1.180,1)" font-size="8.3" text-anchor="middle" fill="#111" >100</text>
<text transform="translate(665.70,627.90) scale(1.180,1)" font-size="8.3" text-anchor="middle" fill="#111" >200</text>
<text transform="translate(715.80,627.90) scale(1.180,1)" font-size="8.3" text-anchor="middle" fill="#111" >300</text>
<text transform="translate(661.80,548.40) scale(1.160,1)" font-size="9.0" text-anchor="middle" fill="#111" >Condition 3: Fixed-sway</text>
<path d="M820.70 386.50H1015.60M820.70 401.00H1015.60" stroke="#000" stroke-width="1" stroke-dasharray="15.5 6.16" fill="none"/>
<path d="M821.30 393.80H1015.60" stroke="#000" stroke-width="1" fill="none"/>
<path d="M833.8 389.8h4.4M836 387.8v3.8" stroke="#f00" stroke-width="1.1"/>
<path d="M835.8 390.5h4.4M838 388.5v3.8" stroke="#f00" stroke-width="1.1"/>
<path d="M837.8 391.5h4.4M840 389.5v3.8" stroke="#f00" stroke-width="1.1"/>
<path d="M839.8 392.3h4.4M842 390.3v3.8" stroke="#f00" stroke-width="1.1"/>
<path d="M843.3 393.8h4.4M845.5 391.8v3.8" stroke="#f00" stroke-width="1.1"/>
<path d="M844.8 395.5h4.4M847 393.5v3.8" stroke="#f00" stroke-width="1.1"/>
<path d="M839.3 396.2h4.4M841.5 394.2v3.8" stroke="#f00" stroke-width="1.1"/>
<path d="M828.3 394.6h4.4M830.5 392.6v3.8" stroke="#f00" stroke-width="1.1"/>
<path d="M825.8 396.6h4.4M828 394.6v3.8" stroke="#f00" stroke-width="1.1"/>
<path d="M823.8 398.5h4.4M826 396.5v3.8" stroke="#f00" stroke-width="1.1"/>
<path d="M855.3 392.8h4.4M857.5 390.8v3.8" stroke="#f00" stroke-width="1.1"/>
<path d="M860.3 393.2h4.4M862.5 391.2v3.8" stroke="#f00" stroke-width="1.1"/>
<path d="M855.8 387h4.4M858 385.0v3.8" stroke="#f00" stroke-width="1.1"/>
<path d="M865.9 381.9h4.4M868.1 379.9v3.8" stroke="#f00" stroke-width="1.1"/>
<path d="M868.8 387.6h4.4M871.0 385.6v3.8" stroke="#f00" stroke-width="1.1"/>
<path d="M870.2 388.1h4.4M872.4 386.1v3.8" stroke="#f00" stroke-width="1.1"/>
<circle cx="827.5" cy="397.2" r="1.55" stroke="#00f" stroke-width="1.15" fill="none"/>
<circle cx="841.1" cy="393.8" r="1.55" stroke="#00f" stroke-width="1.15" fill="none"/>
<circle cx="829.3" cy="397.2" r="1.55" stroke="#00f" stroke-width="1.15" fill="none"/>
<circle cx="833.8" cy="395.6" r="1.55" stroke="#00f" stroke-width="1.15" fill="none"/>
<circle cx="825.5" cy="398.6" r="1.55" stroke="#00f" stroke-width="1.15" fill="none"/>
<circle cx="840.5" cy="393.0" r="1.55" stroke="#00f" stroke-width="1.15" fill="none"/>
<circle cx="832.0" cy="396.7" r="1.55" stroke="#00f" stroke-width="1.15" fill="none"/>
<circle cx="825.7" cy="397.3" r="1.55" stroke="#00f" stroke-width="1.15" fill="none"/>
<circle cx="827.7" cy="398.1" r="1.55" stroke="#00f" stroke-width="1.15" fill="none"/>
<circle cx="834.2" cy="396.0" r="1.55" stroke="#00f" stroke-width="1.15" fill="none"/>
<circle cx="828.5" cy="397.2" r="1.55" stroke="#00f" stroke-width="1.15" fill="none"/>
<circle cx="840.0" cy="393.8" r="1.55" stroke="#00f" stroke-width="1.15" fill="none"/>
<circle cx="830.8" cy="395.7" r="1.55" stroke="#00f" stroke-width="1.15" fill="none"/>
<circle cx="841.8" cy="393.3" r="1.55" stroke="#00f" stroke-width="1.15" fill="none"/>
<circle cx="827.1" cy="398.1" r="1.55" stroke="#00f" stroke-width="1.15" fill="none"/>
<circle cx="835.6" cy="394.7" r="1.55" stroke="#00f" stroke-width="1.15" fill="none"/>
<circle cx="842.3" cy="392.0" r="1.55" stroke="#00f" stroke-width="1.15" fill="none"/>
<circle cx="830.2" cy="397.3" r="1.55" stroke="#00f" stroke-width="1.15" fill="none"/>
<circle cx="826.5" cy="397.3" r="1.55" stroke="#00f" stroke-width="1.15" fill="none"/>
<circle cx="830.5" cy="395.9" r="1.55" stroke="#00f" stroke-width="1.15" fill="none"/>
<circle cx="830.2" cy="397.4" r="1.55" stroke="#00f" stroke-width="1.15" fill="none"/>
<circle cx="838.8" cy="394.5" r="1.55" stroke="#00f" stroke-width="1.15" fill="none"/>
<circle cx="825.6" cy="399.0" r="1.55" stroke="#00f" stroke-width="1.15" fill="none"/>
<circle cx="840.8" cy="393.1" r="1.55" stroke="#00f" stroke-width="1.15" fill="none"/>
<circle cx="827.9" cy="396.7" r="1.55" stroke="#00f" stroke-width="1.15" fill="none"/>
<circle cx="827.8" cy="396.5" r="1.55" stroke="#00f" stroke-width="1.15" fill="none"/>
<circle cx="832.4" cy="396.4" r="1.55" stroke="#00f" stroke-width="1.15" fill="none"/>
<circle cx="834.4" cy="395.2" r="1.55" stroke="#00f" stroke-width="1.15" fill="none"/>
<circle cx="826.7" cy="397.6" r="1.55" stroke="#00f" stroke-width="1.15" fill="none"/>
<circle cx="839.8" cy="393.5" r="1.55" stroke="#00f" stroke-width="1.15" fill="none"/>
<circle cx="836.1" cy="394.6" r="1.55" stroke="#00f" stroke-width="1.15" fill="none"/>
<circle cx="828.6" cy="397.9" r="1.55" stroke="#00f" stroke-width="1.15" fill="none"/>
<circle cx="840.3" cy="394.0" r="1.55" stroke="#00f" stroke-width="1.15" fill="none"/>
<circle cx="838.3" cy="394.0" r="1.55" stroke="#00f" stroke-width="1.15" fill="none"/>
<circle cx="830.4" cy="395.9" r="1.55" stroke="#00f" stroke-width="1.15" fill="none"/>
<circle cx="845.5" cy="389.5" r="1.55" stroke="#00f" stroke-width="1.15" fill="none"/>
<circle cx="847.5" cy="388.2" r="1.55" stroke="#00f" stroke-width="1.15" fill="none"/>
<circle cx="849.5" cy="387.6" r="1.55" stroke="#00f" stroke-width="1.15" fill="none"/>
<circle cx="851.5" cy="386.8" r="1.55" stroke="#00f" stroke-width="1.15" fill="none"/>
<circle cx="853.5" cy="386" r="1.55" stroke="#00f" stroke-width="1.15" fill="none"/>
<circle cx="856" cy="385.4" r="1.55" stroke="#00f" stroke-width="1.15" fill="none"/>
<circle cx="857.5" cy="386.3" r="1.55" stroke="#00f" stroke-width="1.15" fill="none"/>
<circle cx="855" cy="389.2" r="1.55" stroke="#00f" stroke-width="1.15" fill="none"/>
<circle cx="853" cy="390.5" r="1.55" stroke="#00f" stroke-width="1.15" fill="none"/>
<circle cx="851" cy="391.8" r="1.55" stroke="#00f" stroke-width="1.15" fill="none"/>
<circle cx="848.5" cy="392.3" r="1.55" stroke="#00f" stroke-width="1.15" fill="none"/>
<circle cx="854.5" cy="393.8" r="1.55" stroke="#00f" stroke-width="1.15" fill="none"/>
<circle cx="856" cy="392.5" r="1.55" stroke="#00f" stroke-width="1.15" fill="none"/>
<circle cx="849.5" cy="390" r="1.55" stroke="#00f" stroke-width="1.15" fill="none"/>
<circle cx="852.5" cy="388.8" r="1.55" stroke="#00f" stroke-width="1.15" fill="none"/>
<circle cx="852.4" cy="398.6" r="1.55" stroke="#00f" stroke-width="1.15" fill="none"/>
<circle cx="865.8" cy="387.6" r="1.55" stroke="#00f" stroke-width="1.15" fill="none"/>
<circle cx="873.9" cy="388.6" r="1.55" stroke="#00f" stroke-width="1.15" fill="none"/>
<circle cx="873.9" cy="394.3" r="1.55" stroke="#00f" stroke-width="1.15" fill="none"/>
<circle cx="901.0" cy="400.3" r="1.55" stroke="#00f" stroke-width="1.15" fill="none"/>
<circle cx="908.1" cy="396.2" r="1.55" stroke="#00f" stroke-width="1.15" fill="none"/>
<path d="M821.30 362.90V426.30H1015.60" stroke="#000" stroke-width="1" fill="none"/>
<path d="M821.30 365.50h2.6M821.30 383.50h2.6M821.30 400.50h2.6M821.30 417.50h2.6M821.50 426.30v-2.6M871.50 426.30v-2.6M921.50 426.30v-2.6M971.50 426.30v-2.6" stroke="#000" stroke-width="1" fill="none"/>
<text transform="translate(818.90,368.86) scale(1.180,1)" font-size="8.3" text-anchor="end" fill="#111" >200</text>
<text transform="translate(818.90,386.03) scale(1.180,1)" font-size="8.3" text-anchor="end" fill="#111" >100</text>
<text transform="translate(818.90,403.20) scale(1.180,1)" font-size="8.3" text-anchor="end" fill="#111" >0</text>
<text transform="translate(818.90,420.37) scale(1.180,1)" font-size="8.3" text-anchor="end" fill="#111" >-100</text>
<text transform="translate(821.20,435.90) scale(1.180,1)" font-size="8.3" text-anchor="middle" fill="#111" >0</text>
<text transform="translate(871.30,435.90) scale(1.180,1)" font-size="8.3" text-anchor="middle" fill="#111" >100</text>
<text transform="translate(921.40,435.90) scale(1.180,1)" font-size="8.3" text-anchor="middle" fill="#111" >200</text>
<text transform="translate(971.50,435.90) scale(1.180,1)" font-size="8.3" text-anchor="middle" fill="#111" >300</text>
<text transform="translate(917.45,356.40) scale(1.160,1)" font-size="9.0" text-anchor="middle" fill="#111" >Condition 4: Sway-fixed</text>
<path d="M820.70 475.80H1015.60M820.70 500.40H1015.60" stroke="#000" stroke-width="1" stroke-dasharray="15.5 6.16" fill="none"/>
<path d="M821.30 488.60H1015.60" stroke="#000" stroke-width="1" fill="none"/>
<path d="M832.1 493.3h4.4M834.3 491.3v3.8" stroke="#f00" stroke-width="1.1"/>
<path d="M835.0 493.9h4.4M837.2 491.9v3.8" stroke="#f00" stroke-width="1.1"/>
<path d="M841.7 492.4h4.4M843.9 490.4v3.8" stroke="#f00" stroke-width="1.1"/>
<path d="M842.6 490.9h4.4M844.8 488.9v3.8" stroke="#f00" stroke-width="1.1"/>
<path d="M845.5 486.7h4.4M847.7 484.7v3.8" stroke="#f00" stroke-width="1.1"/>
<path d="M847.0 488.6h4.4M849.2 486.6v3.8" stroke="#f00" stroke-width="1.1"/>
<path d="M850.2 494.3h4.4M852.4 492.3v3.8" stroke="#f00" stroke-width="1.1"/>
<path d="M858.8 484.8h4.4M861.0 482.8v3.8" stroke="#f00" stroke-width="1.1"/>
<path d="M862.6 482.9h4.4M864.8 480.9v3.8" stroke="#f00" stroke-width="1.1"/>
<path d="M866.4 486.7h4.4M868.6 484.7v3.8" stroke="#f00" stroke-width="1.1"/>
<path d="M867.4 476.2h4.4M869.6 474.2v3.8" stroke="#f00" stroke-width="1.1"/>
<path d="M870.2 490.5h4.4M872.4 488.5v3.8" stroke="#f00" stroke-width="1.1"/>
<path d="M871.2 480.0h4.4M873.4 478.0v3.8" stroke="#f00" stroke-width="1.1"/>
<path d="M872.1 483.8h4.4M874.3 481.8v3.8" stroke="#f00" stroke-width="1.1"/>
<path d="M878.8 483.8h4.4M881.0 481.8v3.8" stroke="#f00" stroke-width="1.1"/>
<path d="M879.8 497.7h4.4M882.0 495.7v3.8" stroke="#f00" stroke-width="1.1"/>
<path d="M883.6 490.5h4.4M885.8 488.5v3.8" stroke="#f00" stroke-width="1.1"/>
<path d="M884.5 480.0h4.4M886.7 478.0v3.8" stroke="#f00" stroke-width="1.1"/>
<path d="M885.5 490.1h4.4M887.7 488.1v3.8" stroke="#f00" stroke-width="1.1"/>
<path d="M894.0 491.4h4.4M896.2 489.4v3.8" stroke="#f00" stroke-width="1.1"/>
<path d="M897.8 483.2h4.4M900.0 481.2v3.8" stroke="#f00" stroke-width="1.1"/>
<path d="M901.7 482.5h4.4M903.9 480.5v3.8" stroke="#f00" stroke-width="1.1"/>
<path d="M901.7 499.6h4.4M903.9 497.6v3.8" stroke="#f00" stroke-width="1.1"/>
<path d="M900.7 504.8h4.4M902.9 502.8v3.8" stroke="#f00" stroke-width="1.1"/>
<path d="M909.3 494.9h4.4M911.5 492.9v3.8" stroke="#f00" stroke-width="1.1"/>
<path d="M913.1 505.3h4.4M915.3 503.3v3.8" stroke="#f00" stroke-width="1.1"/>
<path d="M915.9 492.0h4.4M918.1 490.0v3.8" stroke="#f00" stroke-width="1.1"/>
<path d="M921.7 481.3h4.4M923.9 479.3v3.8" stroke="#f00" stroke-width="1.1"/>
<path d="M971.2 496.2h4.4M973.4 494.2v3.8" stroke="#f00" stroke-width="1.1"/>
<path d="M991.2 487.6h4.4M993.4 485.6v3.8" stroke="#f00" stroke-width="1.1"/>
<path d="M997.8 492.8h4.4M1000.0 490.8v3.8" stroke="#f00" stroke-width="1.1"/>
<circle cx="836.2" cy="492.4" r="1.55" stroke="#00f" stroke-width="1.15" fill="none"/>
<circle cx="838.1" cy="490.9" r="1.55" stroke="#00f" stroke-width="1.15" fill="none"/>
<circle cx="840.0" cy="489.5" r="1.55" stroke="#00f" stroke-width="1.15" fill="none"/>
<circle cx="842.0" cy="488.6" r="1.55" stroke="#00f" stroke-width="1.15" fill="none"/>
<circle cx="843.9" cy="487.6" r="1.55" stroke="#00f" stroke-width="1.15" fill="none"/>
<circle cx="852.4" cy="484.8" r="1.55" stroke="#00f" stroke-width="1.15" fill="none"/>
<circle cx="853.0" cy="481.3" r="1.55" stroke="#00f" stroke-width="1.15" fill="none"/>
<circle cx="856.2" cy="492.8" r="1.55" stroke="#00f" stroke-width="1.15" fill="none"/>
<circle cx="858.1" cy="484.8" r="1.55" stroke="#00f" stroke-width="1.15" fill="none"/>
<circle cx="860.0" cy="483.8" r="1.55" stroke="#00f" stroke-width="1.15" fill="none"/>
<circle cx="861.0" cy="485.7" r="1.55" stroke="#00f" stroke-width="1.15" fill="none"/>
<circle cx="862.0" cy="483.8" r="1.55" stroke="#00f" stroke-width="1.15" fill="none"/>
<circle cx="863.9" cy="484.8" r="1.55" stroke="#00f" stroke-width="1.15" fill="none"/>
<circle cx="864.8" cy="486.7" r="1.55" stroke="#00f" stroke-width="1.15" fill="none"/>
<circle cx="865.8" cy="480.0" r="1.55" stroke="#00f" stroke-width="1.15" fill="none"/>
<circle cx="866.7" cy="483.8" r="1.55" stroke="#00f" stroke-width="1.15" fill="none"/>
<circle cx="867.7" cy="485.7" r="1.55" stroke="#00f" stroke-width="1.15" fill="none"/>
<circle cx="866.7" cy="494.3" r="1.55" stroke="#00f" stroke-width="1.15" fill="none"/>
<circle cx="868.6" cy="481.9" r="1.55" stroke="#00f" stroke-width="1.15" fill="none"/>
<circle cx="869.6" cy="484.8" r="1.55" stroke="#00f" stroke-width="1.15" fill="none"/>
<circle cx="870.5" cy="483.8" r="1.55" stroke="#00f" stroke-width="1.15" fill="none"/>
<circle cx="871.5" cy="491.4" r="1.55" stroke="#00f" stroke-width="1.15" fill="none"/>
<circle cx="874.3" cy="480.6" r="1.55" stroke="#00f" stroke-width="1.15" fill="none"/>
<circle cx="876.2" cy="495.2" r="1.55" stroke="#00f" stroke-width="1.15" fill="none"/>
<circle cx="877.8" cy="486.3" r="1.55" stroke="#00f" stroke-width="1.15" fill="none"/>
<circle cx="882.0" cy="494.3" r="1.55" stroke="#00f" stroke-width="1.15" fill="none"/>
<circle cx="882.9" cy="492.4" r="1.55" stroke="#00f" stroke-width="1.15" fill="none"/>
<circle cx="885.8" cy="480.0" r="1.55" stroke="#00f" stroke-width="1.15" fill="none"/>
<circle cx="892.4" cy="490.5" r="1.55" stroke="#00f" stroke-width="1.15" fill="none"/>
<circle cx="893.4" cy="492.0" r="1.55" stroke="#00f" stroke-width="1.15" fill="none"/>
<circle cx="895.3" cy="483.2" r="1.55" stroke="#00f" stroke-width="1.15" fill="none"/>
<circle cx="900.0" cy="490.1" r="1.55" stroke="#00f" stroke-width="1.15" fill="none"/>
<circle cx="905.8" cy="495.8" r="1.55" stroke="#00f" stroke-width="1.15" fill="none"/>
<circle cx="918.1" cy="488.6" r="1.55" stroke="#00f" stroke-width="1.15" fill="none"/>
<circle cx="918.1" cy="492.8" r="1.55" stroke="#00f" stroke-width="1.15" fill="none"/>
<circle cx="934.3" cy="491.4" r="1.55" stroke="#00f" stroke-width="1.15" fill="none"/>
<circle cx="940.6" cy="491.4" r="1.55" stroke="#00f" stroke-width="1.15" fill="none"/>
<circle cx="969.6" cy="484.8" r="1.55" stroke="#00f" stroke-width="1.15" fill="none"/>
<circle cx="979.1" cy="497.7" r="1.55" stroke="#00f" stroke-width="1.15" fill="none"/>
<circle cx="990.5" cy="497.7" r="1.55" stroke="#00f" stroke-width="1.15" fill="none"/>
<path d="M821.30 458.30V522.80H1015.60" stroke="#000" stroke-width="1" fill="none"/>
<path d="M821.30 461.50h2.6M821.30 478.50h2.6M821.30 496.50h2.6M821.30 514.50h2.6M821.50 522.80v-2.6M871.50 522.80v-2.6M921.50 522.80v-2.6M971.50 522.80v-2.6" stroke="#000" stroke-width="1" fill="none"/>
<text transform="translate(818.90,464.44) scale(1.180,1)" font-size="8.3" text-anchor="end" fill="#111" >200</text>
<text transform="translate(818.90,481.97) scale(1.180,1)" font-size="8.3" text-anchor="end" fill="#111" >100</text>
<text transform="translate(818.90,499.50) scale(1.180,1)" font-size="8.3" text-anchor="end" fill="#111" >0</text>
<text transform="translate(818.90,517.03) scale(1.180,1)" font-size="8.3" text-anchor="end" fill="#111" >-100</text>
<text transform="translate(821.20,532.40) scale(1.180,1)" font-size="8.3" text-anchor="middle" fill="#111" >0</text>
<text transform="translate(871.30,532.40) scale(1.180,1)" font-size="8.3" text-anchor="middle" fill="#111" >100</text>
<text transform="translate(921.40,532.40) scale(1.180,1)" font-size="8.3" text-anchor="middle" fill="#111" >200</text>
<text transform="translate(971.50,532.40) scale(1.180,1)" font-size="8.3" text-anchor="middle" fill="#111" >300</text>
<text transform="translate(917.45,451.80) scale(1.160,1)" font-size="9.0" text-anchor="middle" fill="#111" >Condition 5: Sway-absent</text>
<path d="M820.70 576.20H1015.60M820.70 591.00H1015.60" stroke="#000" stroke-width="1" stroke-dasharray="15.5 6.16" fill="none"/>
<path d="M821.30 583.20H1015.60" stroke="#000" stroke-width="1" fill="none"/>
<path d="M832.1 584.8h4.4M834.3 582.8v3.8" stroke="#f00" stroke-width="1.1"/>
<path d="M834.0 584.8h4.4M836.2 582.8v3.8" stroke="#f00" stroke-width="1.1"/>
<path d="M838.8 582.9h4.4M841.0 580.9v3.8" stroke="#f00" stroke-width="1.1"/>
<path d="M840.7 586.7h4.4M842.9 584.7v3.8" stroke="#f00" stroke-width="1.1"/>
<path d="M844.5 582.9h4.4M846.7 580.9v3.8" stroke="#f00" stroke-width="1.1"/>
<path d="M847.4 581.0h4.4M849.6 579.0v3.8" stroke="#f00" stroke-width="1.1"/>
<path d="M848.3 583.8h4.4M850.5 581.8v3.8" stroke="#f00" stroke-width="1.1"/>
<path d="M850.2 579.0h4.4M852.4 577.0v3.8" stroke="#f00" stroke-width="1.1"/>
<path d="M853.1 582.9h4.4M855.3 580.9v3.8" stroke="#f00" stroke-width="1.1"/>
<path d="M854.0 588.6h4.4M856.2 586.6v3.8" stroke="#f00" stroke-width="1.1"/>
<path d="M855.9 577.1h4.4M858.1 575.1v3.8" stroke="#f00" stroke-width="1.1"/>
<path d="M856.9 584.8h4.4M859.1 582.8v3.8" stroke="#f00" stroke-width="1.1"/>
<path d="M858.8 581.0h4.4M861.0 579.0v3.8" stroke="#f00" stroke-width="1.1"/>
<path d="M861.7 583.8h4.4M863.9 581.8v3.8" stroke="#f00" stroke-width="1.1"/>
<path d="M864.5 590.5h4.4M866.7 588.5v3.8" stroke="#f00" stroke-width="1.1"/>
<path d="M869.3 582.5h4.4M871.5 580.5v3.8" stroke="#f00" stroke-width="1.1"/>
<path d="M870.2 590.5h4.4M872.4 588.5v3.8" stroke="#f00" stroke-width="1.1"/>
<path d="M874.0 579.0h4.4M876.2 577.0v3.8" stroke="#f00" stroke-width="1.1"/>
<path d="M882.6 579.0h4.4M884.8 577.0v3.8" stroke="#f00" stroke-width="1.1"/>
<path d="M891.2 577.1h4.4M893.4 575.1v3.8" stroke="#f00" stroke-width="1.1"/>
<path d="M894.0 578.1h4.4M896.2 576.1v3.8" stroke="#f00" stroke-width="1.1"/>
<path d="M975.0 580.0h4.4M977.2 578.0v3.8" stroke="#f00" stroke-width="1.1"/>
<path d="M979.8 589.0h4.4M982.0 587.0v3.8" stroke="#f00" stroke-width="1.1"/>
<path d="M994.0 578.1h4.4M996.2 576.1v3.8" stroke="#f00" stroke-width="1.1"/>
<circle cx="828.6" cy="589.5" r="1.55" stroke="#00f" stroke-width="1.15" fill="none"/>
<circle cx="831.5" cy="588.6" r="1.55" stroke="#00f" stroke-width="1.15" fill="none"/>
<circle cx="839.1" cy="584.8" r="1.55" stroke="#00f" stroke-width="1.15" fill="none"/>
<circle cx="840.0" cy="586.7" r="1.55" stroke="#00f" stroke-width="1.15" fill="none"/>
<circle cx="842.0" cy="583.8" r="1.55" stroke="#00f" stroke-width="1.15" fill="none"/>
<circle cx="844.8" cy="585.7" r="1.55" stroke="#00f" stroke-width="1.15" fill="none"/>
<circle cx="847.7" cy="584.8" r="1.55" stroke="#00f" stroke-width="1.15" fill="none"/>
<circle cx="849.6" cy="578.1" r="1.55" stroke="#00f" stroke-width="1.15" fill="none"/>
<circle cx="850.5" cy="581.0" r="1.55" stroke="#00f" stroke-width="1.15" fill="none"/>
<circle cx="851.5" cy="583.8" r="1.55" stroke="#00f" stroke-width="1.15" fill="none"/>
<circle cx="853.4" cy="579.0" r="1.55" stroke="#00f" stroke-width="1.15" fill="none"/>
<circle cx="854.3" cy="581.9" r="1.55" stroke="#00f" stroke-width="1.15" fill="none"/>
<circle cx="855.3" cy="584.8" r="1.55" stroke="#00f" stroke-width="1.15" fill="none"/>
<circle cx="856.2" cy="580.0" r="1.55" stroke="#00f" stroke-width="1.15" fill="none"/>
<circle cx="857.2" cy="582.9" r="1.55" stroke="#00f" stroke-width="1.15" fill="none"/>
<circle cx="858.1" cy="579.0" r="1.55" stroke="#00f" stroke-width="1.15" fill="none"/>
<circle cx="860.0" cy="585.7" r="1.55" stroke="#00f" stroke-width="1.15" fill="none"/>
<circle cx="861.0" cy="587.6" r="1.55" stroke="#00f" stroke-width="1.15" fill="none"/>
<circle cx="864.8" cy="590.5" r="1.55" stroke="#00f" stroke-width="1.15" fill="none"/>
<circle cx="866.7" cy="578.1" r="1.55" stroke="#00f" stroke-width="1.15" fill="none"/>
<circle cx="867.7" cy="584.8" r="1.55" stroke="#00f" stroke-width="1.15" fill="none"/>
<circle cx="868.6" cy="586.7" r="1.55" stroke="#00f" stroke-width="1.15" fill="none"/>
<circle cx="869.6" cy="578.1" r="1.55" stroke="#00f" stroke-width="1.15" fill="none"/>
<circle cx="872.4" cy="577.1" r="1.55" stroke="#00f" stroke-width="1.15" fill="none"/>
<circle cx="874.3" cy="588.2" r="1.55" stroke="#00f" stroke-width="1.15" fill="none"/>
<circle cx="875.3" cy="586.7" r="1.55" stroke="#00f" stroke-width="1.15" fill="none"/>
<circle cx="876.2" cy="574.3" r="1.55" stroke="#00f" stroke-width="1.15" fill="none"/>
<circle cx="876.2" cy="588.6" r="1.55" stroke="#00f" stroke-width="1.15" fill="none"/>
<circle cx="880.0" cy="590.9" r="1.55" stroke="#00f" stroke-width="1.15" fill="none"/>
<circle cx="897.2" cy="581.9" r="1.55" stroke="#00f" stroke-width="1.15" fill="none"/>
<circle cx="905.8" cy="588.6" r="1.55" stroke="#00f" stroke-width="1.15" fill="none"/>
<circle cx="909.6" cy="574.9" r="1.55" stroke="#00f" stroke-width="1.15" fill="none"/>
<circle cx="910.5" cy="592.0" r="1.55" stroke="#00f" stroke-width="1.15" fill="none"/>
<circle cx="922.9" cy="586.7" r="1.55" stroke="#00f" stroke-width="1.15" fill="none"/>
<path d="M821.30 554.90V618.30H1015.60" stroke="#000" stroke-width="1" fill="none"/>
<path d="M821.30 557.50h2.6M821.30 574.50h2.6M821.30 592.50h2.6M821.30 609.50h2.6M821.50 618.30v-2.6M871.50 618.30v-2.6M921.50 618.30v-2.6M971.50 618.30v-2.6" stroke="#000" stroke-width="1" fill="none"/>
<text transform="translate(818.90,560.36) scale(1.180,1)" font-size="8.3" text-anchor="end" fill="#111" >200</text>
<text transform="translate(818.90,577.73) scale(1.180,1)" font-size="8.3" text-anchor="end" fill="#111" >100</text>
<text transform="translate(818.90,595.10) scale(1.180,1)" font-size="8.3" text-anchor="end" fill="#111" >0</text>
<text transform="translate(818.90,612.47) scale(1.180,1)" font-size="8.3" text-anchor="end" fill="#111" >-100</text>
<text transform="translate(821.20,627.90) scale(1.180,1)" font-size="8.3" text-anchor="middle" fill="#111" >0</text>
<text transform="translate(871.30,627.90) scale(1.180,1)" font-size="8.3" text-anchor="middle" fill="#111" >100</text>
<text transform="translate(921.40,627.90) scale(1.180,1)" font-size="8.3" text-anchor="middle" fill="#111" >200</text>
<text transform="translate(971.50,627.90) scale(1.180,1)" font-size="8.3" text-anchor="middle" fill="#111" >300</text>
<text transform="translate(917.45,548.40) scale(1.160,1)" font-size="9.0" text-anchor="middle" fill="#111" >Condition 6: Sway-sway</text>
<text transform="translate(780.25,344.20) scale(1.122,1)" font-size="17.2" text-anchor="middle" fill="#000" >95% Ellipse Area (cm<tspan dy="-5.8" font-size="10.5">2</tspan><tspan dy="5.8">/s</tspan><tspan dy="-5.8" font-size="10.5">4</tspan><tspan dy="5.8">)</tspan></text>
<text transform="translate(662.50,637.00) scale(1.155,1)" font-size="9.0" text-anchor="middle" fill="#111" >Average of 95% Ellipse Area</text>
<text transform="translate(537.50,487.60) rotate(-90) scale(0.968,1)" font-size="9.0" text-anchor="middle" fill="#111" >Difference in 95% Ellipse Area</text>
<path d="M14 325.8H1049" stroke="#000" stroke-width="2" fill="none"/>
<path d="M507.4 42.5V635.8" stroke="#000" stroke-width="1.3" fill="none"/>
<rect x="444.3" y="10.1" width="112.5" height="28.3" fill="#fff" stroke="#000" stroke-width="1"/>
<path d="M451.1 17.9h7M454.6 14.4v7" stroke="#f00" stroke-width="1.5"/>
<circle cx="454.6" cy="31.1" r="3.2" stroke="#00f" stroke-width="1.5" fill="none"/>
<text transform="translate(461.60,22.70) scale(0.925,1)" font-size="11.8" text-anchor="start" fill="#000" >Individuals with PD</text>
<text transform="translate(461.60,35.60) scale(0.925,1)" font-size="11.8" text-anchor="start" fill="#000" >Controls</text>
</svg></body></html>
